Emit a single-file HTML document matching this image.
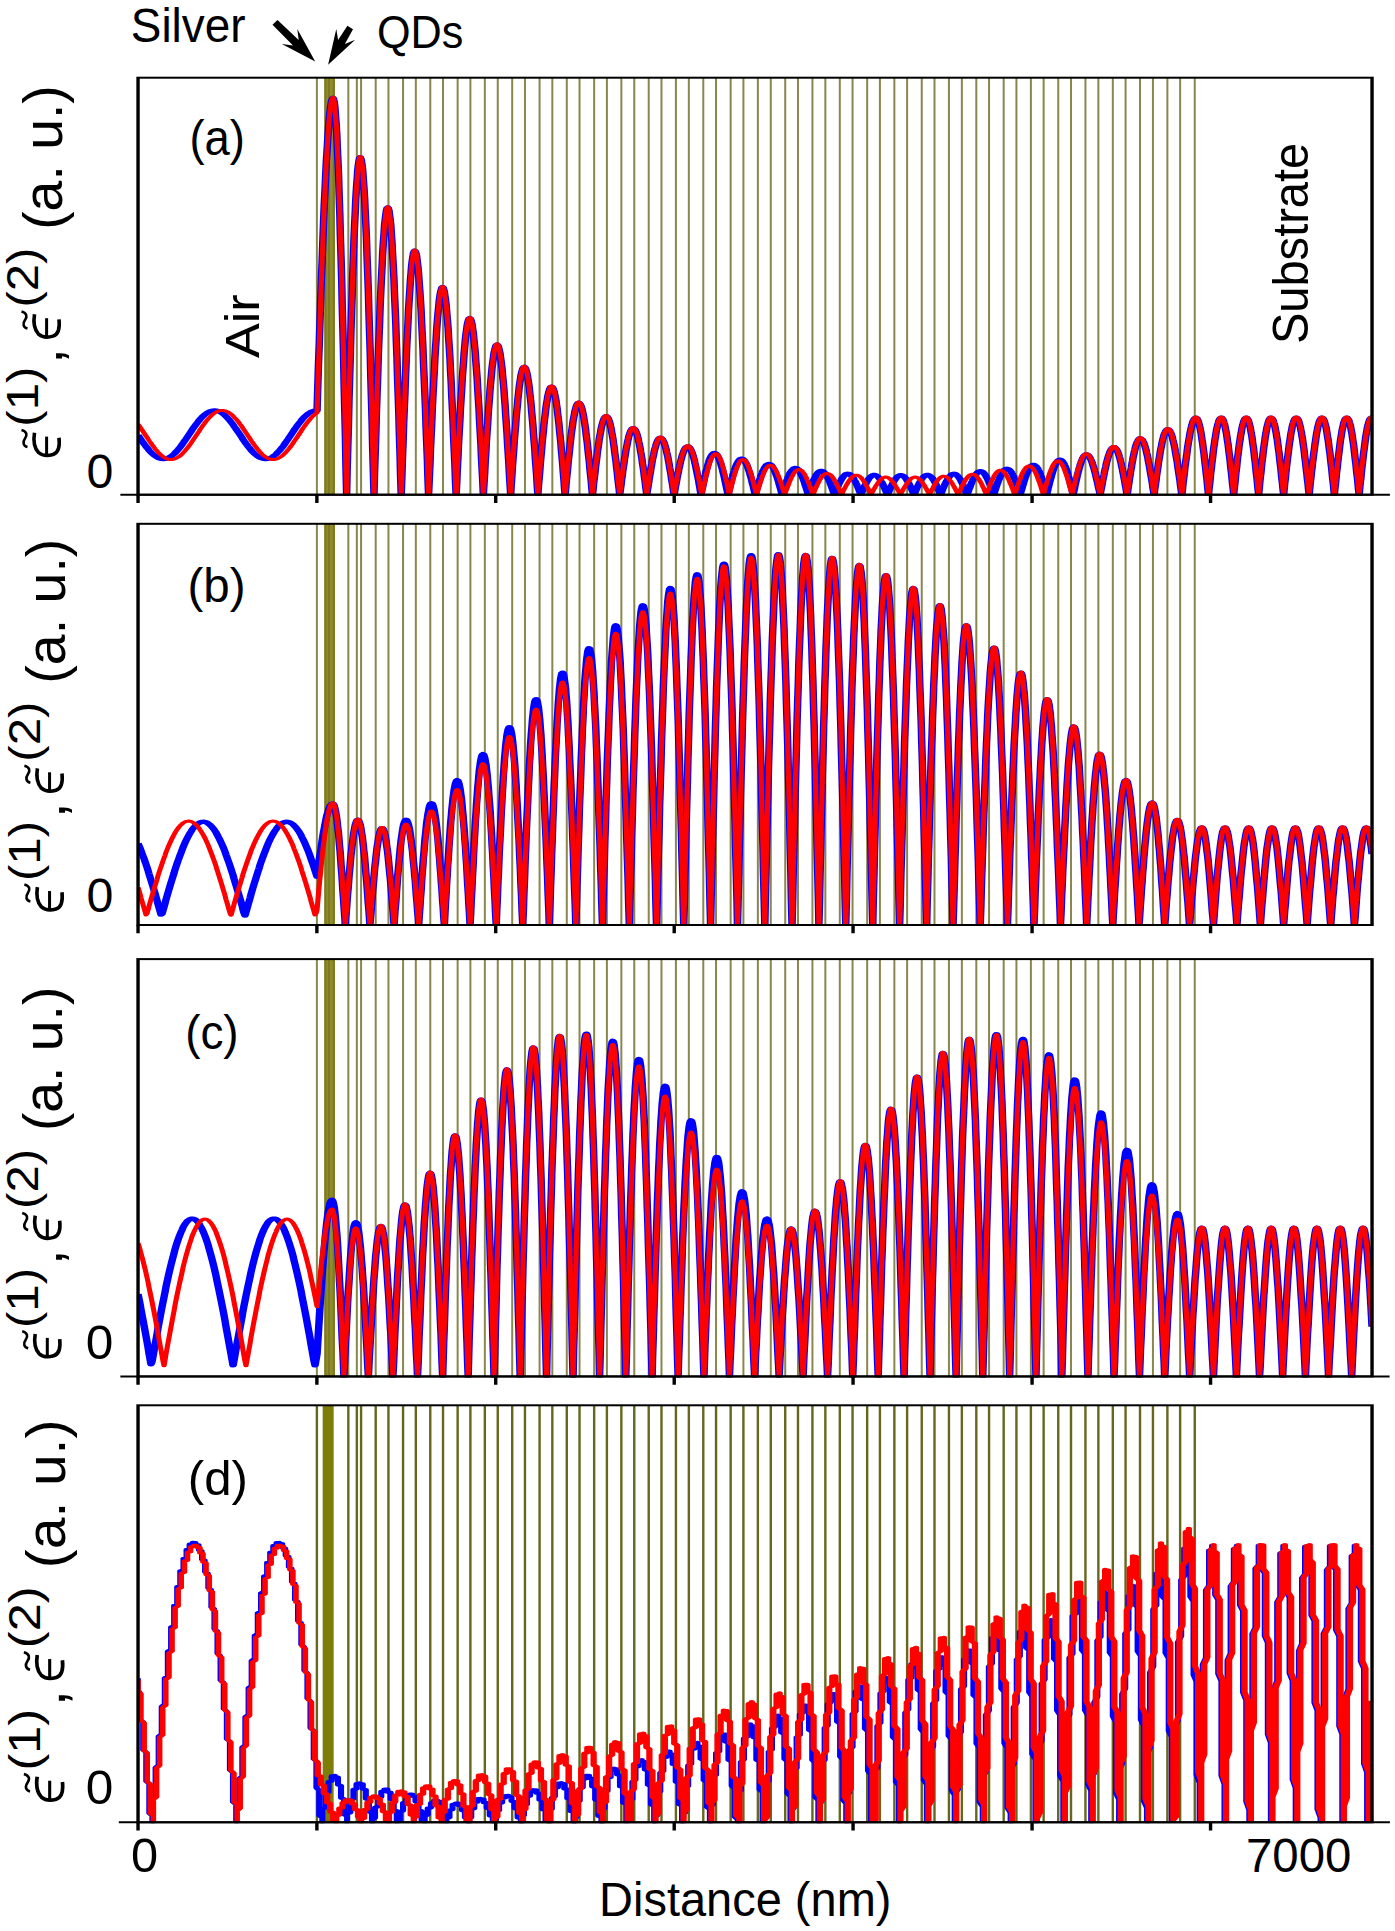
<!DOCTYPE html>
<html><head><meta charset="utf-8"><style>html,body{margin:0;padding:0;background:#fff;}svg{display:block;}</style></head>
<body><svg width="1395" height="1931" viewBox="0 0 1395 1931">
<rect x="0" y="0" width="1395" height="1931" fill="#fff"/>
<g transform="scale(1.7,1)">
<defs><clipPath id="cpa"><rect x="81.2" y="77.7" width="725.88" height="418"/></clipPath><clipPath id="cpb"><rect x="81.2" y="523.8" width="725.88" height="402.2"/></clipPath><clipPath id="cpc"><rect x="81.2" y="959.1" width="725.88" height="418.3"/></clipPath><clipPath id="cpd"><rect x="81.2" y="1405.3" width="725.88" height="418"/></clipPath></defs>
<path d="M186.4 77.7V494.7M204.9 77.7V494.7M209.9 77.7V494.7M212.4 77.7V494.7M221 77.7V494.7M237.1 77.7V494.7M253.1 77.7V494.7M269.2 77.7V494.7M285.2 77.7V494.7M301.3 77.7V494.7M317.4 77.7V494.7M333.4 77.7V494.7M349.5 77.7V494.7M365.5 77.7V494.7M381.6 77.7V494.7M397.6 77.7V494.7M413.7 77.7V494.7M429.8 77.7V494.7M445.8 77.7V494.7M461.9 77.7V494.7M477.9 77.7V494.7M494 77.7V494.7M510.1 77.7V494.7M526.1 77.7V494.7M542.2 77.7V494.7M558.2 77.7V494.7M574.3 77.7V494.7M590.4 77.7V494.7M606.4 77.7V494.7M622.5 77.7V494.7M638.5 77.7V494.7M654.6 77.7V494.7M670.6 77.7V494.7M686.7 77.7V494.7M702.8 77.7V494.7M228.5 77.7V494.7M244.6 77.7V494.7M260.6 77.7V494.7M276.7 77.7V494.7M292.8 77.7V494.7M308.8 77.7V494.7M324.9 77.7V494.7M340.9 77.7V494.7M357 77.7V494.7M373.1 77.7V494.7M389.1 77.7V494.7M405.2 77.7V494.7M421.2 77.7V494.7M437.3 77.7V494.7M453.4 77.7V494.7M469.4 77.7V494.7M485.5 77.7V494.7M501.5 77.7V494.7M517.6 77.7V494.7M533.6 77.7V494.7M549.7 77.7V494.7M565.8 77.7V494.7M581.8 77.7V494.7M597.9 77.7V494.7M613.9 77.7V494.7M630 77.7V494.7M646.1 77.7V494.7M662.1 77.7V494.7M678.2 77.7V494.7M694.2 77.7V494.7" stroke="#8a874c" stroke-width="1.176" fill="none"/>
<rect x="190.8" y="77.7" width="6.24" height="417" fill="#8f8d30"/>
<path d="M191.4 77.7V494.7M193.5 77.7V494.7M196.3 77.7V494.7" stroke="#7c7a1c" stroke-width="1.176" fill="none"/>
<g clip-path="url(#cpa)"><path d="M81.2 435.1L81.8 436.6L82.4 438.1L82.9 439.6L83.5 441L84.1 442.4L84.7 443.8L85.3 445.2L85.9 446.5L86.5 447.8L87.1 449L87.6 450.2L88.2 451.3L88.8 452.4L89.4 453.4L90 454.3L90.6 455.1L91.2 455.9L91.8 456.6L92.4 457.2L92.9 457.7L93.5 458.2L94.1 458.5L94.7 458.8L95.3 458.9L95.9 459L96.5 459L97.1 458.9L97.6 458.7L98.2 458.4L98.8 458L99.4 457.5L100 457L100.6 456.3L101.2 455.6L101.8 454.8L102.4 453.9L102.9 453L103.5 452L104.1 450.9L104.7 449.8L105.3 448.6L105.9 447.3L106.5 446L107.1 444.7L107.6 443.3L108.2 441.9L108.8 440.4L109.4 439L110 437.5L110.6 436L111.2 434.5L111.8 433L112.4 431.6L112.9 430.1L113.5 428.6L114.1 427.2L114.7 425.8L115.3 424.4L115.9 423.1L116.5 421.8L117.1 420.6L117.6 419.4L118.2 418.3L118.8 417.2L119.4 416.2L120 415.3L120.6 414.4L121.2 413.7L121.8 413L122.4 412.4L122.9 411.8L123.5 411.4L124.1 411L124.7 410.8L125.3 410.6L125.9 410.5L126.5 410.5L127.1 410.6L127.6 410.8L128.2 411.1L128.8 411.5L129.4 411.9L130 412.5L130.6 413.1L131.2 413.8L131.8 414.6L132.4 415.5L132.9 416.4L133.5 417.4L134.1 418.5L134.7 419.6L135.3 420.8L135.9 422.1L136.5 423.4L137.1 424.7L137.6 426.1L138.2 427.5L138.8 428.9L139.4 430.4L140 431.8L140.6 433.3L141.2 434.8L141.8 436.3L142.4 437.8L142.9 439.3L143.5 440.7L144.1 442.2L144.7 443.6L145.3 444.9L145.9 446.3L146.5 447.6L147.1 448.8L147.6 450L148.2 451.1L148.8 452.2L149.4 453.2L150 454.1L150.6 455L151.2 455.8L151.8 456.5L152.4 457.1L152.9 457.6L153.5 458.1L154.1 458.4L154.7 458.7L155.3 458.9L155.9 459L156.5 459L157.1 458.9L157.6 458.7L158.2 458.4L158.8 458.1L159.4 457.6L160 457.1L160.6 456.5L161.2 455.8L161.8 455L162.4 454.1L162.9 453.2L163.5 452.2L164.1 451.1L164.7 450L165.3 448.8L165.9 447.6L166.5 446.3L167.1 444.9L167.6 443.6L168.2 442.2L168.8 440.7L169.4 439.3L170 437.8L170.6 436.3L171.2 434.8L171.8 433.3L172.4 431.8L172.9 430.4L173.5 428.9L174.1 427.5L174.7 426.1L175.3 424.7L175.9 423.4L176.5 422.1L177.1 420.8L177.6 419.6L178.2 418.5L178.8 417.4L179.4 416.4L180 415.5L180.6 414.6L181.2 413.8L181.8 413.1L182.4 412.5L182.9 411.9L183.5 411.5L184.1 411.1L184.7 410.8L185.3 410.6L185.9 410.5L186.5 410.5L186.5 410.5L186.9 388.2L187.3 366L187.8 344.1L188.2 322.5L188.6 301.3L189 280.7L189.5 260.7L189.9 241.6L190.3 223.2L190.7 205.9L191.2 189.5L191.6 174.3L192 160.3L192.5 147.6L192.9 136.2L193.3 126.2L193.7 117.7L194.2 110.7L194.6 105.1L195 101.2L195.5 98.8L195.9 98L196.2 99L196.6 102L197 107.1L197.3 114.1L197.7 123L198.1 133.8L198.4 146.5L198.8 161L199.2 177.1L199.5 194.9L199.9 214.2L200.2 234.9L200.6 257L201 280.2L201.3 304.6L201.7 329.9L202.1 356.1L202.4 382.9L202.8 410.4L203.2 438.2L203.5 466.4L203.9 494.7L204.2 470.6L204.6 446.7L205 423L205.3 399.6L205.7 376.8L206.1 354.5L206.4 333L206.8 312.3L207.2 292.5L207.5 273.7L207.9 256.1L208.2 239.7L208.6 224.6L209 210.9L209.3 198.6L209.7 187.8L210.1 178.6L210.4 171L210.8 165L211.2 160.7L211.5 158.2L211.9 157.3L212.2 158.2L212.6 160.7L213 165L213.4 171L213.7 178.6L214.1 187.8L214.5 198.6L214.8 210.9L215.2 224.6L215.6 239.7L215.9 256.1L216.3 273.7L216.7 292.5L217 312.3L217.4 333L217.8 354.5L218.1 376.8L218.5 399.6L218.9 423L219.2 446.7L219.6 470.6L220 494.7L220.3 474.2L220.7 453.8L221.1 433.7L221.4 413.8L221.8 394.3L222.2 375.4L222.5 357.1L222.9 339.4L223.3 322.6L223.6 306.6L224 291.6L224.4 277.6L224.8 264.8L225.1 253.1L225.5 242.6L225.9 233.5L226.2 225.6L226.6 219.1L227 214.1L227.3 210.4L227.7 208.2L228.1 207.5L228.4 208.2L228.8 210.4L229.1 214.1L229.5 219.1L229.9 225.6L230.2 233.5L230.6 242.6L230.9 253.1L231.3 264.8L231.7 277.6L232 291.6L232.4 306.6L232.8 322.6L233.1 339.4L233.5 357.1L233.8 375.4L234.2 394.3L234.6 413.8L234.9 433.7L235.3 453.8L235.6 474.2L236 494.7L236.4 477.3L236.7 460L237.1 442.9L237.4 426L237.8 409.5L238.2 393.4L238.5 377.8L238.9 362.8L239.2 348.5L239.6 335L240 322.2L240.3 310.4L240.7 299.4L241.1 289.5L241.4 280.6L241.8 272.8L242.1 266.2L242.5 260.7L242.9 256.4L243.2 253.3L243.6 251.4L243.9 250.8L244.3 251.4L244.7 253.3L245.1 256.4L245.4 260.7L245.8 266.2L246.2 272.8L246.5 280.6L246.9 289.5L247.3 299.4L247.7 310.4L248 322.2L248.4 335L248.8 348.5L249.1 362.8L249.5 377.8L249.9 393.4L250.3 409.5L250.6 426L251 442.9L251.4 460L251.7 477.3L252.1 494.7L252.5 479.9L252.9 465.2L253.2 450.6L253.6 436.2L254 422.2L254.3 408.5L254.7 395.3L255.1 382.5L255.5 370.3L255.8 358.8L256.2 348L256.6 337.9L256.9 328.6L257.3 320.1L257.7 312.6L258.1 306L258.4 300.3L258.8 295.6L259.2 291.9L259.6 289.3L259.9 287.7L260.3 287.2L260.7 287.7L261 289.3L261.4 291.9L261.7 295.6L262.1 300.3L262.5 306L262.8 312.6L263.2 320.1L263.6 328.6L263.9 337.9L264.3 348L264.7 358.8L265 370.3L265.4 382.5L265.7 395.3L266.1 408.5L266.5 422.2L266.8 436.2L267.2 450.6L267.6 465.2L267.9 479.9L268.3 494.7L268.7 482.1L269 469.6L269.4 457.2L269.7 445L270.1 433L270.5 421.4L270.8 410.1L271.2 399.3L271.6 388.9L271.9 379.1L272.3 369.9L272.7 361.3L273 353.4L273.4 346.2L273.7 339.8L274.1 334.1L274.5 329.3L274.8 325.3L275.2 322.2L275.6 320L275.9 318.6L276.3 318.2L276.7 318.6L277 320L277.4 322.2L277.8 325.3L278.1 329.3L278.5 334.1L278.8 339.8L279.2 346.2L279.6 353.4L279.9 361.3L280.3 369.9L280.7 379.1L281 388.9L281.4 399.3L281.8 410.1L282.1 421.4L282.5 433L282.9 445L283.2 457.2L283.6 469.6L284 482.1L284.3 494.7L284.7 484L285.1 473.3L285.4 462.8L285.8 452.4L286.1 442.2L286.5 432.3L286.9 422.8L287.2 413.5L287.6 404.7L288 396.4L288.3 388.6L288.7 381.3L289.1 374.5L289.4 368.4L289.8 363L290.2 358.2L290.5 354.1L290.9 350.7L291.3 348L291.6 346.1L292 345L292.4 344.6L292.7 345L293.1 346.1L293.4 348L293.8 350.7L294.2 354.1L294.5 358.2L294.9 363L295.3 368.4L295.6 374.5L296 381.3L296.4 388.6L296.7 396.4L297.1 404.7L297.4 413.5L297.8 422.8L298.2 432.3L298.5 442.2L298.9 452.4L299.3 462.8L299.6 473.3L300 484L300.4 494.7L300.7 485.6L301.1 476.5L301.4 467.5L301.8 458.7L302.2 450L302.5 441.6L302.9 433.5L303.3 425.6L303.6 418.1L304 411L304.4 404.3L304.7 398.1L305.1 392.4L305.4 387.2L305.8 382.5L306.2 378.4L306.5 375L306.9 372.1L307.3 369.8L307.6 368.2L308 367.2L308.4 366.9L308.7 367.2L309.1 368.2L309.4 369.8L309.8 372.1L310.2 375L310.5 378.4L310.9 382.5L311.3 387.2L311.6 392.4L312 398.1L312.4 404.3L312.7 411L313.1 418.1L313.5 425.6L313.8 433.5L314.2 441.6L314.6 450L314.9 458.7L315.3 467.5L315.7 476.5L316 485.6L316.4 494.7L316.7 487L317.1 479.3L317.5 471.7L317.8 464.3L318.2 457L318.6 449.8L318.9 442.9L319.3 436.3L319.7 430L320 424L320.4 418.3L320.8 413.1L321.1 408.2L321.5 403.8L321.9 399.9L322.2 396.5L322.6 393.5L323 391.1L323.3 389.2L323.7 387.8L324 387L324.4 386.7L324.8 387L325.1 387.8L325.5 389.2L325.9 391.1L326.2 393.5L326.6 396.5L327 399.9L327.3 403.8L327.7 408.2L328 413.1L328.4 418.3L328.8 424L329.1 430L329.5 436.3L329.9 442.9L330.2 449.8L330.6 457L331 464.3L331.3 471.7L331.7 479.3L332 487L332.4 494.7L332.8 488.1L333.1 481.6L333.5 475.2L333.9 468.8L334.2 462.6L334.6 456.5L335 450.7L335.3 445L335.7 439.6L336 434.5L336.4 429.7L336.8 425.2L337.1 421.1L337.5 417.4L337.9 414L338.2 411.1L338.6 408.6L339 406.5L339.3 404.9L339.7 403.7L340 403L340.4 402.8L340.8 403L341.1 403.7L341.5 404.9L341.9 406.5L342.3 408.6L342.6 411.1L343 414L343.4 417.4L343.7 421.1L344.1 425.2L344.5 429.7L344.8 434.5L345.2 439.6L345.6 445L345.9 450.7L346.3 456.5L346.7 462.6L347 468.8L347.4 475.2L347.8 481.6L348.1 488.1L348.5 494.7L348.9 489.1L349.2 483.5L349.6 478L350 472.6L350.3 467.3L350.7 462.1L351.1 457.1L351.4 452.3L351.8 447.7L352.2 443.3L352.5 439.2L352.9 435.4L353.3 431.9L353.6 428.7L354 425.8L354.4 423.3L354.8 421.1L355.1 419.4L355.5 418L355.9 417L356.2 416.4L356.6 416.2L356.9 416.4L357.3 417L357.7 418L358 419.4L358.4 421.1L358.8 423.3L359.1 425.8L359.5 428.7L359.8 431.9L360.2 435.4L360.6 439.2L360.9 443.3L361.3 447.7L361.6 452.3L362 457.1L362.4 462.1L362.7 467.3L363.1 472.6L363.4 478L363.8 483.5L364.2 489.1L364.5 494.7L364.9 490L365.3 485.2L365.6 480.6L366 476L366.3 471.5L366.7 467.1L367.1 462.8L367.4 458.7L367.8 454.8L368.1 451.2L368.5 447.7L368.9 444.4L369.2 441.5L369.6 438.8L369.9 436.3L370.3 434.2L370.7 432.4L371 430.9L371.4 429.7L371.7 428.9L372.1 428.4L372.5 428.2L372.8 428.4L373.2 428.9L373.6 429.7L373.9 430.9L374.3 432.4L374.7 434.2L375 436.3L375.4 438.8L375.7 441.5L376.1 444.4L376.5 447.7L376.8 451.2L377.2 454.8L377.6 458.7L377.9 462.8L378.3 467.1L378.7 471.5L379 476L379.4 480.6L379.7 485.2L380.1 490L380.5 494.7L380.8 490.6L381.2 486.6L381.6 482.6L381.9 478.7L382.3 474.8L382.7 471.1L383 467.4L383.4 463.9L383.7 460.6L384.1 457.4L384.5 454.5L384.8 451.7L385.2 449.1L385.6 446.8L385.9 444.8L386.3 442.9L386.7 441.4L387 440.1L387.4 439.1L387.7 438.4L388.1 437.9L388.5 437.8L388.8 437.9L389.2 438.4L389.6 439.1L389.9 440.1L390.3 441.4L390.7 442.9L391 444.8L391.4 446.8L391.8 449.1L392.1 451.7L392.5 454.5L392.9 457.4L393.2 460.6L393.6 463.9L393.9 467.4L394.3 471.1L394.7 474.8L395 478.7L395.4 482.6L395.8 486.6L396.1 490.6L396.5 494.7L396.9 491.3L397.2 487.8L397.6 484.4L398 481.1L398.3 477.8L398.7 474.6L399.1 471.6L399.4 468.6L399.8 465.8L400.1 463.1L400.5 460.5L400.9 458.2L401.2 456L401.6 454.1L402 452.3L402.3 450.8L402.7 449.4L403.1 448.4L403.4 447.5L403.8 446.9L404.2 446.5L404.5 446.4L404.9 446.5L405.2 446.9L405.6 447.5L406 448.4L406.3 449.4L406.7 450.8L407 452.3L407.4 454.1L407.7 456L408.1 458.2L408.5 460.5L408.8 463.1L409.2 465.8L409.5 468.6L409.9 471.6L410.2 474.6L410.6 477.8L411 481.1L411.3 484.4L411.7 487.8L412 491.3L412.4 494.7L412.7 491.7L413.1 488.8L413.5 485.8L413.8 483L414.2 480.1L414.5 477.4L414.9 474.7L415.2 472.2L415.6 469.7L416 467.4L416.3 465.2L416.7 463.2L417 461.3L417.4 459.6L417.7 458.1L418.1 456.8L418.5 455.6L418.8 454.7L419.2 454L419.5 453.4L419.9 453.1L420.2 453L420.6 453.1L421 453.4L421.3 454L421.7 454.7L422.1 455.6L422.4 456.8L422.8 458.1L423.1 459.6L423.5 461.3L423.9 463.2L424.2 465.2L424.6 467.4L425 469.7L425.3 472.2L425.7 474.7L426.1 477.4L426.4 480.1L426.8 483L427.1 485.8L427.5 488.8L427.9 491.7L428.2 494.7L428.6 492.1L429 489.6L429.3 487L429.7 484.6L430.1 482.1L430.4 479.7L430.8 477.4L431.1 475.2L431.5 473.1L431.9 471.1L432.2 469.2L432.6 467.5L433 465.9L433.3 464.4L433.7 463.1L434.1 462L434.4 461L434.8 460.2L435.1 459.5L435.5 459.1L435.9 458.8L436.2 458.7L436.6 458.8L437 459.1L437.3 459.5L437.7 460.2L438.1 461L438.4 462L438.8 463.1L439.2 464.4L439.5 465.9L439.9 467.5L440.2 469.2L440.6 471.1L441 473.1L441.3 475.2L441.7 477.4L442.1 479.7L442.4 482.1L442.8 484.6L443.2 487L443.5 489.6L443.9 492.1L444.3 494.7L444.6 492.5L445 490.3L445.4 488.2L445.7 486.1L446.1 484L446.5 481.9L446.8 480L447.2 478.1L447.5 476.3L447.9 474.6L448.3 473L448.6 471.5L449 470.1L449.4 468.9L449.7 467.8L450.1 466.8L450.5 465.9L450.8 465.2L451.2 464.7L451.6 464.3L451.9 464.1L452.3 464L452.6 464.1L453 464.3L453.4 464.7L453.7 465.2L454.1 465.9L454.4 466.8L454.8 467.8L455.1 468.9L455.5 470.1L455.8 471.5L456.2 473L456.5 474.6L456.9 476.3L457.3 478.1L457.6 480L458 481.9L458.3 484L458.7 486.1L459 488.2L459.4 490.3L459.7 492.5L460.1 494.7L460.4 492.8L460.8 490.9L461.2 489L461.5 487.2L461.9 485.4L462.2 483.6L462.6 481.9L462.9 480.3L463.3 478.7L463.6 477.2L464 475.8L464.3 474.5L464.7 473.3L465 472.2L465.4 471.3L465.8 470.4L466.1 469.7L466.5 469.1L466.8 468.6L467.2 468.3L467.5 468.1L467.9 468L468.2 468.1L468.6 468.3L468.9 468.6L469.3 469.1L469.6 469.7L470 470.4L470.3 471.3L470.6 472.2L471 473.3L471.3 474.5L471.7 475.8L472 477.2L472.4 478.7L472.7 480.3L473.1 481.9L473.4 483.6L473.7 485.4L474.1 487.2L474.4 489L474.8 490.9L475.1 492.8L475.5 494.7L475.8 493L476.2 491.3L476.5 489.6L476.9 488L477.2 486.4L477.5 484.8L477.9 483.3L478.2 481.8L478.6 480.4L478.9 479.1L479.3 477.9L479.6 476.7L480 475.6L480.3 474.7L480.6 473.8L481 473.1L481.3 472.4L481.7 471.9L482 471.4L482.4 471.1L482.7 471L483.1 470.9L483.4 471L483.8 471.1L484.1 471.4L484.5 471.9L484.8 472.4L485.2 473.1L485.5 473.8L485.9 474.7L486.2 475.6L486.6 476.7L487 477.9L487.3 479.1L487.7 480.4L488 481.8L488.4 483.3L488.7 484.8L489.1 486.4L489.4 488L489.8 489.6L490.1 491.3L490.5 493L490.9 494.7L491.2 493.2L491.6 491.7L491.9 490.3L492.3 488.8L492.6 487.4L493 486L493.3 484.7L493.7 483.4L494 482.2L494.4 481L494.8 479.9L495.1 478.9L495.5 478L495.8 477.1L496.2 476.4L496.5 475.7L496.9 475.1L497.2 474.6L497.6 474.3L497.9 474L498.3 473.9L498.6 473.8L499 473.9L499.4 474L499.7 474.3L500.1 474.6L500.4 475.1L500.8 475.7L501.1 476.4L501.5 477.1L501.8 478L502.2 478.9L502.5 479.9L502.9 481L503.3 482.2L503.6 483.4L504 484.7L504.3 486L504.7 487.4L505 488.8L505.4 490.3L505.7 491.7L506.1 493.2L506.4 494.7L506.8 493.3L507.1 491.9L507.5 490.5L507.9 489.1L508.2 487.8L508.6 486.5L508.9 485.2L509.3 484L509.6 482.8L510 481.7L510.3 480.7L510.7 479.7L511 478.8L511.4 478L511.8 477.3L512.1 476.7L512.5 476.1L512.8 475.7L513.2 475.4L513.5 475.1L513.9 475L514.2 474.9L514.6 475L514.9 475.1L515.3 475.4L515.7 475.7L516 476.1L516.4 476.7L516.7 477.3L517.1 478L517.4 478.8L517.8 479.7L518.1 480.7L518.5 481.7L518.9 482.8L519.2 484L519.6 485.2L519.9 486.5L520.3 487.8L520.6 489.1L521 490.5L521.3 491.9L521.7 493.3L522.1 494.7L522.4 493.3L522.8 491.9L523.1 490.6L523.5 489.2L523.8 487.9L524.2 486.6L524.5 485.4L524.9 484.2L525.3 483L525.6 481.9L526 480.9L526.3 480L526.7 479.1L527 478.3L527.4 477.6L527.7 477L528.1 476.4L528.5 476L528.8 475.6L529.2 475.4L529.5 475.2L529.9 475.2L530.2 475.2L530.6 475.4L530.9 475.6L531.3 476L531.7 476.4L532 477L532.4 477.6L532.7 478.3L533.1 479.1L533.4 480L533.8 480.9L534.1 481.9L534.5 483L534.8 484.2L535.2 485.4L535.6 486.6L535.9 487.9L536.3 489.2L536.6 490.6L537 491.9L537.3 493.3L537.7 494.7L538 493.3L538.4 491.9L538.7 490.5L539.1 489.1L539.4 487.8L539.8 486.5L540.2 485.2L540.5 484L540.9 482.8L541.2 481.7L541.6 480.7L541.9 479.7L542.3 478.8L542.6 478L543 477.3L543.3 476.7L543.7 476.1L544.1 475.7L544.4 475.4L544.8 475.1L545.1 475L545.5 474.9L545.8 475L546.2 475.1L546.5 475.4L546.9 475.7L547.2 476.1L547.6 476.7L548 477.3L548.3 478L548.7 478.8L549 479.7L549.4 480.7L549.7 481.7L550.1 482.8L550.4 484L550.8 485.2L551.1 486.5L551.5 487.8L551.8 489.1L552.2 490.5L552.6 491.9L552.9 493.3L553.3 494.7L553.6 493.2L554 491.7L554.3 490.3L554.7 488.8L555 487.4L555.4 486L555.7 484.7L556.1 483.4L556.5 482.2L556.8 481L557.2 479.9L557.5 478.9L557.9 478L558.2 477.1L558.6 476.4L558.9 475.7L559.3 475.1L559.6 474.6L560 474.3L560.4 474L560.7 473.9L561.1 473.8L561.4 473.9L561.8 474L562.1 474.3L562.5 474.6L562.8 475.1L563.2 475.7L563.5 476.4L563.9 477.1L564.3 478L564.6 478.9L565 479.9L565.3 481L565.7 482.2L566 483.4L566.4 484.7L566.7 486L567.1 487.4L567.5 488.8L567.8 490.3L568.2 491.7L568.5 493.2L568.9 494.7L569.2 493L569.6 491.4L569.9 489.7L570.3 488.1L570.7 486.5L571 484.9L571.4 483.4L571.7 482L572.1 480.6L572.4 479.3L572.8 478.1L573.1 476.9L573.5 475.9L573.9 474.9L574.2 474.1L574.6 473.3L574.9 472.7L575.3 472.2L575.6 471.7L576 471.4L576.4 471.3L576.7 471.2L577.1 471.3L577.4 471.4L577.8 471.7L578.1 472.2L578.5 472.7L578.8 473.3L579.2 474.1L579.5 474.9L579.9 475.9L580.2 476.9L580.6 478.1L581 479.3L581.3 480.6L581.7 482L582 483.4L582.4 484.9L582.7 486.5L583.1 488.1L583.4 489.7L583.8 491.4L584.1 493L584.5 494.7L584.9 492.9L585.2 491L585.6 489.2L585.9 487.4L586.3 485.6L586.6 483.9L587 482.3L587.3 480.7L587.7 479.2L588 477.7L588.4 476.4L588.8 475.1L589.1 474L589.5 472.9L589.8 472L590.2 471.1L590.5 470.4L590.9 469.8L591.2 469.4L591.6 469.1L591.9 468.9L592.3 468.8L592.6 468.9L593 469.1L593.4 469.4L593.7 469.8L594.1 470.4L594.4 471.1L594.8 472L595.1 472.9L595.5 474L595.8 475.1L596.2 476.4L596.5 477.7L596.9 479.2L597.3 480.7L597.6 482.3L598 483.9L598.3 485.6L598.7 487.4L599 489.2L599.4 491L599.7 492.9L600.1 494.7L600.4 492.6L600.8 490.5L601.2 488.4L601.5 486.3L601.9 484.3L602.2 482.3L602.6 480.4L602.9 478.6L603.3 476.8L603.6 475.2L604 473.6L604.3 472.2L604.7 470.8L605 469.6L605.4 468.5L605.8 467.6L606.1 466.8L606.5 466.1L606.8 465.6L607.2 465.2L607.5 465L607.9 464.9L608.2 465L608.6 465.2L608.9 465.6L609.3 466.1L609.7 466.8L610 467.6L610.4 468.5L610.7 469.6L611.1 470.8L611.4 472.2L611.8 473.6L612.1 475.2L612.5 476.8L612.8 478.6L613.2 480.4L613.6 482.3L613.9 484.3L614.3 486.3L614.6 488.4L615 490.5L615.3 492.6L615.7 494.7L616 492.2L616.4 489.7L616.7 487.3L617.1 484.8L617.4 482.5L617.8 480.2L618.2 477.9L618.5 475.8L618.9 473.7L619.2 471.8L619.6 470L619.9 468.2L620.3 466.7L620.6 465.3L621 464L621.3 462.9L621.7 461.9L622.1 461.1L622.4 460.5L622.8 460.1L623.1 459.8L623.5 459.7L623.8 459.8L624.2 460.1L624.5 460.5L624.9 461.1L625.2 461.9L625.6 462.9L626 464L626.3 465.3L626.7 466.7L627 468.2L627.4 470L627.7 471.8L628.1 473.7L628.4 475.8L628.8 477.9L629.1 480.2L629.5 482.5L629.8 484.8L630.2 487.3L630.6 489.7L630.9 492.2L631.3 494.7L631.6 491.8L632 489L632.3 486.1L632.7 483.3L633 480.6L633.4 478L633.7 475.4L634.1 472.9L634.5 470.5L634.8 468.3L635.2 466.2L635.5 464.2L635.9 462.4L636.2 460.8L636.6 459.3L636.9 458L637.3 456.9L637.6 456L638 455.3L638.4 454.8L638.7 454.5L639.1 454.4L639.4 454.5L639.8 454.8L640.2 455.3L640.5 456L640.9 456.9L641.3 458L641.6 459.3L642 460.8L642.4 462.4L642.7 464.2L643.1 466.2L643.5 468.3L643.8 470.5L644.2 472.9L644.6 475.4L644.9 478L645.3 480.6L645.7 483.3L646 486.1L646.4 489L646.8 491.8L647.1 494.7L647.5 491.3L647.9 487.9L648.3 484.6L648.6 481.3L649 478.1L649.4 474.9L649.7 471.9L650.1 469L650.5 466.2L650.8 463.5L651.2 461L651.6 458.7L651.9 456.6L652.3 454.7L652.7 452.9L653 451.4L653.4 450.1L653.8 449L654.1 448.2L654.5 447.6L654.9 447.2L655.2 447.1L655.6 447.2L655.9 447.6L656.3 448.2L656.6 449L657 450.1L657.4 451.4L657.7 452.9L658.1 454.7L658.4 456.6L658.8 458.7L659.1 461L659.5 463.5L659.8 466.2L660.2 469L660.5 471.9L660.9 474.9L661.2 478.1L661.6 481.3L661.9 484.6L662.3 487.9L662.6 491.3L663 494.7L663.4 490.7L663.7 486.7L664.1 482.7L664.4 478.8L664.8 475L665.1 471.3L665.5 467.7L665.8 464.3L666.2 461L666.5 457.8L666.9 454.9L667.2 452.2L667.6 449.6L667.9 447.3L668.3 445.3L668.6 443.5L669 441.9L669.4 440.7L669.7 439.7L670.1 439L670.4 438.5L670.8 438.4L671.1 438.5L671.5 439L671.9 439.7L672.2 440.7L672.6 441.9L673 443.5L673.3 445.3L673.7 447.3L674.1 449.6L674.4 452.2L674.8 454.9L675.2 457.8L675.5 461L675.9 464.3L676.3 467.7L676.6 471.3L677 475L677.4 478.8L677.8 482.7L678.1 486.7L678.5 490.7L678.9 494.7L679.2 490L679.6 485.4L680 480.8L680.3 476.2L680.7 471.8L681.1 467.5L681.4 463.3L681.8 459.3L682.2 455.4L682.5 451.8L682.9 448.4L683.3 445.2L683.6 442.3L684 439.6L684.4 437.2L684.7 435.1L685.1 433.3L685.5 431.9L685.8 430.7L686.2 429.9L686.6 429.4L686.9 429.2L687.3 429.4L687.7 429.9L688.1 430.7L688.4 431.9L688.8 433.3L689.2 435.1L689.6 437.2L689.9 439.6L690.3 442.3L690.7 445.2L691.1 448.4L691.4 451.8L691.8 455.4L692.2 459.3L692.6 463.3L692.9 467.5L693.3 471.8L693.7 476.2L694.1 480.8L694.4 485.4L694.8 490L695.2 494.7L695.6 489.2L695.9 483.7L696.3 478.3L696.7 473L697 467.8L697.4 462.7L697.8 457.8L698.2 453.1L698.5 448.6L698.9 444.3L699.3 440.3L699.7 436.5L700 433.1L700.4 429.9L700.8 427.1L701.2 424.7L701.5 422.6L701.9 420.8L702.3 419.5L702.7 418.5L703 417.9L703.4 417.7L703.8 417.9L704.1 418.5L704.4 419.5L704.8 420.8L705.1 422.6L705.4 424.7L705.8 427.1L706.1 429.9L706.5 433.1L706.8 436.5L707.1 440.3L707.5 444.3L707.8 448.6L708.2 453.1L708.5 457.8L708.8 462.7L709.2 467.8L709.5 473L709.9 478.3L710.2 483.7L710.5 489.2L710.9 494.7L711.2 489.2L711.6 483.7L711.9 478.3L712.2 473L712.6 467.8L712.9 462.7L713.3 457.8L713.6 453.1L713.9 448.6L714.3 444.3L714.6 440.3L715 436.5L715.3 433.1L715.6 429.9L716 427.1L716.3 424.7L716.7 422.6L717 420.8L717.3 419.5L717.7 418.5L718 417.9L718.4 417.7L718.7 417.9L719 418.5L719.4 419.5L719.7 420.8L720 422.6L720.4 424.7L720.7 427.1L721 429.9L721.4 433.1L721.7 436.5L722 440.3L722.4 444.3L722.7 448.6L723 453.1L723.4 457.8L723.7 462.7L724 467.8L724.4 473L724.7 478.3L725 483.7L725.4 489.2L725.7 494.7L726 489.2L726.4 483.7L726.7 478.3L727 473L727.4 467.8L727.7 462.7L728 457.8L728.4 453.1L728.7 448.6L729 444.3L729.4 440.3L729.7 436.5L730.1 433.1L730.4 429.9L730.7 427.1L731.1 424.7L731.4 422.6L731.7 420.8L732.1 419.5L732.4 418.5L732.7 417.9L733.1 417.7L733.4 417.9L733.7 418.5L734.1 419.5L734.4 420.8L734.7 422.6L735 424.7L735.4 427.1L735.7 429.9L736 433.1L736.4 436.5L736.7 440.3L737 444.3L737.4 448.6L737.7 453.1L738 457.8L738.4 462.7L738.7 467.8L739 473L739.4 478.3L739.7 483.7L740 489.2L740.4 494.7L740.7 489.2L741 483.7L741.3 478.3L741.7 473L742 467.8L742.3 462.7L742.7 457.8L743 453.1L743.3 448.6L743.7 444.3L744 440.3L744.3 436.5L744.7 433.1L745 429.9L745.3 427.1L745.7 424.7L746 422.6L746.3 420.8L746.7 419.5L747 418.5L747.3 417.9L747.6 417.7L748 417.9L748.3 418.5L748.7 419.5L749 420.8L749.3 422.6L749.7 424.7L750 427.1L750.3 429.9L750.7 433.1L751 436.5L751.4 440.3L751.7 444.3L752 448.6L752.4 453.1L752.7 457.8L753 462.7L753.4 467.8L753.7 473L754 478.3L754.4 483.7L754.7 489.2L755.1 494.7L755.4 489.2L755.7 483.7L756.1 478.3L756.4 473L756.7 467.8L757.1 462.7L757.4 457.8L757.8 453.1L758.1 448.6L758.4 444.3L758.8 440.3L759.1 436.5L759.4 433.1L759.8 429.9L760.1 427.1L760.4 424.7L760.8 422.6L761.1 420.8L761.5 419.5L761.8 418.5L762.1 417.9L762.5 417.7L762.8 417.9L763.2 418.5L763.5 419.5L763.9 420.8L764.2 422.6L764.5 424.7L764.9 427.1L765.2 429.9L765.6 433.1L765.9 436.5L766.3 440.3L766.6 444.3L767 448.6L767.3 453.1L767.6 457.8L768 462.7L768.3 467.8L768.7 473L769 478.3L769.4 483.7L769.7 489.2L770.1 494.7L770.4 489.2L770.7 483.7L771.1 478.3L771.4 473L771.8 467.8L772.1 462.7L772.5 457.8L772.8 453.1L773.2 448.6L773.5 444.3L773.9 440.3L774.2 436.5L774.5 433.1L774.9 429.9L775.2 427.1L775.6 424.7L775.9 422.6L776.3 420.8L776.6 419.5L777 418.5L777.3 417.9L777.6 417.7L778 417.9L778.3 418.5L778.6 419.5L779 420.8L779.3 422.6L779.6 424.7L780 427.1L780.3 429.9L780.6 433.1L780.9 436.5L781.3 440.3L781.6 444.3L781.9 448.6L782.3 453.1L782.6 457.8L782.9 462.7L783.3 467.8L783.6 473L783.9 478.3L784.3 483.7L784.6 489.2L784.9 494.7L785.2 489.2L785.6 483.7L785.9 478.3L786.2 473L786.6 467.8L786.9 462.7L787.2 457.8L787.6 453.1L787.9 448.6L788.2 444.3L788.5 440.3L788.9 436.5L789.2 433.1L789.5 429.9L789.9 427.1L790.2 424.7L790.5 422.6L790.9 420.8L791.2 419.5L791.5 418.5L791.8 417.9L792.2 417.7L792.5 417.9L792.8 418.5L793.2 419.5L793.5 420.8L793.8 422.6L794.2 424.7L794.5 427.1L794.8 429.9L795.2 433.1L795.5 436.5L795.8 440.3L796.2 444.3L796.5 448.6L796.8 453.1L797.1 457.8L797.5 462.7L797.8 467.8L798.1 473L798.5 478.3L798.8 483.7L799.1 489.2L799.5 494.7L799.8 489.2L800.1 483.7L800.5 478.3L800.8 473L801.1 467.8L801.5 462.7L801.8 457.8L802.1 453.1L802.5 448.6L802.8 444.3L803.1 440.3L803.4 436.5L803.8 433.1L804.1 429.9L804.4 427.1L804.8 424.7L805.1 422.6L805.4 420.8L805.8 419.5L806.1 418.5L806.4 417.9L806.8 417.7L807.1 417.9" stroke="#0000ff" stroke-width="4.4" fill="none" stroke-linejoin="round" stroke-linecap="butt"/></g>
<g clip-path="url(#cpa)"><path d="M81.2 424.2L81.8 425.6L82.4 427L82.9 428.4L83.5 429.9L84.1 431.4L84.7 432.9L85.3 434.4L85.9 435.9L86.5 437.4L87.1 438.9L87.6 440.3L88.2 441.8L88.8 443.2L89.4 444.6L90 446L90.6 447.3L91.2 448.6L91.8 449.8L92.4 451L92.9 452.1L93.5 453.2L94.1 454.1L94.7 455L95.3 455.9L95.9 456.6L96.5 457.3L97.1 457.9L97.6 458.4L98.2 458.8L98.8 459.1L99.4 459.3L100 459.5L100.6 459.5L101.2 459.4L101.8 459.3L102.4 459.1L102.9 458.7L103.5 458.3L104.1 457.8L104.7 457.2L105.3 456.6L105.9 455.8L106.5 455L107.1 454.1L107.6 453.1L108.2 452L108.8 450.9L109.4 449.7L110 448.5L110.6 447.2L111.2 445.9L111.8 444.5L112.4 443.1L112.9 441.7L113.5 440.2L114.1 438.7L114.7 437.2L115.3 435.7L115.9 434.2L116.5 432.7L117.1 431.2L117.6 429.7L118.2 428.3L118.8 426.8L119.4 425.4L120 424.1L120.6 422.7L121.2 421.4L121.8 420.2L122.4 419L122.9 417.9L123.5 416.9L124.1 415.9L124.7 415L125.3 414.2L125.9 413.4L126.5 412.7L127.1 412.2L127.6 411.7L128.2 411.2L128.8 410.9L129.4 410.7L130 410.5L130.6 410.5L131.2 410.5L131.8 410.7L132.4 410.9L132.9 411.2L133.5 411.7L134.1 412.2L134.7 412.7L135.3 413.4L135.9 414.2L136.5 415L137.1 415.9L137.6 416.9L138.2 417.9L138.8 419L139.4 420.2L140 421.4L140.6 422.7L141.2 424.1L141.8 425.4L142.4 426.8L142.9 428.3L143.5 429.7L144.1 431.2L144.7 432.7L145.3 434.2L145.9 435.7L146.5 437.2L147.1 438.7L147.6 440.2L148.2 441.7L148.8 443.1L149.4 444.5L150 445.9L150.6 447.2L151.2 448.5L151.8 449.7L152.4 450.9L152.9 452L153.5 453.1L154.1 454.1L154.7 455L155.3 455.8L155.9 456.6L156.5 457.2L157.1 457.8L157.6 458.3L158.2 458.7L158.8 459.1L159.4 459.3L160 459.4L160.6 459.5L161.2 459.5L161.8 459.3L162.4 459.1L162.9 458.8L163.5 458.4L164.1 457.9L164.7 457.3L165.3 456.6L165.9 455.9L166.5 455L167.1 454.1L167.6 453.2L168.2 452.1L168.8 451L169.4 449.8L170 448.6L170.6 447.3L171.2 446L171.8 444.6L172.4 443.2L172.9 441.8L173.5 440.3L174.1 438.9L174.7 437.4L175.3 435.9L175.9 434.4L176.5 432.9L177.1 431.4L177.6 429.9L178.2 428.4L178.8 427L179.4 425.6L180 424.2L180.6 422.9L181.2 421.6L181.8 420.3L182.4 419.2L182.9 418L183.5 417L184.1 416L184.7 415.1L185.3 414.2L185.9 413.5L186.5 412.8L186.5 412.8L186.9 390.3L187.3 367.9L187.8 345.7L188.2 323.9L188.6 302.5L189 281.7L189.5 261.6L189.9 242.2L190.3 223.7L190.7 206.2L191.2 189.7L191.6 174.4L192 160.2L192.5 147.4L192.9 135.9L193.3 125.8L193.7 117.2L194.2 110.1L194.6 104.5L195 100.5L195.5 98.1L195.9 97.3L196.2 98.3L196.6 101.3L197 106.4L197.3 113.4L197.7 122.4L198.1 133.2L198.4 145.9L198.8 160.4L199.2 176.6L199.5 194.4L199.9 213.7L200.2 234.5L200.6 256.5L201 279.8L201.3 304.2L201.7 329.6L202.1 355.8L202.4 382.7L202.8 410.2L203.2 438.1L203.5 466.3L203.9 494.7L204.2 470.6L204.6 446.6L205 422.8L205.3 399.4L205.7 376.5L206.1 354.2L206.4 332.7L206.8 311.9L207.2 292.1L207.5 273.3L207.9 255.6L208.2 239.2L208.6 224L209 210.3L209.3 198L209.7 187.2L210.1 177.9L210.4 170.3L210.8 164.3L211.2 160L211.5 157.5L211.9 156.6L212.2 157.5L212.6 160L213 164.3L213.4 170.3L213.7 177.9L214.1 187.2L214.5 198L214.8 210.3L215.2 224L215.6 239.2L215.9 255.6L216.3 273.3L216.7 292.1L217 311.9L217.4 332.7L217.8 354.2L218.1 376.5L218.5 399.4L218.9 422.8L219.2 446.6L219.6 470.6L220 494.7L220.3 474.2L220.7 453.7L221.1 433.5L221.4 413.6L221.8 394.1L222.2 375.1L222.5 356.7L222.9 339L223.3 322.2L223.6 306.2L224 291.1L224.4 277.1L224.8 264.2L225.1 252.5L225.5 242L225.9 232.8L226.2 225L226.6 218.5L227 213.4L227.3 209.7L227.7 207.5L228.1 206.8L228.4 207.5L228.8 209.7L229.1 213.4L229.5 218.5L229.9 225L230.2 232.8L230.6 242L230.9 252.5L231.3 264.2L231.7 277.1L232 291.1L232.4 306.2L232.8 322.2L233.1 339L233.5 356.7L233.8 375.1L234.2 394.1L234.6 413.6L234.9 433.5L235.3 453.7L235.6 474.2L236 494.7L236.4 477.3L236.7 459.9L237.1 442.7L237.4 425.8L237.8 409.2L238.2 393.1L238.5 377.5L238.9 362.5L239.2 348.1L239.6 334.5L240 321.7L240.3 309.8L240.7 298.9L241.1 288.9L241.4 280L241.8 272.2L242.1 265.5L242.5 260L242.9 255.7L243.2 252.6L243.6 250.7L243.9 250.1L244.3 250.7L244.7 252.6L245.1 255.7L245.4 260L245.8 265.5L246.2 272.2L246.5 280L246.9 288.9L247.3 298.9L247.7 309.8L248 321.7L248.4 334.5L248.8 348.1L249.1 362.5L249.5 377.5L249.9 393.1L250.3 409.2L250.6 425.8L251 442.7L251.4 459.9L251.7 477.3L252.1 494.7L252.5 479.8L252.9 465.1L253.2 450.4L253.6 436L254 421.9L254.3 408.2L254.7 394.9L255.1 382.1L255.5 369.9L255.8 358.4L256.2 347.5L256.6 337.4L256.9 328L257.3 319.6L257.7 312L258.1 305.3L258.4 299.6L258.8 294.9L259.2 291.3L259.6 288.6L259.9 287L260.3 286.5L260.7 287L261 288.6L261.4 291.3L261.7 294.9L262.1 299.6L262.5 305.3L262.8 312L263.2 319.6L263.6 328L263.9 337.4L264.3 347.5L264.7 358.4L265 369.9L265.4 382.1L265.7 394.9L266.1 408.2L266.5 421.9L266.8 436L267.2 450.4L267.6 465.1L267.9 479.8L268.3 494.7L268.7 482.1L269 469.5L269.4 457L269.7 444.8L270.1 432.8L270.5 421.1L270.8 409.8L271.2 398.9L271.6 388.5L271.9 378.7L272.3 369.4L272.7 360.8L273 352.8L273.4 345.6L273.7 339.2L274.1 333.5L274.5 328.7L274.8 324.7L275.2 321.5L275.6 319.3L275.9 318L276.3 317.5L276.7 318L277 319.3L277.4 321.5L277.8 324.7L278.1 328.7L278.5 333.5L278.8 339.2L279.2 345.6L279.6 352.8L279.9 360.8L280.3 369.4L280.7 378.7L281 388.5L281.4 398.9L281.8 409.8L282.1 421.1L282.5 432.8L282.9 444.8L283.2 457L283.6 469.5L284 482.1L284.3 494.7L284.7 483.9L285.1 473.2L285.4 462.6L285.8 452.2L286.1 442L286.5 432.1L286.9 422.4L287.2 413.2L287.6 404.3L288 395.9L288.3 388.1L288.7 380.7L289.1 374L289.4 367.8L289.8 362.3L290.2 357.5L290.5 353.4L290.9 350L291.3 347.3L291.6 345.4L292 344.3L292.4 343.9L292.7 344.3L293.1 345.4L293.4 347.3L293.8 350L294.2 353.4L294.5 357.5L294.9 362.3L295.3 367.8L295.6 374L296 380.7L296.4 388.1L296.7 395.9L297.1 404.3L297.4 413.2L297.8 422.4L298.2 432.1L298.5 442L298.9 452.2L299.3 462.6L299.6 473.2L300 483.9L300.4 494.7L300.7 485.5L301.1 476.4L301.4 467.4L301.8 458.5L302.2 449.8L302.5 441.3L302.9 433.1L303.3 425.2L303.6 417.7L304 410.6L304.4 403.8L304.7 397.6L305.1 391.8L305.4 386.6L305.8 381.9L306.2 377.8L306.5 374.3L306.9 371.4L307.3 369.1L307.6 367.5L308 366.5L308.4 366.2L308.7 366.5L309.1 367.5L309.4 369.1L309.8 371.4L310.2 374.3L310.5 377.8L310.9 381.9L311.3 386.6L311.6 391.8L312 397.6L312.4 403.8L312.7 410.6L313.1 417.7L313.5 425.2L313.8 433.1L314.2 441.3L314.6 449.8L314.9 458.5L315.3 467.4L315.7 476.4L316 485.5L316.4 494.7L316.7 486.9L317.1 479.2L317.5 471.6L317.8 464.1L318.2 456.7L318.6 449.5L318.9 442.6L319.3 435.9L319.7 429.6L320 423.5L320.4 417.8L320.8 412.6L321.1 407.7L321.5 403.3L321.9 399.3L322.2 395.8L322.6 392.9L323 390.4L323.3 388.5L323.7 387.1L324 386.3L324.4 386L324.8 386.3L325.1 387.1L325.5 388.5L325.9 390.4L326.2 392.9L326.6 395.8L327 399.3L327.3 403.3L327.7 407.7L328 412.6L328.4 417.8L328.8 423.5L329.1 429.6L329.5 435.9L329.9 442.6L330.2 449.5L330.6 456.7L331 464.1L331.3 471.6L331.7 479.2L332 486.9L332.4 494.7L332.8 488.1L333.1 481.5L333.5 475L333.9 468.6L334.2 462.3L334.6 456.2L335 450.3L335.3 444.6L335.7 439.2L336 434.1L336.4 429.2L336.8 424.7L337.1 420.6L337.5 416.8L337.9 413.4L338.2 410.5L338.6 407.9L339 405.9L339.3 404.2L339.7 403L340 402.3L340.4 402.1L340.8 402.3L341.1 403L341.5 404.2L341.9 405.9L342.3 407.9L342.6 410.5L343 413.4L343.4 416.8L343.7 420.6L344.1 424.7L344.5 429.2L344.8 434.1L345.2 439.2L345.6 444.6L345.9 450.3L346.3 456.2L346.7 462.3L347 468.6L347.4 475L347.8 481.5L348.1 488.1L348.5 494.7L348.9 489L349.2 483.4L349.6 477.9L350 472.4L350.3 467L350.7 461.8L351.1 456.7L351.4 451.9L351.8 447.2L352.2 442.8L352.5 438.7L352.9 434.8L353.3 431.3L353.6 428.1L354 425.2L354.4 422.7L354.8 420.5L355.1 418.7L355.5 417.3L355.9 416.3L356.2 415.7L356.6 415.5L356.9 415.7L357.3 416.3L357.7 417.3L358 418.7L358.4 420.5L358.8 422.7L359.1 425.2L359.5 428.1L359.8 431.3L360.2 434.8L360.6 438.7L360.9 442.8L361.3 447.2L361.6 451.9L362 456.7L362.4 461.8L362.7 467L363.1 472.4L363.4 477.9L363.8 483.4L364.2 489L364.5 494.7L364.9 489.9L365.3 485.1L365.6 480.4L366 475.8L366.3 471.2L366.7 466.8L367.1 462.5L367.4 458.4L367.8 454.4L368.1 450.7L368.5 447.2L368.9 443.9L369.2 440.9L369.6 438.2L369.9 435.7L370.3 433.6L370.7 431.7L371 430.2L371.4 429L371.7 428.2L372.1 427.7L372.5 427.5L372.8 427.7L373.2 428.2L373.6 429L373.9 430.2L374.3 431.7L374.7 433.6L375 435.7L375.4 438.2L375.7 440.9L376.1 443.9L376.5 447.2L376.8 450.7L377.2 454.4L377.6 458.4L377.9 462.5L378.3 466.8L378.7 471.2L379 475.8L379.4 480.4L379.7 485.1L380.1 489.9L380.5 494.7L380.8 490.6L381.2 486.5L381.6 482.5L381.9 478.5L382.3 474.6L382.7 470.8L383 467.1L383.4 463.6L383.7 460.2L384.1 457L384.5 454L384.8 451.2L385.2 448.6L385.6 446.2L385.9 444.1L386.3 442.3L386.7 440.7L387 439.4L387.4 438.4L387.7 437.7L388.1 437.2L388.5 437.1L388.8 437.2L389.2 437.7L389.6 438.4L389.9 439.4L390.3 440.7L390.7 442.3L391 444.1L391.4 446.2L391.8 448.6L392.1 451.2L392.5 454L392.9 457L393.2 460.2L393.6 463.6L393.9 467.1L394.3 470.8L394.7 474.6L395 478.5L395.4 482.5L395.8 486.5L396.1 490.6L396.5 494.7L396.9 491.2L397.2 487.7L397.6 484.3L398 480.9L398.3 477.6L398.7 474.3L399.1 471.2L399.4 468.2L399.8 465.3L400.1 462.6L400.5 460.1L400.9 457.7L401.2 455.5L401.6 453.5L402 451.7L402.3 450.1L402.7 448.8L403.1 447.7L403.4 446.8L403.8 446.2L404.2 445.8L404.5 445.7L404.9 445.8L405.3 446.2L405.7 446.8L406 447.7L406.4 448.8L406.8 450.1L407.2 451.7L407.5 453.5L407.9 455.5L408.3 457.7L408.7 460.1L409 462.6L409.4 465.3L409.8 468.2L410.2 471.2L410.5 474.3L410.9 477.6L411.3 480.9L411.7 484.3L412 487.7L412.4 491.2L412.8 494.7L413.2 491.8L413.5 488.9L413.9 486L414.3 483.1L414.7 480.4L415 477.7L415.4 475.1L415.8 472.5L416.2 470.1L416.6 467.9L416.9 465.7L417.3 463.7L417.7 461.9L418.1 460.2L418.4 458.7L418.8 457.4L419.2 456.3L419.6 455.4L419.9 454.6L420.3 454.1L420.7 453.8L421.1 453.7L421.4 453.8L421.8 454.1L422.1 454.6L422.5 455.4L422.9 456.3L423.2 457.4L423.6 458.7L423.9 460.2L424.3 461.9L424.7 463.7L425 465.7L425.4 467.9L425.8 470.1L426.1 472.5L426.5 475.1L426.8 477.7L427.2 480.4L427.6 483.1L427.9 486L428.3 488.9L428.6 491.8L429 494.7L429.4 492.2L429.7 489.7L430.1 487.2L430.4 484.8L430.8 482.4L431.2 480.1L431.5 477.8L431.9 475.7L432.2 473.6L432.6 471.6L433 469.8L433.3 468.1L433.7 466.5L434.1 465.1L434.4 463.8L434.8 462.7L435.1 461.7L435.5 460.9L435.9 460.3L436.2 459.9L436.6 459.6L436.9 459.5L437.3 459.6L437.7 459.9L438 460.3L438.4 460.9L438.8 461.7L439.1 462.7L439.5 463.8L439.9 465.1L440.2 466.5L440.6 468.1L441 469.8L441.4 471.6L441.7 473.6L442.1 475.7L442.5 477.8L442.8 480.1L443.2 482.4L443.6 484.8L443.9 487.2L444.3 489.7L444.7 492.2L445 494.7L445.4 492.6L445.8 490.5L446.1 488.4L446.5 486.4L446.9 484.4L447.2 482.4L447.6 480.6L448 478.8L448.3 477L448.7 475.4L449.1 473.8L449.4 472.4L449.8 471.1L450.2 469.9L450.5 468.8L450.9 467.9L451.3 467.1L451.6 466.4L452 465.9L452.4 465.5L452.8 465.3L453.1 465.2L453.5 465.3L453.9 465.5L454.3 465.9L454.7 466.4L455 467.1L455.4 467.9L455.8 468.8L456.2 469.9L456.6 471.1L457 472.4L457.3 473.8L457.7 475.4L458.1 477L458.5 478.8L458.9 480.6L459.3 482.4L459.6 484.4L460 486.4L460.4 488.4L460.8 490.5L461.2 492.6L461.6 494.7L461.9 492.9L462.3 491.1L462.7 489.3L463.1 487.6L463.5 485.9L463.9 484.2L464.2 482.6L464.6 481.1L465 479.6L465.4 478.2L465.8 476.9L466.2 475.7L466.5 474.5L466.9 473.5L467.3 472.6L467.7 471.8L468.1 471.1L468.5 470.5L468.8 470.1L469.2 469.8L469.6 469.6L470 469.5L470.4 469.6L470.7 469.8L471.1 470.1L471.5 470.5L471.9 471.1L472.2 471.8L472.6 472.6L473 473.5L473.4 474.5L473.7 475.7L474.1 476.9L474.5 478.2L474.8 479.6L475.2 481.1L475.6 482.6L476 484.2L476.3 485.9L476.7 487.6L477.1 489.3L477.5 491.1L477.8 492.9L478.2 494.7L478.6 493.2L479 491.7L479.3 490.2L479.7 488.7L480.1 487.3L480.4 485.9L480.8 484.5L481.2 483.2L481.6 481.9L481.9 480.8L482.3 479.6L482.7 478.6L483.1 477.6L483.4 476.8L483.8 476L484.2 475.3L484.5 474.7L484.9 474.3L485.3 473.9L485.7 473.6L486 473.5L486.4 473.4L486.8 473.5L487.2 473.6L487.6 473.9L488 474.3L488.4 474.7L488.8 475.3L489.2 476L489.6 476.8L489.9 477.6L490.3 478.6L490.7 479.6L491.1 480.8L491.5 481.9L491.9 483.2L492.3 484.5L492.7 485.9L493.1 487.3L493.5 488.7L493.9 490.2L494.3 491.7L494.7 493.2L495.1 494.7L495.5 493.3L495.8 491.9L496.2 490.6L496.6 489.2L497 487.9L497.4 486.6L497.8 485.4L498.2 484.2L498.6 483L499 481.9L499.4 480.9L499.8 480L500.2 479.1L500.6 478.3L501 477.6L501.3 477L501.7 476.4L502.1 476L502.5 475.6L502.9 475.4L503.3 475.2L503.7 475.2L504.1 475.2L504.5 475.4L504.9 475.6L505.3 476L505.7 476.4L506.1 477L506.5 477.6L506.9 478.3L507.2 479.1L507.6 480L508 480.9L508.4 481.9L508.8 483L509.2 484.2L509.6 485.4L510 486.6L510.4 487.9L510.8 489.2L511.2 490.6L511.6 491.9L512 493.3L512.4 494.7L512.7 493.4L513.1 492.2L513.5 491L513.9 489.7L514.3 488.5L514.7 487.4L515.1 486.3L515.5 485.2L515.9 484.2L516.3 483.2L516.7 482.3L517.1 481.4L517.5 480.6L517.9 479.9L518.2 479.3L518.6 478.7L519 478.2L519.4 477.8L519.8 477.5L520.2 477.3L520.6 477.1L521 477.1L521.4 477.1L521.8 477.3L522.2 477.5L522.6 477.8L523 478.2L523.4 478.7L523.8 479.3L524.1 479.9L524.5 480.6L524.9 481.4L525.3 482.3L525.7 483.2L526.1 484.2L526.5 485.2L526.9 486.3L527.3 487.4L527.7 488.5L528.1 489.7L528.5 491L528.9 492.2L529.3 493.4L529.6 494.7L530 493.4L530.4 492.2L530.8 491L531.2 489.7L531.6 488.5L532 487.4L532.4 486.3L532.8 485.2L533.2 484.2L533.6 483.2L534 482.3L534.4 481.4L534.8 480.6L535.1 479.9L535.5 479.3L535.9 478.7L536.3 478.2L536.7 477.8L537.1 477.5L537.5 477.3L537.9 477.1L538.3 477.1L538.7 477.1L539.1 477.3L539.4 477.5L539.8 477.8L540.2 478.2L540.6 478.7L541 479.3L541.4 479.9L541.7 480.6L542.1 481.4L542.5 482.3L542.9 483.2L543.3 484.2L543.7 485.2L544 486.3L544.4 487.4L544.8 488.5L545.2 489.7L545.6 491L546 492.2L546.4 493.4L546.7 494.7L547.1 493.4L547.5 492.1L547.9 490.8L548.3 489.5L548.7 488.2L549 487L549.4 485.8L549.8 484.7L550.2 483.6L550.6 482.6L551 481.6L551.3 480.7L551.7 479.9L552.1 479.1L552.5 478.5L552.9 477.9L553.3 477.4L553.6 476.9L554 476.6L554.4 476.4L554.8 476.2L555.2 476.2L555.6 476.2L555.9 476.4L556.3 476.6L556.7 476.9L557.1 477.4L557.5 477.9L557.9 478.5L558.2 479.1L558.6 479.9L559 480.7L559.4 481.6L559.8 482.6L560.2 483.6L560.5 484.7L560.9 485.8L561.3 487L561.7 488.2L562.1 489.5L562.5 490.8L562.9 492.1L563.2 493.4L563.6 494.7L564 493.2L564.4 491.8L564.8 490.3L565.2 488.9L565.5 487.5L565.9 486.2L566.3 484.9L566.7 483.6L567.1 482.4L567.5 481.3L567.8 480.2L568.2 479.2L568.6 478.3L569 477.5L569.4 476.7L569.8 476.1L570.1 475.5L570.5 475L570.9 474.7L571.3 474.4L571.7 474.3L572.1 474.2L572.4 474.3L572.8 474.4L573.2 474.7L573.6 475L573.9 475.5L574.3 476.1L574.7 476.7L575 477.5L575.4 478.3L575.8 479.2L576.2 480.2L576.5 481.3L576.9 482.4L577.3 483.6L577.7 484.9L578 486.2L578.4 487.5L578.8 488.9L579.1 490.3L579.5 491.8L579.9 493.2L580.3 494.7L580.6 493L581 491.2L581.4 489.5L581.8 487.8L582.1 486.1L582.5 484.5L582.9 483L583.2 481.5L583.6 480L584 478.7L584.4 477.4L584.7 476.2L585.1 475.1L585.5 474.1L585.9 473.2L586.2 472.4L586.6 471.7L587 471.2L587.4 470.8L587.7 470.4L588.1 470.3L588.5 470.2L588.9 470.3L589.2 470.4L589.6 470.8L590 471.2L590.4 471.7L590.8 472.4L591.2 473.2L591.5 474.1L591.9 475.1L592.3 476.2L592.7 477.4L593.1 478.7L593.5 480L593.8 481.5L594.2 483L594.6 484.5L595 486.1L595.4 487.8L595.8 489.5L596.1 491.2L596.5 493L596.9 494.7L597.3 492.6L597.7 490.6L598.1 488.6L598.4 486.6L598.8 484.6L599.2 482.7L599.6 480.9L600 479.1L600.4 477.4L600.7 475.8L601.1 474.3L601.5 472.9L601.9 471.6L602.3 470.5L602.7 469.4L603.1 468.5L603.4 467.7L603.8 467.1L604.2 466.6L604.6 466.2L605 466L605.4 465.9L605.7 466L606.1 466.2L606.5 466.6L606.9 467.1L607.3 467.7L607.7 468.5L608 469.4L608.4 470.5L608.8 471.6L609.2 472.9L609.6 474.3L610 475.8L610.3 477.4L610.7 479.1L611.1 480.9L611.5 482.7L611.9 484.6L612.3 486.6L612.6 488.6L613 490.6L613.4 492.6L613.8 494.7L614.2 492.3L614.6 489.9L614.9 487.5L615.3 485.2L615.7 482.9L616.1 480.7L616.5 478.5L616.9 476.4L617.2 474.4L617.6 472.6L618 470.8L618.4 469.2L618.8 467.6L619.2 466.3L619.5 465L619.9 464L620.3 463L620.7 462.3L621.1 461.7L621.5 461.2L621.9 461L622.2 460.9L622.6 461L623 461.2L623.4 461.7L623.8 462.3L624.1 463L624.5 464L624.9 465L625.3 466.3L625.7 467.6L626.1 469.2L626.4 470.8L626.8 472.6L627.2 474.4L627.6 476.4L628 478.5L628.4 480.7L628.7 482.9L629.1 485.2L629.5 487.5L629.9 489.9L630.3 492.3L630.6 494.7L631 491.8L631.4 488.9L631.8 486L632.2 483.1L632.6 480.4L632.9 477.7L633.3 475.1L633.7 472.5L634.1 470.1L634.5 467.9L634.9 465.7L635.2 463.7L635.6 461.9L636 460.2L636.4 458.7L636.8 457.4L637.1 456.3L637.5 455.4L637.9 454.6L638.3 454.1L638.7 453.8L639.1 453.7L639.4 453.8L639.8 454.1L640.2 454.6L640.5 455.4L640.9 456.3L641.3 457.4L641.6 458.7L642 460.2L642.4 461.9L642.7 463.7L643.1 465.7L643.5 467.9L643.8 470.1L644.2 472.5L644.6 475.1L644.9 477.7L645.3 480.4L645.7 483.1L646 486L646.4 488.9L646.8 491.8L647.1 494.7L647.5 491.3L647.9 487.8L648.3 484.4L648.6 481.1L649 477.8L649.4 474.6L649.7 471.6L650.1 468.6L650.5 465.8L650.8 463.1L651.2 460.5L651.6 458.2L651.9 456L652.3 454.1L652.7 452.3L653 450.8L653.4 449.4L653.8 448.4L654.1 447.5L654.5 446.9L654.9 446.5L655.2 446.4L655.6 446.5L655.9 446.9L656.3 447.5L656.6 448.4L657 449.4L657.4 450.8L657.7 452.3L658.1 454.1L658.4 456L658.8 458.2L659.1 460.5L659.5 463.1L659.8 465.8L660.2 468.6L660.5 471.6L660.9 474.6L661.2 477.8L661.6 481.1L661.9 484.4L662.3 487.8L662.6 491.3L663 494.7L663.4 490.6L663.7 486.6L664.1 482.6L664.4 478.6L664.8 474.8L665.1 471L665.5 467.4L665.8 463.9L666.2 460.5L666.5 457.4L666.9 454.4L667.2 451.6L667.6 449.1L667.9 446.7L668.3 444.7L668.6 442.9L669 441.3L669.4 440L669.7 439L670.1 438.3L670.4 437.8L670.8 437.7L671.1 437.8L671.5 438.3L671.9 439L672.2 440L672.6 441.3L673 442.9L673.3 444.7L673.7 446.7L674.1 449.1L674.4 451.6L674.8 454.4L675.2 457.4L675.5 460.5L675.9 463.9L676.3 467.4L676.6 471L677 474.8L677.4 478.6L677.8 482.6L678.1 486.6L678.5 490.6L678.9 494.7L679.2 490L679.6 485.3L680 480.6L680.3 476L680.7 471.6L681.1 467.2L681.4 463L681.8 458.9L682.2 455L682.5 451.3L682.9 447.9L683.3 444.7L683.6 441.7L684 439L684.4 436.6L684.7 434.5L685.1 432.7L685.5 431.2L685.8 430L686.2 429.2L686.6 428.7L686.9 428.5L687.3 428.7L687.7 429.2L688.1 430L688.4 431.2L688.8 432.7L689.2 434.5L689.6 436.6L689.9 439L690.3 441.7L690.7 444.7L691.1 447.9L691.4 451.3L691.8 455L692.2 458.9L692.6 463L692.9 467.2L693.3 471.6L693.7 476L694.1 480.6L694.4 485.3L694.8 490L695.2 494.7L695.6 489.2L695.9 483.6L696.3 478.2L696.7 472.8L697 467.5L697.4 462.4L697.8 457.5L698.2 452.7L698.5 448.1L698.9 443.8L699.3 439.8L699.7 436L700 432.5L700.4 429.3L700.8 426.5L701.2 424L701.5 421.9L701.9 420.1L702.3 418.8L702.7 417.8L703 417.2L703.4 417L703.8 417.2L704.1 417.8L704.4 418.8L704.8 420.1L705.1 421.9L705.4 424L705.8 426.5L706.1 429.3L706.5 432.5L706.8 436L707.1 439.8L707.5 443.8L707.8 448.1L708.2 452.7L708.5 457.5L708.8 462.4L709.2 467.5L709.5 472.8L709.9 478.2L710.2 483.6L710.5 489.2L710.9 494.7L711.2 489.2L711.6 483.6L711.9 478.2L712.2 472.8L712.6 467.5L712.9 462.4L713.3 457.5L713.6 452.7L713.9 448.1L714.3 443.8L714.6 439.8L715 436L715.3 432.5L715.6 429.3L716 426.5L716.3 424L716.7 421.9L717 420.1L717.3 418.8L717.7 417.8L718 417.2L718.4 417L718.7 417.2L719 417.8L719.4 418.8L719.7 420.1L720 421.9L720.4 424L720.7 426.5L721 429.3L721.4 432.5L721.7 436L722 439.8L722.4 443.8L722.7 448.1L723 452.7L723.4 457.5L723.7 462.4L724 467.5L724.4 472.8L724.7 478.2L725 483.6L725.4 489.2L725.7 494.7L726 489.2L726.4 483.6L726.7 478.2L727 472.8L727.4 467.5L727.7 462.4L728 457.5L728.4 452.7L728.7 448.1L729 443.8L729.4 439.8L729.7 436L730.1 432.5L730.4 429.3L730.7 426.5L731.1 424L731.4 421.9L731.7 420.1L732.1 418.8L732.4 417.8L732.7 417.2L733.1 417L733.4 417.2L733.7 417.8L734.1 418.8L734.4 420.1L734.7 421.9L735 424L735.4 426.5L735.7 429.3L736 432.5L736.4 436L736.7 439.8L737 443.8L737.4 448.1L737.7 452.7L738 457.5L738.4 462.4L738.7 467.5L739 472.8L739.4 478.2L739.7 483.6L740 489.2L740.4 494.7L740.7 489.2L741 483.6L741.3 478.2L741.7 472.8L742 467.5L742.3 462.4L742.7 457.5L743 452.7L743.3 448.1L743.7 443.8L744 439.8L744.3 436L744.7 432.5L745 429.3L745.3 426.5L745.7 424L746 421.9L746.3 420.1L746.7 418.8L747 417.8L747.3 417.2L747.6 417L748 417.2L748.3 417.8L748.7 418.8L749 420.1L749.3 421.9L749.7 424L750 426.5L750.3 429.3L750.7 432.5L751 436L751.4 439.8L751.7 443.8L752 448.1L752.4 452.7L752.7 457.5L753 462.4L753.4 467.5L753.7 472.8L754 478.2L754.4 483.6L754.7 489.2L755.1 494.7L755.4 489.2L755.7 483.6L756.1 478.2L756.4 472.8L756.7 467.5L757.1 462.4L757.4 457.5L757.8 452.7L758.1 448.1L758.4 443.8L758.8 439.8L759.1 436L759.4 432.5L759.8 429.3L760.1 426.5L760.4 424L760.8 421.9L761.1 420.1L761.5 418.8L761.8 417.8L762.1 417.2L762.5 417L762.8 417.2L763.2 417.8L763.5 418.8L763.9 420.1L764.2 421.9L764.5 424L764.9 426.5L765.2 429.3L765.6 432.5L765.9 436L766.3 439.8L766.6 443.8L767 448.1L767.3 452.7L767.6 457.5L768 462.4L768.3 467.5L768.7 472.8L769 478.2L769.4 483.6L769.7 489.2L770.1 494.7L770.4 489.2L770.7 483.6L771.1 478.2L771.4 472.8L771.8 467.5L772.1 462.4L772.5 457.5L772.8 452.7L773.2 448.1L773.5 443.8L773.9 439.8L774.2 436L774.5 432.5L774.9 429.3L775.2 426.5L775.6 424L775.9 421.9L776.3 420.1L776.6 418.8L777 417.8L777.3 417.2L777.6 417L778 417.2L778.3 417.8L778.6 418.8L779 420.1L779.3 421.9L779.6 424L780 426.5L780.3 429.3L780.6 432.5L780.9 436L781.3 439.8L781.6 443.8L781.9 448.1L782.3 452.7L782.6 457.5L782.9 462.4L783.3 467.5L783.6 472.8L783.9 478.2L784.3 483.6L784.6 489.2L784.9 494.7L785.2 489.2L785.6 483.6L785.9 478.2L786.2 472.8L786.6 467.5L786.9 462.4L787.2 457.5L787.6 452.7L787.9 448.1L788.2 443.8L788.5 439.8L788.9 436L789.2 432.5L789.5 429.3L789.9 426.5L790.2 424L790.5 421.9L790.9 420.1L791.2 418.8L791.5 417.8L791.8 417.2L792.2 417L792.5 417.2L792.8 417.8L793.2 418.8L793.5 420.1L793.8 421.9L794.2 424L794.5 426.5L794.8 429.3L795.2 432.5L795.5 436L795.8 439.8L796.2 443.8L796.5 448.1L796.8 452.7L797.1 457.5L797.5 462.4L797.8 467.5L798.1 472.8L798.5 478.2L798.8 483.6L799.1 489.2L799.5 494.7L799.8 489.2L800.1 483.6L800.5 478.2L800.8 472.8L801.1 467.5L801.5 462.4L801.8 457.5L802.1 452.7L802.5 448.1L802.8 443.8L803.1 439.8L803.4 436L803.8 432.5L804.1 429.3L804.4 426.5L804.8 424L805.1 421.9L805.4 420.1L805.8 418.8L806.1 417.8L806.4 417.2L806.8 417L807.1 417.2" stroke="#ff0000" stroke-width="3.0" fill="none" stroke-linejoin="round" stroke-linecap="butt"/></g>
<path d="M186.4 523.8V925M204.9 523.8V925M209.9 523.8V925M212.4 523.8V925M221 523.8V925M237.1 523.8V925M253.1 523.8V925M269.2 523.8V925M285.2 523.8V925M301.3 523.8V925M317.4 523.8V925M333.4 523.8V925M349.5 523.8V925M365.5 523.8V925M381.6 523.8V925M397.6 523.8V925M413.7 523.8V925M429.8 523.8V925M445.8 523.8V925M461.9 523.8V925M477.9 523.8V925M494 523.8V925M510.1 523.8V925M526.1 523.8V925M542.2 523.8V925M558.2 523.8V925M574.3 523.8V925M590.4 523.8V925M606.4 523.8V925M622.5 523.8V925M638.5 523.8V925M654.6 523.8V925M670.6 523.8V925M686.7 523.8V925M702.8 523.8V925M228.5 523.8V925M244.6 523.8V925M260.6 523.8V925M276.7 523.8V925M292.8 523.8V925M308.8 523.8V925M324.9 523.8V925M340.9 523.8V925M357 523.8V925M373.1 523.8V925M389.1 523.8V925M405.2 523.8V925M421.2 523.8V925M437.3 523.8V925M453.4 523.8V925M469.4 523.8V925M485.5 523.8V925M501.5 523.8V925M517.6 523.8V925M533.6 523.8V925M549.7 523.8V925M565.8 523.8V925M581.8 523.8V925M597.9 523.8V925M613.9 523.8V925M630 523.8V925M646.1 523.8V925M662.1 523.8V925M678.2 523.8V925M694.2 523.8V925" stroke="#8a874c" stroke-width="1.176" fill="none"/>
<rect x="190.8" y="523.8" width="6.24" height="401.2" fill="#8f8d30"/>
<path d="M191.4 523.8V925M193.5 523.8V925M196.3 523.8V925" stroke="#7c7a1c" stroke-width="1.176" fill="none"/>
<g clip-path="url(#cpb)"><path d="M81.2 843.4L81.8 845.7L82.4 848.1L82.9 850.6L83.5 853.2L84.1 855.9L84.7 858.6L85.3 861.5L85.9 864.4L86.5 867.4L87.1 870.5L87.6 873.6L88.2 876.8L88.8 880.1L89.4 883.4L90 886.7L90.6 890.1L91.2 893.5L91.8 897L92.4 900.5L92.9 904L93.5 907.5L94.1 911L94.7 914.6L95.3 913.9L95.9 910.3L96.5 906.8L97.1 903.3L97.6 899.8L98.2 896.3L98.8 892.8L99.4 889.4L100 886L100.6 882.7L101.2 879.4L101.8 876.2L102.4 873L102.9 869.9L103.5 866.8L104.1 863.8L104.7 860.9L105.3 858.1L105.9 855.3L106.5 852.7L107.1 850.1L107.6 847.6L108.2 845.2L108.8 842.9L109.4 840.7L110 838.7L110.6 836.7L111.2 834.8L111.8 833.1L112.4 831.5L112.9 830L113.5 828.6L114.1 827.3L114.7 826.2L115.3 825.2L115.9 824.3L116.5 823.6L117.1 822.9L117.6 822.5L118.2 822.1L118.8 821.9L119.4 821.8L120 821.8L120.6 822L121.2 822.3L121.8 822.8L122.4 823.4L122.9 824.1L123.5 824.9L124.1 825.9L124.7 827L125.3 828.2L125.9 829.5L126.5 831L127.1 832.6L127.6 834.3L128.2 836.1L128.8 838.1L129.4 840.1L130 842.3L130.6 844.5L131.2 846.9L131.8 849.3L132.4 851.9L132.9 854.5L133.5 857.2L134.1 860.1L134.7 862.9L135.3 865.9L135.9 869L136.5 872.1L137.1 875.2L137.6 878.4L138.2 881.7L138.8 885L139.4 888.4L140 891.8L140.6 895.3L141.2 898.7L141.8 902.2L142.4 905.7L142.9 909.3L143.5 912.8L144.1 915.6L144.7 912.1L145.3 908.6L145.9 905L146.5 901.5L147.1 898L147.6 894.6L148.2 891.1L148.8 887.7L149.4 884.4L150 881.1L150.6 877.8L151.2 874.6L151.8 871.4L152.4 868.3L152.9 865.3L153.5 862.4L154.1 859.5L154.7 856.7L155.3 854L155.9 851.4L156.5 848.8L157.1 846.4L157.6 844.1L158.2 841.8L158.8 839.7L159.4 837.7L160 835.8L160.6 834L161.2 832.3L161.8 830.7L162.4 829.3L162.9 827.9L163.5 826.7L164.1 825.7L164.7 824.7L165.3 823.9L165.9 823.2L166.5 822.7L167.1 822.3L167.6 822L168.2 821.8L168.8 821.8L169.4 821.9L170 822.2L170.6 822.5L171.2 823.1L171.8 823.7L172.4 824.5L172.9 825.4L173.5 826.4L174.1 827.6L174.7 828.9L175.3 830.3L175.9 831.8L176.5 833.4L177.1 835.2L177.6 837.1L178.2 839.1L178.8 841.2L179.4 843.4L180 845.7L180.6 848.1L181.2 850.6L181.8 853.2L182.4 855.9L182.9 858.6L183.5 861.5L184.1 864.4L184.7 867.4L185.3 870.5L185.9 873.6L186.5 876.8L186.5 876.8L186.9 871.6L187.3 866.4L187.7 861.2L188.1 856.2L188.6 851.2L189 846.4L189.4 841.7L189.8 837.2L190.2 832.9L190.7 828.8L191.1 825L191.5 821.4L191.9 818.1L192.3 815.1L192.8 812.5L193.2 810.1L193.6 808.1L194 806.5L194.4 805.2L194.9 804.2L195.3 803.7L195.7 803.5L196 803.8L196.4 804.7L196.7 806.3L197 808.4L197.4 811.2L197.7 814.5L198.1 818.4L198.4 822.8L198.7 827.7L199.1 833.2L199.4 839.1L199.7 845.4L200.1 852.2L200.4 859.3L200.7 866.8L201.1 874.5L201.4 882.5L201.7 890.8L202.1 899.2L202.4 907.7L202.8 916.3L203.1 925L203.4 917.5L203.8 910L204.1 902.6L204.4 895.4L204.8 888.2L205.1 881.3L205.4 874.6L205.8 868.1L206.1 862L206.4 856.1L206.8 850.6L207.1 845.5L207.5 840.8L207.8 836.5L208.1 832.7L208.5 829.3L208.8 826.4L209.1 824.1L209.5 822.2L209.8 820.9L210.1 820.1L210.5 819.8L210.8 820.1L211.1 820.9L211.4 822.2L211.8 824.1L212.1 826.4L212.4 829.3L212.7 832.7L213.1 836.5L213.4 840.8L213.7 845.5L214 850.6L214.4 856.1L214.7 862L215 868.1L215.3 874.6L215.7 881.3L216 888.2L216.3 895.4L216.6 902.6L217 910L217.3 917.5L217.6 925L217.9 918.1L218.3 911.2L218.6 904.4L218.9 897.7L219.2 891.1L219.6 884.7L219.9 878.6L220.2 872.6L220.5 866.9L220.9 861.5L221.2 856.5L221.5 851.8L221.8 847.4L222.2 843.5L222.5 840L222.8 836.9L223.1 834.2L223.5 832L223.8 830.3L224.1 829.1L224.4 828.3L224.8 828.1L225.1 828.3L225.4 829.1L225.7 830.3L226 832L226.4 834.2L226.7 836.9L227 840L227.3 843.5L227.6 847.4L228 851.8L228.3 856.5L228.6 861.5L228.9 866.9L229.2 872.6L229.6 878.6L229.9 884.7L230.2 891.1L230.5 897.7L230.8 904.4L231.2 911.2L231.5 918.1L231.8 925L232.1 917.5L232.4 910L232.8 902.6L233.1 895.4L233.4 888.2L233.7 881.3L234 874.6L234.4 868.1L234.7 862L235 856.1L235.3 850.6L235.6 845.5L235.9 840.8L236.3 836.5L236.6 832.7L236.9 829.3L237.2 826.4L237.5 824.1L237.9 822.2L238.2 820.9L238.5 820.1L238.8 819.8L239.2 820.1L239.5 820.9L239.8 822.2L240.2 824.1L240.5 826.4L240.9 829.3L241.2 832.7L241.5 836.5L241.9 840.8L242.2 845.5L242.6 850.6L242.9 856.1L243.2 862L243.6 868.1L243.9 874.6L244.3 881.3L244.6 888.2L244.9 895.4L245.3 902.6L245.6 910L246 917.5L246.3 925L246.6 916.3L247 907.7L247.3 899.1L247.7 890.7L248 882.4L248.3 874.4L248.7 866.6L249 859.1L249.4 852L249.7 845.2L250 838.9L250.4 832.9L250.7 827.5L251 822.5L251.4 818.1L251.7 814.2L252.1 810.9L252.4 808.1L252.7 806L253.1 804.4L253.4 803.5L253.8 803.2L254.1 803.5L254.5 804.4L254.8 806L255.1 808.1L255.5 810.9L255.8 814.2L256.2 818.1L256.5 822.5L256.9 827.5L257.2 832.9L257.6 838.9L257.9 845.2L258.2 852L258.6 859.1L258.9 866.6L259.3 874.4L259.6 882.4L260 890.7L260.3 899.1L260.7 907.7L261 916.3L261.4 925L261.7 914.7L262 904.4L262.4 894.2L262.7 884.2L263.1 874.4L263.4 864.8L263.8 855.6L264.1 846.7L264.5 838.2L264.8 830.2L265.1 822.6L265.5 815.6L265.8 809.1L266.2 803.2L266.5 797.9L266.9 793.3L267.2 789.3L267.6 786.1L267.9 783.5L268.3 781.7L268.6 780.6L268.9 780.2L269.3 780.6L269.6 781.7L270 783.5L270.3 786.1L270.7 789.3L271 793.3L271.4 797.9L271.7 803.2L272 809.1L272.4 815.6L272.7 822.6L273.1 830.2L273.4 838.2L273.8 846.7L274.1 855.6L274.5 864.8L274.8 874.4L275.1 884.2L275.5 894.2L275.8 904.4L276.2 914.7L276.5 925L276.9 912.8L277.2 900.7L277.6 888.7L277.9 876.9L278.3 865.3L278.6 854L278.9 843.1L279.3 832.7L279.6 822.6L280 813.1L280.3 804.2L280.7 795.9L281 788.3L281.4 781.3L281.7 775.1L282 769.6L282.4 765L282.7 761.1L283.1 758.1L283.4 755.9L283.8 754.6L284.1 754.2L284.5 754.6L284.8 755.9L285.2 758.1L285.5 761.1L285.9 765L286.2 769.6L286.6 775.1L286.9 781.3L287.3 788.3L287.6 795.9L288 804.2L288.4 813.1L288.7 822.6L289.1 832.7L289.4 843.1L289.8 854L290.1 865.3L290.5 876.9L290.8 888.7L291.2 900.7L291.5 912.8L291.9 925L292.2 910.9L292.6 896.9L292.9 883L293.3 869.3L293.6 855.9L294 842.8L294.4 830.2L294.7 818.1L295.1 806.5L295.4 795.5L295.8 785.1L296.1 775.5L296.5 766.7L296.8 758.6L297.2 751.4L297.5 745.1L297.9 739.7L298.2 735.2L298.6 731.7L298.9 729.2L299.3 727.7L299.6 727.2L300 727.7L300.4 729.2L300.7 731.7L301.1 735.2L301.4 739.7L301.8 745.1L302.1 751.4L302.5 758.6L302.9 766.7L303.2 775.5L303.6 785.1L303.9 795.5L304.3 806.5L304.6 818.1L305 830.2L305.4 842.8L305.7 855.9L306.1 869.3L306.4 883L306.8 896.9L307.1 910.9L307.5 925L307.9 908.9L308.2 892.9L308.6 877L308.9 861.4L309.3 846.1L309.6 831.2L310 816.8L310.4 802.9L310.7 789.7L311.1 777.1L311.4 765.3L311.8 754.4L312.1 744.2L312.5 735L312.9 726.8L313.2 719.6L313.6 713.4L313.9 708.3L314.3 704.4L314.6 701.5L315 699.8L315.4 699.2L315.7 699.8L316.1 701.5L316.4 704.4L316.8 708.3L317.1 713.4L317.5 719.6L317.8 726.8L318.2 735L318.5 744.2L318.9 754.4L319.2 765.3L319.6 777.1L319.9 789.7L320.3 802.9L320.6 816.8L321 831.2L321.4 846.1L321.7 861.4L322.1 877L322.4 892.9L322.8 908.9L323.1 925L323.5 907L323.8 889.1L324.2 871.4L324.5 853.9L324.9 836.8L325.2 820.2L325.6 804.1L325.9 788.6L326.3 773.8L326.6 759.8L327 746.6L327.4 734.3L327.7 723L328.1 712.8L328.4 703.6L328.8 695.5L329.1 688.6L329.5 682.9L329.8 678.5L330.2 675.3L330.5 673.3L330.9 672.7L331.2 673.3L331.6 675.3L331.9 678.5L332.3 682.9L332.7 688.6L333 695.5L333.4 703.6L333.7 712.8L334.1 723L334.4 734.3L334.8 746.6L335.1 759.8L335.5 773.8L335.9 788.6L336.2 804.1L336.6 820.2L336.9 836.8L337.3 853.9L337.6 871.4L338 889.1L338.4 907L338.7 925L339.1 905.3L339.4 885.6L339.8 866.2L340.1 847L340.5 828.3L340.8 810L341.2 792.3L341.6 775.4L341.9 759.1L342.3 743.7L342.6 729.3L343 715.8L343.3 703.4L343.7 692.1L344 682.1L344.4 673.2L344.8 665.7L345.1 659.4L345.5 654.5L345.8 651L346.2 648.9L346.5 648.2L346.9 648.9L347.2 651L347.6 654.5L348 659.4L348.3 665.7L348.7 673.2L349 682.1L349.4 692.1L349.7 703.4L350.1 715.8L350.5 729.3L350.8 743.7L351.2 759.1L351.5 775.4L351.9 792.3L352.2 810L352.6 828.3L353 847L353.3 866.2L353.7 885.6L354 905.3L354.4 925L354.7 903.6L355.1 882.3L355.5 861.3L355.8 840.5L356.2 820.2L356.5 800.5L356.9 781.3L357.2 762.9L357.6 745.3L358 728.7L358.3 713L358.7 698.4L359 685L359.4 672.8L359.7 661.9L360.1 652.3L360.5 644.1L360.8 637.3L361.2 632.1L361.5 628.3L361.9 626L362.2 625.2L362.6 626L363 628.3L363.3 632.1L363.7 637.3L364 644.1L364.4 652.3L364.8 661.9L365.1 672.8L365.5 685L365.8 698.4L366.2 713L366.6 728.7L366.9 745.3L367.3 762.9L367.6 781.3L368 800.5L368.4 820.2L368.7 840.5L369.1 861.3L369.5 882.3L369.8 903.6L370.2 925L370.5 902.2L370.9 879.5L371.3 857L371.6 834.9L372 813.2L372.3 792.2L372.7 771.7L373.1 752.1L373.4 733.4L373.8 715.6L374.1 698.9L374.5 683.3L374.9 669L375.2 656L375.6 644.3L376 634.1L376.3 625.4L376.7 618.2L377 612.5L377.4 608.5L377.8 606L378.1 605.2L378.5 606L378.9 608.5L379.2 612.5L379.6 618.2L380 625.4L380.3 634.1L380.7 644.3L381.1 656L381.4 669L381.8 683.3L382.2 698.9L382.5 715.6L382.9 733.4L383.3 752.1L383.6 771.7L384 792.2L384.4 813.2L384.7 834.9L385.1 857L385.5 879.5L385.8 902.2L386.2 925L386.6 901L386.9 877.1L387.3 853.4L387.7 830.1L388 807.3L388.4 785L388.8 763.5L389.1 742.9L389.5 723.1L389.9 704.4L390.2 686.8L390.6 670.4L391 655.3L391.4 641.6L391.7 629.3L392.1 618.5L392.5 609.3L392.8 601.7L393.2 595.8L393.6 591.5L393.9 589L394.3 588.1L394.7 589L395 591.5L395.4 595.8L395.7 601.7L396.1 609.3L396.5 618.5L396.8 629.3L397.2 641.6L397.5 655.3L397.9 670.4L398.2 686.8L398.6 704.4L399 723.1L399.3 742.9L399.7 763.5L400 785L400.4 807.3L400.8 830.1L401.1 853.4L401.5 877.1L401.8 901L402.2 925L402.6 900L402.9 875.1L403.3 850.5L403.6 826.2L404 802.4L404.4 779.3L404.7 756.9L405.1 735.4L405.4 714.8L405.8 695.3L406.2 677L406.5 660L406.9 644.3L407.2 630L407.6 617.2L408 606L408.3 596.4L408.7 588.5L409 582.3L409.4 577.9L409.8 575.2L410.1 574.3L410.5 575.2L410.8 577.9L411.2 582.3L411.5 588.5L411.9 596.4L412.3 606L412.6 617.2L413 630L413.3 644.3L413.7 660L414 677L414.4 695.3L414.8 714.8L415.1 735.4L415.5 756.9L415.8 779.3L416.2 802.4L416.5 826.2L416.9 850.5L417.3 875.1L417.6 900L418 925L418.3 899.2L418.7 873.6L419 848.2L419.4 823.2L419.8 798.7L420.1 774.9L420.5 751.8L420.8 729.7L421.2 708.5L421.5 688.4L421.9 669.5L422.3 651.9L422.6 635.8L423 621.1L423.3 607.9L423.7 596.3L424 586.5L424.4 578.3L424.8 572L425.1 567.4L425.5 564.6L425.8 563.7L426.2 564.6L426.6 567.4L426.9 572L427.3 578.3L427.6 586.5L428 596.3L428.4 607.9L428.7 621.1L429.1 635.8L429.5 651.9L429.8 669.5L430.2 688.4L430.6 708.5L430.9 729.7L431.3 751.8L431.6 774.9L432 798.7L432.4 823.2L432.7 848.2L433.1 873.6L433.5 899.2L433.8 925L434.2 898.6L434.6 872.4L434.9 846.4L435.3 820.8L435.6 795.8L436 771.4L436.4 747.8L436.7 725.1L437.1 703.4L437.5 682.8L437.8 663.5L438.2 645.5L438.6 629L438.9 613.9L439.3 600.4L439.6 588.6L440 578.5L440.4 570.2L440.7 563.7L441.1 559L441.5 556.1L441.8 555.2L442.2 556.1L442.6 559L442.9 563.7L443.3 570.2L443.6 578.5L444 588.6L444.4 600.4L444.7 613.9L445.1 629L445.5 645.5L445.8 663.5L446.2 682.8L446.6 703.4L446.9 725.1L447.3 747.8L447.7 771.4L448 795.8L448.4 820.8L448.8 846.4L449.1 872.4L449.5 898.6L449.9 925L450.2 898.5L450.6 872.2L450.9 846.2L451.3 820.5L451.7 795.4L452 771L452.4 747.3L452.8 724.5L453.1 702.8L453.5 682.2L453.9 662.8L454.2 644.8L454.6 628.2L455 613.1L455.3 599.6L455.7 587.7L456.1 577.6L456.4 569.2L456.8 562.7L457.2 558L457.5 555.1L457.9 554.2L458.2 555.1L458.6 558L459 562.7L459.3 569.2L459.7 577.6L460.1 587.7L460.4 599.6L460.8 613.1L461.2 628.2L461.5 644.8L461.9 662.8L462.3 682.2L462.6 702.8L463 724.5L463.4 747.3L463.7 771L464.1 795.4L464.5 820.5L464.8 846.2L465.2 872.2L465.5 898.5L465.9 925L466.3 898.6L466.6 872.4L467 846.4L467.4 820.8L467.7 795.7L468.1 771.3L468.5 747.7L468.8 725L469.2 703.3L469.6 682.8L469.9 663.4L470.3 645.4L470.7 628.9L471 613.8L471.4 600.3L471.8 588.5L472.1 578.4L472.5 570.1L472.8 563.6L473.2 558.9L473.6 556L473.9 555.1L474.3 556L474.6 558.9L475 563.6L475.4 570.1L475.7 578.4L476.1 588.5L476.4 600.3L476.8 613.8L477.1 628.9L477.5 645.4L477.8 663.4L478.2 682.8L478.5 703.3L478.9 725L479.2 747.7L479.6 771.3L479.9 795.7L480.3 820.8L480.6 846.4L481 872.4L481.4 898.6L481.7 925L482.1 898.8L482.4 872.8L482.8 847L483.1 821.6L483.5 796.7L483.8 772.5L484.2 749.1L484.5 726.6L484.9 705.1L485.2 684.7L485.6 665.5L485.9 647.6L486.3 631.2L486.6 616.3L487 602.9L487.4 591.2L487.7 581.1L488.1 572.9L488.4 566.4L488.8 561.7L489.1 558.9L489.5 558L489.8 558.9L490.2 561.7L490.6 566.4L490.9 572.9L491.3 581.1L491.7 591.2L492 602.9L492.4 616.3L492.8 631.2L493.1 647.6L493.5 665.5L493.9 684.7L494.2 705.1L494.6 726.6L494.9 749.1L495.3 772.5L495.7 796.7L496 821.6L496.4 847L496.8 872.8L497.1 898.8L497.5 925L497.9 899.3L498.2 873.8L498.6 848.5L499 823.6L499.3 799.2L499.7 775.5L500.1 752.5L500.4 730.4L500.8 709.3L501.1 689.3L501.5 670.5L501.9 653L502.2 636.9L502.6 622.2L503 609.1L503.3 597.6L503.7 587.8L504.1 579.7L504.4 573.3L504.8 568.8L505.2 566L505.5 565.1L505.9 566L506.2 568.8L506.6 573.3L507 579.7L507.3 587.8L507.7 597.6L508 609.1L508.4 622.2L508.7 636.9L509.1 653L509.4 670.5L509.8 689.3L510.2 709.3L510.5 730.4L510.9 752.5L511.2 775.5L511.6 799.2L511.9 823.6L512.3 848.5L512.6 873.8L513 899.3L513.4 925L513.7 900L514.1 875.2L514.4 850.6L514.8 826.4L515.1 802.8L515.5 779.7L515.8 757.4L516.2 735.9L516.6 715.4L516.9 695.9L517.3 677.7L517.6 660.6L518 645L518.3 630.7L518.7 618L519 606.8L519.4 597.3L519.8 589.4L520.1 583.2L520.5 578.8L520.8 576.1L521.2 575.2L521.5 576.1L521.9 578.8L522.3 583.2L522.6 589.4L523 597.3L523.4 606.8L523.7 618L524.1 630.7L524.5 645L524.8 660.6L525.2 677.7L525.6 695.9L525.9 715.4L526.3 735.9L526.7 757.4L527 779.7L527.4 802.8L527.7 826.4L528.1 850.6L528.5 875.2L528.8 900L529.2 925L529.6 901L529.9 877.1L530.3 853.4L530.7 830.1L531 807.3L531.4 785L531.8 763.5L532.1 742.9L532.5 723.1L532.9 704.4L533.2 686.8L533.6 670.4L534 655.3L534.3 641.6L534.7 629.3L535 618.5L535.4 609.3L535.8 601.7L536.1 595.8L536.5 591.5L536.9 589L537.2 588.1L537.6 589L537.9 591.5L538.3 595.8L538.7 601.7L539 609.3L539.4 618.5L539.7 629.3L540.1 641.6L540.4 655.3L540.8 670.4L541.1 686.8L541.5 704.4L541.9 723.1L542.2 742.9L542.6 763.5L542.9 785L543.3 807.3L543.6 830.1L544 853.4L544.3 877.1L544.7 901L545.1 925L545.4 902.2L545.8 879.5L546.1 857L546.5 834.9L546.8 813.3L547.2 792.2L547.5 771.8L547.9 752.2L548.3 733.4L548.6 715.6L549 698.9L549.3 683.4L549.7 669.1L550 656.1L550.4 644.4L550.7 634.2L551.1 625.5L551.5 618.3L551.8 612.6L552.2 608.6L552.5 606.1L552.9 605.3L553.2 606.1L553.6 608.6L553.9 612.6L554.3 618.3L554.6 625.5L555 634.2L555.4 644.4L555.7 656.1L556.1 669.1L556.4 683.4L556.8 698.9L557.1 715.6L557.5 733.4L557.8 752.2L558.2 771.8L558.5 792.2L558.9 813.3L559.2 834.9L559.6 857L559.9 879.5L560.3 902.2L560.6 925L561 903.6L561.4 882.4L561.7 861.3L562.1 840.6L562.4 820.3L562.8 800.5L563.1 781.4L563.5 763L563.8 745.5L564.2 728.8L564.5 713.2L564.9 698.6L565.2 685.2L565.6 673L565.9 662L566.3 652.5L566.6 644.3L567 637.5L567.4 632.2L567.7 628.4L568.1 626.2L568.4 625.4L568.8 626.2L569.2 628.4L569.5 632.2L569.9 637.5L570.3 644.3L570.6 652.5L571 662L571.4 673L571.8 685.2L572.1 698.6L572.5 713.2L572.9 728.8L573.2 745.5L573.6 763L574 781.4L574.4 800.5L574.7 820.3L575.1 840.6L575.5 861.3L575.8 882.4L576.2 903.6L576.6 925L577 905.2L577.3 885.5L577.7 866.1L578.1 846.9L578.4 828.1L578.8 809.8L579.2 792.1L579.6 775.1L579.9 758.8L580.3 743.4L580.7 728.9L581 715.4L581.4 703L581.8 691.7L582.2 681.6L582.5 672.8L582.9 665.2L583.3 658.9L583.6 654L584 650.5L584.4 648.4L584.8 647.7L585.1 648.4L585.5 650.5L585.8 654L586.2 658.9L586.5 665.2L586.9 672.8L587.3 681.6L587.6 691.7L588 703L588.3 715.4L588.7 728.9L589 743.4L589.4 758.8L589.8 775.1L590.1 792.1L590.5 809.8L590.8 828.1L591.2 846.9L591.5 866.1L591.9 885.5L592.3 905.2L592.6 925L593 907L593.3 889.1L593.7 871.4L594 853.9L594.4 836.8L594.8 820.2L595.1 804.1L595.5 788.6L595.8 773.8L596.2 759.8L596.5 746.6L596.9 734.3L597.3 723L597.6 712.8L598 703.6L598.3 695.5L598.7 688.6L599 682.9L599.4 678.5L599.8 675.3L600.1 673.3L600.5 672.7L600.8 673.3L601.2 675.3L601.5 678.5L601.9 682.9L602.2 688.6L602.6 695.5L602.9 703.6L603.3 712.8L603.6 723L604 734.3L604.4 746.6L604.7 759.8L605.1 773.8L605.4 788.6L605.8 804.1L606.1 820.2L606.5 836.8L606.8 853.9L607.2 871.4L607.5 889.1L607.9 907L608.2 925L608.6 908.9L608.9 892.9L609.3 877L609.6 861.4L610 846.1L610.4 831.2L610.7 816.8L611.1 803L611.4 789.7L611.8 777.2L612.1 765.4L612.5 754.4L612.8 744.3L613.2 735.1L613.5 726.9L613.9 719.7L614.2 713.5L614.6 708.4L614.9 704.5L615.3 701.6L615.6 699.9L616 699.3L616.4 699.9L616.7 701.6L617.1 704.5L617.4 708.4L617.8 713.5L618.1 719.7L618.5 726.9L618.8 735.1L619.2 744.3L619.6 754.4L619.9 765.4L620.3 777.2L620.6 789.7L621 803L621.3 816.8L621.7 831.2L622 846.1L622.4 861.4L622.8 877L623.1 892.9L623.5 908.9L623.8 925L624.2 910.8L624.5 896.8L624.9 882.8L625.2 869.1L625.6 855.7L626 842.6L626.3 829.9L626.7 817.7L627 806.1L627.4 795.1L627.7 784.7L628.1 775.1L628.4 766.2L628.8 758.1L629.2 750.9L629.5 744.5L629.9 739.1L630.2 734.6L630.6 731.1L630.9 728.6L631.3 727.1L631.6 726.6L632 727.1L632.3 728.6L632.7 731.1L633 734.6L633.4 739.1L633.7 744.5L634.1 750.9L634.4 758.1L634.8 766.2L635.1 775.1L635.4 784.7L635.8 795.1L636.1 806.1L636.5 817.7L636.8 829.9L637.2 842.6L637.5 855.7L637.9 869.1L638.2 882.8L638.5 896.8L638.9 910.8L639.2 925L639.6 912.8L639.9 900.6L640.3 888.6L640.6 876.8L641 865.2L641.3 853.9L641.6 843L642 832.4L642.3 822.4L642.7 812.9L643 803.9L643.4 795.6L643.7 787.9L644.1 781L644.4 774.7L644.8 769.3L645.1 764.6L645.4 760.7L645.8 757.7L646.1 755.5L646.5 754.2L646.8 753.8L647.2 754.2L647.5 755.5L647.9 757.7L648.2 760.7L648.6 764.6L648.9 769.3L649.3 774.7L649.6 781L650 787.9L650.4 795.6L650.7 803.9L651.1 812.9L651.4 822.4L651.8 832.4L652.1 843L652.5 853.9L652.8 865.2L653.2 876.8L653.5 888.6L653.9 900.6L654.2 912.8L654.6 925L654.9 914.7L655.3 904.4L655.6 894.2L656 884.2L656.4 874.4L656.7 864.8L657.1 855.6L657.4 846.7L657.8 838.2L658.1 830.2L658.5 822.6L658.8 815.6L659.2 809.1L659.5 803.2L659.9 797.9L660.2 793.3L660.6 789.3L660.9 786.1L661.3 783.5L661.6 781.7L662 780.6L662.4 780.2L662.7 780.6L663.1 781.7L663.4 783.5L663.7 786.1L664.1 789.3L664.4 793.3L664.8 797.9L665.1 803.2L665.5 809.1L665.8 815.6L666.2 822.6L666.5 830.2L666.9 838.2L667.2 846.7L667.6 855.6L667.9 864.8L668.3 874.4L668.6 884.2L669 894.2L669.3 904.4L669.7 914.7L670 925L670.4 916.3L670.7 907.6L671.1 899L671.4 890.5L671.8 882.3L672.1 874.2L672.5 866.4L672.8 858.9L673.2 851.7L673.5 844.9L673.9 838.5L674.2 832.6L674.6 827.1L674.9 822.1L675.3 817.7L675.6 813.8L676 810.4L676.3 807.7L676.7 805.5L677 803.9L677.4 803L677.7 802.7L678 803L678.4 803.9L678.7 805.5L679.1 807.7L679.4 810.4L679.7 813.8L680.1 817.7L680.4 822.1L680.7 827.1L681.1 832.6L681.4 838.5L681.7 844.9L682.1 851.7L682.4 858.9L682.8 866.4L683.1 874.2L683.4 882.3L683.8 890.5L684.1 899L684.4 907.6L684.8 916.3L685.1 925L685.5 917.5L685.8 910.1L686.1 902.7L686.5 895.4L686.8 888.3L687.1 881.4L687.5 874.7L687.8 868.2L688.1 862.1L688.5 856.2L688.8 850.8L689.2 845.6L689.5 840.9L689.8 836.7L690.2 832.8L690.5 829.5L690.8 826.6L691.2 824.3L691.5 822.4L691.9 821.1L692.2 820.3L692.5 820L692.9 820.3L693.2 821.1L693.5 822.4L693.8 824.3L694.2 826.6L694.5 829.5L694.8 832.8L695.1 836.7L695.5 840.9L695.8 845.6L696.1 850.8L696.5 856.2L696.8 862.1L697.1 868.2L697.4 874.7L697.8 881.4L698.1 888.3L698.4 895.4L698.8 902.7L699.1 910.1L699.4 917.5L699.7 925L700.1 918L700.4 911.1L700.7 904.3L701 897.5L701.4 890.9L701.7 884.5L702 878.3L702.4 872.3L702.7 866.6L703 861.2L703.3 856.1L703.7 851.3L704 846.9L704.3 843L704.6 839.4L705 836.3L705.3 833.6L705.6 831.4L706 829.7L706.3 828.5L706.6 827.7L706.9 827.5L707.3 827.7L707.6 828.5L707.9 829.7L708.2 831.4L708.5 833.6L708.8 836.3L709.1 839.4L709.4 843L709.7 846.9L710 851.3L710.4 856.1L710.7 861.2L711 866.6L711.3 872.3L711.6 878.3L711.9 884.5L712.2 890.9L712.5 897.5L712.8 904.3L713.1 911.1L713.5 918L713.8 925L714.1 918L714.4 911.1L714.7 904.3L715 897.5L715.3 890.9L715.6 884.5L715.9 878.3L716.2 872.3L716.6 866.6L716.9 861.2L717.2 856.1L717.5 851.3L717.8 846.9L718.1 843L718.4 839.4L718.7 836.3L719 833.6L719.3 831.4L719.7 829.7L720 828.5L720.3 827.7L720.6 827.5L720.9 827.7L721.2 828.5L721.5 829.7L721.9 831.4L722.2 833.6L722.5 836.3L722.8 839.4L723.1 843L723.5 846.9L723.8 851.3L724.1 856.1L724.4 861.2L724.7 866.6L725 872.3L725.4 878.3L725.7 884.5L726 890.9L726.3 897.5L726.6 904.3L727 911.1L727.3 918L727.6 925L727.9 918L728.2 911.1L728.5 904.3L728.9 897.5L729.2 890.9L729.5 884.5L729.8 878.3L730.1 872.3L730.5 866.6L730.8 861.2L731.1 856.1L731.4 851.3L731.7 846.9L732 843L732.4 839.4L732.7 836.3L733 833.6L733.3 831.4L733.6 829.7L734 828.5L734.3 827.7L734.6 827.5L734.9 827.7L735.2 828.5L735.5 829.7L735.8 831.4L736.1 833.6L736.4 836.3L736.8 839.4L737.1 843L737.4 846.9L737.7 851.3L738 856.1L738.3 861.2L738.6 866.6L738.9 872.3L739.2 878.3L739.6 884.5L739.9 890.9L740.2 897.5L740.5 904.3L740.8 911.1L741.1 918L741.4 925L741.7 918L742 911.1L742.3 904.3L742.7 897.5L743 890.9L743.3 884.5L743.6 878.3L743.9 872.3L744.2 866.6L744.5 861.2L744.8 856.1L745.1 851.3L745.4 846.9L745.8 843L746.1 839.4L746.4 836.3L746.7 833.6L747 831.4L747.3 829.7L747.6 828.5L747.9 827.7L748.2 827.5L748.5 827.7L748.9 828.5L749.2 829.7L749.5 831.4L749.8 833.6L750.1 836.3L750.4 839.4L750.7 843L751.1 846.9L751.4 851.3L751.7 856.1L752 861.2L752.3 866.6L752.6 872.3L752.9 878.3L753.2 884.5L753.6 890.9L753.9 897.5L754.2 904.3L754.5 911.1L754.8 918L755.1 925L755.4 918L755.7 911.1L756.1 904.3L756.4 897.5L756.7 890.9L757 884.5L757.3 878.3L757.6 872.3L757.9 866.6L758.2 861.2L758.6 856.1L758.9 851.3L759.2 846.9L759.5 843L759.8 839.4L760.1 836.3L760.4 833.6L760.7 831.4L761.1 829.7L761.4 828.5L761.7 827.7L762 827.5L762.3 827.7L762.6 828.5L762.9 829.7L763.3 831.4L763.6 833.6L763.9 836.3L764.2 839.4L764.5 843L764.8 846.9L765.1 851.3L765.4 856.1L765.8 861.2L766.1 866.6L766.4 872.3L766.7 878.3L767 884.5L767.3 890.9L767.6 897.5L767.9 904.3L768.3 911.1L768.6 918L768.9 925L769.2 918L769.5 911.1L769.8 904.3L770.1 897.5L770.4 890.9L770.8 884.5L771.1 878.3L771.4 872.3L771.7 866.6L772 861.2L772.3 856.1L772.6 851.3L772.9 846.9L773.3 843L773.6 839.4L773.9 836.3L774.2 833.6L774.5 831.4L774.8 829.7L775.1 828.5L775.5 827.7L775.8 827.5L776.1 827.7L776.4 828.5L776.7 829.7L777 831.4L777.4 833.6L777.7 836.3L778 839.4L778.3 843L778.6 846.9L778.9 851.3L779.3 856.1L779.6 861.2L779.9 866.6L780.2 872.3L780.5 878.3L780.9 884.5L781.2 890.9L781.5 897.5L781.8 904.3L782.1 911.1L782.4 918L782.8 925L783.1 918L783.4 911.1L783.7 904.3L784 897.5L784.4 890.9L784.7 884.5L785 878.3L785.3 872.3L785.6 866.6L785.9 861.2L786.3 856.1L786.6 851.3L786.9 846.9L787.2 843L787.5 839.4L787.9 836.3L788.2 833.6L788.5 831.4L788.8 829.7L789.1 828.5L789.4 827.7L789.8 827.5L790.1 827.7L790.4 828.5L790.7 829.7L791 831.4L791.3 833.6L791.7 836.3L792 839.4L792.3 843L792.6 846.9L792.9 851.3L793.2 856.1L793.6 861.2L793.9 866.6L794.2 872.3L794.5 878.3L794.8 884.5L795.2 890.9L795.5 897.5L795.8 904.3L796.1 911.1L796.4 918L796.7 925L797.1 918L797.4 911.1L797.7 904.3L798 897.5L798.3 890.9L798.6 884.5L799 878.3L799.3 872.3L799.6 866.6L799.9 861.2L800.2 856.1L800.5 851.3L800.9 846.9L801.2 843L801.5 839.4L801.8 836.3L802.1 833.6L802.4 831.4L802.8 829.7L803.1 828.5L803.4 827.7L803.7 827.5L804 827.7L804.3 828.5L804.7 829.7L805 831.4L805.3 833.6L805.6 836.3L805.9 839.4L806.2 843L806.6 846.9L806.9 851.3L807.1 854.1" stroke="#0000ff" stroke-width="4.4" fill="none" stroke-linejoin="round" stroke-linecap="butt"/></g>
<g clip-path="url(#cpb)"><path d="M81.2 887.2L81.8 890.6L82.4 894L82.9 897.4L83.5 900.9L84.1 904.4L84.7 907.9L85.3 911.4L85.9 914.9L86.5 913.5L87.1 910L87.6 906.5L88.2 903L88.8 899.5L89.4 896L90 892.6L90.6 889.2L91.2 885.8L91.8 882.5L92.4 879.2L92.9 876L93.5 872.8L94.1 869.7L94.7 866.7L95.3 863.7L95.9 860.8L96.5 858L97.1 855.2L97.6 852.5L98.2 850L98.8 847.5L99.4 845.1L100 842.8L100.6 840.6L101.2 838.5L101.8 836.5L102.4 834.6L102.9 832.9L103.5 831.2L104.1 829.7L104.7 828.3L105.3 827L105.9 825.9L106.5 824.8L107.1 823.9L107.6 823.1L108.2 822.5L108.8 821.9L109.4 821.5L110 821.3L110.6 821.1L111.2 821.1L111.8 821.2L112.4 821.5L112.9 821.9L113.5 822.4L114.1 823L114.7 823.8L115.3 824.7L115.9 825.7L116.5 826.9L117.1 828.2L117.6 829.6L118.2 831.1L118.8 832.7L119.4 834.5L120 836.3L120.6 838.3L121.2 840.4L121.8 842.6L122.4 844.8L122.9 847.2L123.5 849.7L124.1 852.3L124.7 854.9L125.3 857.7L125.9 860.5L126.5 863.4L127.1 866.4L127.6 869.4L128.2 872.5L128.8 875.7L129.4 878.9L130 882.2L130.6 885.5L131.2 888.9L131.8 892.3L132.4 895.7L132.9 899.2L133.5 902.6L134.1 906.1L134.7 909.7L135.3 913.2L135.9 915.3L136.5 911.8L137.1 908.2L137.6 904.7L138.2 901.2L138.8 897.8L139.4 894.3L140 890.9L140.6 887.5L141.2 884.2L141.8 880.9L142.4 877.6L142.9 874.4L143.5 871.3L144.1 868.2L144.7 865.2L145.3 862.2L145.9 859.4L146.5 856.6L147.1 853.9L147.6 851.2L148.2 848.7L148.8 846.3L149.4 843.9L150 841.7L150.6 839.5L151.2 837.5L151.8 835.6L152.4 833.8L152.9 832.1L153.5 830.5L154.1 829L154.7 827.6L155.3 826.4L155.9 825.3L156.5 824.3L157.1 823.5L157.6 822.8L158.2 822.2L158.8 821.7L159.4 821.4L160 821.2L160.6 821.1L161.2 821.2L161.8 821.3L162.4 821.7L162.9 822.1L163.5 822.7L164.1 823.4L164.7 824.3L165.3 825.2L165.9 826.3L166.5 827.5L167.1 828.9L167.6 830.3L168.2 831.9L168.8 833.6L169.4 835.4L170 837.3L170.6 839.3L171.2 841.5L171.8 843.7L172.4 846L172.9 848.5L173.5 851L174.1 853.6L174.7 856.3L175.3 859.1L175.9 861.9L176.5 864.9L177.1 867.9L177.6 871L178.2 874.1L178.8 877.3L179.4 880.5L180 883.8L180.6 887.2L181.2 890.6L181.8 894L182.4 897.4L182.9 900.9L183.5 904.4L184.1 907.9L184.7 911.4L185.3 914.9L185.9 913.5L186.5 910L186.5 910L186.9 902.4L187.3 894.7L187.7 887.2L188.1 879.8L188.6 872.5L189 865.5L189.4 858.6L189.8 852L190.2 845.8L190.7 839.8L191.1 834.2L191.5 829L191.9 824.2L192.3 819.8L192.8 815.9L193.2 812.5L193.6 809.6L194 807.1L194.4 805.2L194.9 803.9L195.3 803.1L195.7 802.8L196 803.1L196.4 804L196.7 805.6L197 807.7L197.4 810.5L197.7 813.8L198.1 817.7L198.4 822.2L198.7 827.2L199.1 832.6L199.4 838.6L199.7 845L200.1 851.8L200.4 858.9L200.7 866.4L201.1 874.2L201.4 882.3L201.7 890.6L202.1 899L202.4 907.6L202.8 916.3L203.1 925L203.4 917.4L203.8 909.9L204.1 902.5L204.4 895.2L204.8 888L205.1 881L205.4 874.2L205.8 867.7L206.1 861.5L206.4 855.7L206.8 850.1L207.1 845L207.5 840.2L207.8 835.9L208.1 832.1L208.5 828.7L208.8 825.8L209.1 823.4L209.5 821.5L209.8 820.2L210.1 819.4L210.5 819.1L210.8 819.4L211.1 820.2L211.4 821.5L211.8 823.4L212.1 825.8L212.4 828.7L212.7 832.1L213.1 835.9L213.4 840.2L213.7 845L214 850.1L214.4 855.7L214.7 861.5L215 867.7L215.3 874.2L215.7 881L216 888L216.3 895.2L216.6 902.5L217 909.9L217.3 917.4L217.6 925L217.9 918L218.3 911.1L218.6 904.3L218.9 897.5L219.2 890.9L219.6 884.5L219.9 878.2L220.2 872.2L220.5 866.5L220.9 861.1L221.2 856L221.5 851.2L221.8 846.9L222.2 842.9L222.5 839.3L222.8 836.2L223.1 833.6L223.5 831.4L223.8 829.6L224.1 828.4L224.4 827.6L224.8 827.4L225.1 827.6L225.4 828.4L225.7 829.6L226 831.4L226.4 833.6L226.7 836.2L227 839.3L227.3 842.9L227.6 846.9L228 851.2L228.3 856L228.6 861.1L228.9 866.5L229.2 872.2L229.6 878.2L229.9 884.5L230.2 890.9L230.5 897.5L230.8 904.3L231.2 911.1L231.5 918L231.8 925L232.1 917.8L232.4 910.6L232.8 903.6L233.1 896.6L233.4 889.7L233.7 883.1L234 876.6L234.4 870.4L234.7 864.5L235 858.9L235.3 853.7L235.6 848.7L235.9 844.2L236.3 840.1L236.6 836.4L236.9 833.2L237.2 830.5L237.5 828.2L237.9 826.4L238.2 825.1L238.5 824.4L238.8 824.1L239.2 824.4L239.5 825.1L239.8 826.4L240.2 828.2L240.5 830.5L240.9 833.2L241.2 836.4L241.5 840.1L241.9 844.2L242.2 848.7L242.6 853.7L242.9 858.9L243.2 864.5L243.6 870.4L243.9 876.6L244.3 883.1L244.6 889.7L244.9 896.6L245.3 903.6L245.6 910.6L246 917.8L246.3 925L246.6 916.9L247 908.8L247.3 900.8L247.7 892.9L248 885.2L248.3 877.6L248.7 870.4L249 863.4L249.4 856.7L249.7 850.3L250 844.4L250.4 838.8L250.7 833.7L251 829.1L251.4 824.9L251.7 821.3L252.1 818.2L252.4 815.6L252.7 813.6L253.1 812.2L253.4 811.3L253.8 811L254.1 811.3L254.5 812.2L254.8 813.6L255.1 815.6L255.5 818.2L255.8 821.3L256.2 824.9L256.5 829.1L256.9 833.7L257.2 838.8L257.6 844.4L257.9 850.3L258.2 856.7L258.6 863.4L258.9 870.4L259.3 877.6L259.6 885.2L260 892.9L260.3 900.8L260.7 908.8L261 916.9L261.4 925L261.7 915.3L262 905.7L262.4 896.2L262.7 886.8L263.1 877.6L263.4 868.7L263.8 860.1L264.1 851.7L264.5 843.8L264.8 836.3L265.1 829.2L265.5 822.6L265.8 816.5L266.2 811L266.5 806.1L266.9 801.7L267.2 798L267.6 795L267.9 792.6L268.3 790.9L268.6 789.8L268.9 789.5L269.3 789.8L269.6 790.9L270 792.6L270.3 795L270.7 798L271 801.7L271.4 806.1L271.7 811L272 816.5L272.4 822.6L272.7 829.2L273.1 836.3L273.4 843.8L273.8 851.7L274.1 860.1L274.5 868.7L274.8 877.6L275.1 886.8L275.5 896.2L275.8 905.7L276.2 915.3L276.5 925L276.9 913.5L277.2 902L277.6 890.7L277.9 879.6L278.3 868.6L278.6 858L278.9 847.7L279.3 837.8L279.6 828.3L280 819.4L280.3 810.9L280.7 803.1L281 795.9L281.4 789.3L281.7 783.4L282 778.3L282.4 773.9L282.7 770.2L283.1 767.4L283.4 765.3L283.8 764.1L284.1 763.7L284.5 764.1L284.8 765.3L285.2 767.4L285.5 770.2L285.9 773.9L286.2 778.3L286.6 783.4L286.9 789.3L287.3 795.9L287.6 803.1L288 810.9L288.4 819.4L288.7 828.3L289.1 837.8L289.4 847.7L289.8 858L290.1 868.6L290.5 879.6L290.8 890.7L291.2 902L291.5 913.5L291.9 925L292.2 911.6L292.6 898.2L292.9 884.9L293.3 871.9L293.6 859.1L294 846.7L294.4 834.7L294.7 823.1L295.1 812L295.4 801.6L295.8 791.7L296.1 782.5L296.5 774.1L296.8 766.4L297.2 759.6L297.5 753.5L297.9 748.4L298.2 744.1L298.6 740.8L298.9 738.4L299.3 737L299.6 736.5L300 737L300.4 738.4L300.7 740.8L301.1 744.1L301.4 748.4L301.8 753.5L302.1 759.6L302.5 766.4L302.9 774.1L303.2 782.5L303.6 791.7L303.9 801.6L304.3 812L304.6 823.1L305 834.7L305.4 846.7L305.7 859.1L306.1 871.9L306.4 884.9L306.8 898.2L307.1 911.6L307.5 925L307.9 909.6L308.2 894.3L308.6 879.1L308.9 864.2L309.3 849.6L309.6 835.4L310 821.6L310.4 808.3L310.7 795.7L311.1 783.7L311.4 772.4L311.8 761.9L312.1 752.2L312.5 743.5L312.9 735.6L313.2 728.7L313.6 722.8L313.9 717.9L314.3 714.1L314.6 711.4L315 709.7L315.4 709.2L315.7 709.7L316.1 711.4L316.4 714.1L316.8 717.9L317.1 722.8L317.5 728.7L317.8 735.6L318.2 743.5L318.5 752.2L318.9 761.9L319.2 772.4L319.6 783.7L319.9 795.7L320.3 808.3L320.6 821.6L321 835.4L321.4 849.6L321.7 864.2L322.1 879.1L322.4 894.3L322.8 909.6L323.1 925L323.5 907.7L323.8 890.4L324.2 873.3L324.5 856.5L324.9 840.1L325.2 824.1L325.6 808.5L325.9 793.6L326.3 779.4L326.6 765.9L327 753.2L327.4 741.4L327.7 730.5L328.1 720.6L328.4 711.7L328.8 704L329.1 697.3L329.5 691.8L329.8 687.6L330.2 684.5L330.5 682.6L330.9 682L331.2 682.6L331.6 684.5L331.9 687.6L332.3 691.8L332.7 697.3L333 704L333.4 711.7L333.7 720.6L334.1 730.5L334.4 741.4L334.8 753.2L335.1 765.9L335.5 779.4L335.9 793.6L336.2 808.5L336.6 824.1L336.9 840.1L337.3 856.5L337.6 873.3L338 890.4L338.4 907.7L338.7 925L339.1 905.9L339.4 886.9L339.8 868.2L340.1 849.7L340.5 831.6L340.8 813.9L341.2 796.8L341.6 780.4L341.9 764.8L342.3 749.9L342.6 735.9L343 722.9L343.3 710.9L343.7 700L344 690.3L344.4 681.8L344.8 674.5L345.1 668.4L345.5 663.7L345.8 660.3L346.2 658.3L346.5 657.6L346.9 658.3L347.2 660.3L347.6 663.7L348 668.4L348.3 674.5L348.7 681.8L349 690.3L349.4 700L349.7 710.9L350.1 722.9L350.5 735.9L350.8 749.9L351.2 764.8L351.5 780.4L351.9 796.8L352.2 813.9L352.6 831.6L353 849.7L353.3 868.2L353.7 886.9L354 905.9L354.4 925L354.7 904.2L355.1 883.5L355.5 863L355.8 842.8L356.2 823.1L356.5 803.8L356.9 785.2L357.2 767.3L357.6 750.2L358 734L358.3 718.7L358.7 704.5L359 691.5L359.4 679.6L359.7 669L360.1 659.7L360.5 651.7L360.8 645.1L361.2 640L361.5 636.3L361.9 634L362.2 633.3L362.6 634L363 636.3L363.3 640L363.7 645.1L364 651.7L364.4 659.7L364.8 669L365.1 679.6L365.5 691.5L365.8 704.5L366.2 718.7L366.6 734L366.9 750.2L367.3 767.3L367.6 785.2L368 803.8L368.4 823.1L368.7 842.8L369.1 863L369.5 883.5L369.8 904.2L370.2 925L370.5 902.6L370.9 880.4L371.3 858.4L371.6 836.7L372 815.5L372.3 794.9L372.7 774.9L373.1 755.6L373.4 737.2L373.8 719.8L374.1 703.5L374.5 688.2L374.9 674.2L375.2 661.4L375.6 650L376 640L376.3 631.5L376.7 624.4L377 618.9L377.4 614.9L377.8 612.5L378.1 611.7L378.5 612.5L378.9 614.9L379.2 618.9L379.6 624.4L380 631.5L380.3 640L380.7 650L381.1 661.4L381.4 674.2L381.8 688.2L382.2 703.5L382.5 719.8L382.9 737.2L383.3 755.6L383.6 774.9L384 794.9L384.4 815.5L384.7 836.7L385.1 858.4L385.5 880.4L385.8 902.6L386.2 925L386.6 901.3L386.9 877.8L387.3 854.4L387.7 831.5L388 809L388.4 787.1L388.8 765.9L389.1 745.6L389.5 726.1L389.9 707.7L390.2 690.3L390.6 674.2L391 659.3L391.4 645.8L391.7 633.7L392.1 623.1L392.5 614L392.8 606.5L393.2 600.7L393.6 596.5L393.9 593.9L394.3 593.1L394.7 593.9L395 596.5L395.4 600.7L395.7 606.5L396.1 614L396.5 623.1L396.8 633.7L397.2 645.8L397.5 659.3L397.9 674.2L398.2 690.3L398.6 707.7L399 726.1L399.3 745.6L399.7 765.9L400 787.1L400.4 809L400.8 831.5L401.1 854.4L401.5 877.8L401.8 901.3L402.2 925L402.6 900.3L402.9 875.6L403.3 851.3L403.6 827.3L404 803.8L404.4 780.9L404.7 758.8L405.1 737.5L405.4 717.2L405.8 697.9L406.2 679.8L406.5 662.9L406.9 647.4L407.2 633.3L407.6 620.6L408 609.5L408.3 600.1L408.7 592.2L409 586.1L409.4 581.7L409.8 579.1L410.1 578.2L410.5 579.1L410.8 581.7L411.2 586.1L411.5 592.2L411.9 600.1L412.3 609.5L412.6 620.6L413 633.3L413.3 647.4L413.7 662.9L414 679.8L414.4 697.9L414.8 717.2L415.1 737.5L415.5 758.8L415.8 780.9L416.2 803.8L416.5 827.3L416.9 851.3L417.3 875.6L417.6 900.3L418 925L418.3 899.4L418.7 873.9L419 848.7L419.4 823.8L419.8 799.5L420.1 775.8L420.5 752.9L420.8 730.9L421.2 709.8L421.5 689.8L421.9 671.1L422.3 653.6L422.6 637.5L423 622.9L423.3 609.8L423.7 598.4L424 588.5L424.4 580.4L424.8 574.1L425.1 569.6L425.5 566.8L425.8 565.9L426.2 566.8L426.6 569.6L426.9 574.1L427.3 580.4L427.6 588.5L428 598.4L428.4 609.8L428.7 622.9L429.1 637.5L429.5 653.6L429.8 671.1L430.2 689.8L430.6 709.8L430.9 730.9L431.3 752.9L431.6 775.8L432 799.5L432.4 823.8L432.7 848.7L433.1 873.9L433.5 899.4L433.8 925L434.2 898.8L434.6 872.7L434.9 846.8L435.3 821.4L435.6 796.5L436 772.3L436.4 748.8L436.7 726.2L437.1 704.6L437.5 684.2L437.8 665L438.2 647.1L438.6 630.6L438.9 615.7L439.3 602.3L439.6 590.5L440 580.5L440.4 572.2L440.7 565.7L441.1 561L441.5 558.2L441.8 557.3L442.2 558.2L442.6 561L442.9 565.7L443.3 572.2L443.6 580.5L444 590.5L444.4 602.3L444.7 615.7L445.1 630.6L445.5 647.1L445.8 665L446.2 684.2L446.6 704.6L446.9 726.2L447.3 748.8L447.7 772.3L448 796.5L448.4 821.4L448.8 846.8L449.1 872.7L449.5 898.8L449.9 925L450.2 898.6L450.6 872.3L450.9 846.2L451.3 820.6L451.7 795.5L452 771L452.4 747.4L452.8 724.6L453.1 702.9L453.5 682.3L453.9 662.9L454.2 644.9L454.6 628.3L455 613.2L455.3 599.7L455.7 587.9L456.1 577.8L456.4 569.4L456.8 562.9L457.2 558.2L457.5 555.3L457.9 554.4L458.2 555.3L458.6 558.2L459 562.9L459.3 569.4L459.7 577.8L460.1 587.9L460.4 599.7L460.8 613.2L461.2 628.3L461.5 644.9L461.9 662.9L462.3 682.3L462.6 702.9L463 724.6L463.4 747.4L463.7 771L464.1 795.5L464.5 820.6L464.8 846.2L465.2 872.3L465.5 898.6L465.9 925L466.3 898.6L466.6 872.3L467 846.2L467.4 820.6L467.7 795.5L468.1 771L468.5 747.4L468.8 724.6L469.2 702.9L469.6 682.3L469.9 662.9L470.3 644.9L470.7 628.3L471 613.2L471.4 599.7L471.8 587.9L472.1 577.8L472.5 569.4L472.8 562.9L473.2 558.2L473.6 555.3L473.9 554.4L474.3 555.3L474.6 558.2L475 562.9L475.4 569.4L475.7 577.8L476.1 587.9L476.4 599.7L476.8 613.2L477.1 628.3L477.5 644.9L477.8 662.9L478.2 682.3L478.5 702.9L478.9 724.6L479.2 747.4L479.6 771L479.9 795.5L480.3 820.6L480.6 846.2L481 872.3L481.4 898.6L481.7 925L482.1 898.8L482.4 872.7L482.8 846.8L483.1 821.4L483.5 796.5L483.8 772.3L484.2 748.8L484.5 726.2L484.9 704.6L485.2 684.2L485.6 665L485.9 647.1L486.3 630.6L486.6 615.7L487 602.3L487.4 590.5L487.7 580.5L488.1 572.2L488.4 565.7L488.8 561L489.1 558.2L489.5 557.3L489.8 558.2L490.2 561L490.6 565.7L490.9 572.2L491.3 580.5L491.7 590.5L492 602.3L492.4 615.7L492.8 630.6L493.1 647.1L493.5 665L493.9 684.2L494.2 704.6L494.6 726.2L494.9 748.8L495.3 772.3L495.7 796.5L496 821.4L496.4 846.8L496.8 872.7L497.1 898.8L497.5 925L497.9 899.3L498.2 873.7L498.6 848.3L499 823.4L499.3 799L499.7 775.2L500.1 752.2L500.4 730L500.8 708.9L501.1 688.9L501.5 670L501.9 652.5L502.2 636.3L502.6 621.6L503 608.5L503.3 597L503.7 587.1L504.1 579L504.4 572.6L504.8 568.1L505.2 565.3L505.5 564.4L505.9 565.3L506.2 568.1L506.6 572.6L507 579L507.3 587.1L507.7 597L508 608.5L508.4 621.6L508.7 636.3L509.1 652.5L509.4 670L509.8 688.9L510.2 708.9L510.5 730L510.9 752.2L511.2 775.2L511.6 799L511.9 823.4L512.3 848.3L512.6 873.7L513 899.3L513.4 925L513.7 900L514.1 875.1L514.4 850.5L514.8 826.3L515.1 802.5L515.5 779.4L515.8 757L516.2 735.5L516.6 715L516.9 695.5L517.3 677.2L517.6 660.1L518 644.4L518.3 630.1L518.7 617.4L519 606.2L519.4 596.6L519.8 588.7L520.1 582.5L520.5 578.1L520.8 575.4L521.2 574.5L521.5 575.4L521.9 578.1L522.3 582.5L522.6 588.7L523 596.6L523.4 606.2L523.7 617.4L524.1 630.1L524.5 644.4L524.8 660.1L525.2 677.2L525.6 695.5L525.9 715L526.3 735.5L526.7 757L527 779.4L527.4 802.5L527.7 826.3L528.1 850.5L528.5 875.1L528.8 900L529.2 925L529.6 900.9L529.9 877L530.3 853.2L530.7 829.9L531 807L531.4 784.8L531.8 763.2L532.1 742.5L532.5 722.7L532.9 703.9L533.2 686.3L533.6 669.9L534 654.7L534.3 641L534.7 628.7L535 617.9L535.4 608.7L535.8 601.1L536.1 595.1L536.5 590.8L536.9 588.3L537.2 587.4L537.6 588.3L537.9 590.8L538.3 595.1L538.7 601.1L539 608.7L539.4 617.9L539.7 628.7L540.1 641L540.4 654.7L540.8 669.9L541.1 686.3L541.5 703.9L541.9 722.7L542.2 742.5L542.6 763.2L542.9 784.8L543.3 807L543.6 829.9L544 853.2L544.3 877L544.7 900.9L545.1 925L545.4 902.1L545.8 879.4L546.1 856.9L546.5 834.7L546.8 813L547.2 791.9L547.5 771.4L547.9 751.8L548.3 733L548.6 715.2L549 698.4L549.3 682.9L549.7 668.5L550 655.5L550.4 643.8L550.7 633.6L551.1 624.8L551.5 617.6L551.8 611.9L552.2 607.9L552.5 605.4L552.9 604.6L553.2 605.4L553.6 607.9L553.9 611.9L554.3 617.6L554.6 624.8L555 633.6L555.4 643.8L555.7 655.5L556.1 668.5L556.4 682.9L556.8 698.4L557.1 715.2L557.5 733L557.8 751.8L558.2 771.4L558.5 791.9L558.9 813L559.2 834.7L559.6 856.9L559.9 879.4L560.3 902.1L560.6 925L561 903.6L561.4 882.3L561.7 861.2L562.1 840.4L562.4 820.1L562.8 800.3L563.1 781.1L563.5 762.6L563.8 745L564.2 728.3L564.5 712.7L564.9 698L565.2 684.6L565.6 672.4L565.9 661.4L566.3 651.8L566.6 643.6L567 636.9L567.4 631.6L567.7 627.8L568.1 625.5L568.4 624.7L568.8 625.5L569.2 627.8L569.5 631.6L569.9 636.9L570.3 643.6L570.6 651.8L571 661.4L571.4 672.4L571.8 684.6L572.1 698L572.5 712.7L572.9 728.3L573.2 745L573.6 762.6L574 781.1L574.4 800.3L574.7 820.1L575.1 840.4L575.5 861.2L575.8 882.3L576.2 903.6L576.6 925L577 905.2L577.3 885.4L577.7 865.9L578.1 846.7L578.4 827.8L578.8 809.5L579.2 791.8L579.6 774.7L579.9 758.4L580.3 742.9L580.7 728.4L581 714.9L581.4 702.4L581.8 691.1L582.2 681L582.5 672.1L582.9 664.5L583.3 658.3L583.6 653.4L584 649.8L584.4 647.7L584.8 647L585.1 647.7L585.5 649.8L585.8 653.4L586.2 658.3L586.5 664.5L586.9 672.1L587.3 681L587.6 691.1L588 702.4L588.3 714.9L588.7 728.4L589 742.9L589.4 758.4L589.8 774.7L590.1 791.8L590.5 809.5L590.8 827.8L591.2 846.7L591.5 865.9L591.9 885.4L592.3 905.2L592.6 925L593 907L593.3 889L593.7 871.2L594 853.7L594.4 836.6L594.8 819.9L595.1 803.8L595.5 788.2L595.8 773.4L596.2 759.3L596.5 746.1L596.9 733.8L597.3 722.5L597.6 712.2L598 702.9L598.3 694.9L598.7 688L599 682.2L599.4 677.8L599.8 674.6L600.1 672.6L600.5 672L600.8 672.6L601.2 674.6L601.5 677.8L601.9 682.2L602.2 688L602.6 694.9L602.9 702.9L603.3 712.2L603.6 722.5L604 733.8L604.4 746.1L604.7 759.3L605.1 773.4L605.4 788.2L605.8 803.8L606.1 819.9L606.5 836.6L606.8 853.7L607.2 871.2L607.5 889L607.9 907L608.2 925L608.6 908.8L608.9 892.8L609.3 876.9L609.6 861.2L610 845.9L610.4 831L610.7 816.5L611.1 802.6L611.4 789.3L611.8 776.7L612.1 764.9L612.5 753.9L612.8 743.8L613.2 734.5L613.5 726.3L613.9 719.1L614.2 712.9L614.6 707.8L614.9 703.8L615.3 700.9L615.6 699.2L616 698.6L616.4 699.2L616.7 700.9L617.1 703.8L617.4 707.8L617.8 712.9L618.1 719.1L618.5 726.3L618.8 734.5L619.2 743.8L619.6 753.9L619.9 764.9L620.3 776.7L620.6 789.3L621 802.6L621.3 816.5L621.7 831L622 845.9L622.4 861.2L622.8 876.9L623.1 892.8L623.5 908.8L623.8 925L624.2 910.8L624.5 896.7L624.9 882.7L625.2 868.9L625.6 855.4L626 842.3L626.3 829.6L626.7 817.4L627 805.7L627.4 794.6L627.7 784.2L628.1 774.5L628.4 765.6L628.8 757.5L629.2 750.3L629.5 743.9L629.9 738.5L630.2 734L630.6 730.5L630.9 727.9L631.3 726.4L631.6 725.9L632 726.4L632.3 727.9L632.7 730.5L633 734L633.4 738.5L633.7 743.9L634.1 750.3L634.4 757.5L634.8 765.6L635.1 774.5L635.4 784.2L635.8 794.6L636.1 805.7L636.5 817.4L636.8 829.6L637.2 842.3L637.5 855.4L637.9 868.9L638.2 882.7L638.5 896.7L638.9 910.8L639.2 925L639.6 912.7L639.9 900.5L640.3 888.5L640.6 876.6L641 864.9L641.3 853.6L641.6 842.6L642 832.1L642.3 822L642.7 812.4L643 803.4L643.4 795.1L643.7 787.4L644.1 780.4L644.4 774.1L644.8 768.6L645.1 763.9L645.4 760.1L645.8 757L646.1 754.8L646.5 753.5L646.8 753.1L647.2 753.5L647.5 754.8L647.9 757L648.2 760.1L648.6 763.9L648.9 768.6L649.3 774.1L649.6 780.4L650 787.4L650.4 795.1L650.7 803.4L651.1 812.4L651.4 822L651.8 832.1L652.1 842.6L652.5 853.6L652.8 864.9L653.2 876.6L653.5 888.5L653.9 900.5L654.2 912.7L654.6 925L654.9 914.6L655.3 904.3L655.6 894.1L656 884L656.4 874.2L656.7 864.6L657.1 855.3L657.4 846.3L657.8 837.8L658.1 829.7L658.5 822.1L658.8 815L659.2 808.5L659.5 802.6L659.9 797.3L660.2 792.6L660.6 788.7L660.9 785.4L661.3 782.8L661.6 781L662 779.9L662.4 779.5L662.7 779.9L663.1 781L663.4 782.8L663.7 785.4L664.1 788.7L664.4 792.6L664.8 797.3L665.1 802.6L665.5 808.5L665.8 815L666.2 822.1L666.5 829.7L666.9 837.8L667.2 846.3L667.6 855.3L667.9 864.6L668.3 874.2L668.6 884L669 894.1L669.3 904.3L669.7 914.6L670 925L670.4 916.2L670.7 907.5L671.1 898.9L671.4 890.3L671.8 882L672.1 873.9L672.5 866.1L672.8 858.5L673.2 851.3L673.5 844.5L673.9 838L674.2 832L674.6 826.5L674.9 821.5L675.3 817L675.6 813.1L676 809.8L676.3 807L676.7 804.8L677 803.3L677.4 802.3L677.7 802L678 802.3L678.4 803.3L678.7 804.8L679.1 807L679.4 809.8L679.7 813.1L680.1 817L680.4 821.5L680.7 826.5L681.1 832L681.4 838L681.7 844.5L682.1 851.3L682.4 858.5L682.8 866.1L683.1 873.9L683.4 882L683.8 890.3L684.1 898.9L684.4 907.5L684.8 916.2L685.1 925L685.5 917.5L685.8 910L686.1 902.5L686.5 895.2L686.8 888.1L687.1 881.1L687.5 874.3L687.8 867.9L688.1 861.7L688.5 855.8L688.8 850.3L689.2 845.1L689.5 840.4L689.8 836.1L690.2 832.2L690.5 828.9L690.8 826L691.2 823.6L691.5 821.7L691.9 820.4L692.2 819.6L692.5 819.3L692.9 819.6L693.2 820.4L693.5 821.7L693.8 823.6L694.2 826L694.5 828.9L694.8 832.2L695.1 836.1L695.5 840.4L695.8 845.1L696.1 850.3L696.5 855.8L696.8 861.7L697.1 867.9L697.4 874.3L697.8 881.1L698.1 888.1L698.4 895.2L698.8 902.5L699.1 910L699.4 917.5L699.7 925L700.1 918L700.4 911L700.7 904.1L701 897.3L701.4 890.7L701.7 884.2L702 877.9L702.4 871.9L702.7 866.2L703 860.7L703.3 855.6L703.7 850.8L704 846.4L704.3 842.4L704.6 838.8L705 835.7L705.3 833L705.6 830.8L706 829L706.3 827.8L706.6 827.1L706.9 826.8L707.3 827.1L707.6 827.8L707.9 829L708.2 830.8L708.5 833L708.8 835.7L709.1 838.8L709.4 842.4L709.7 846.4L710 850.8L710.4 855.6L710.7 860.7L711 866.2L711.3 871.9L711.6 877.9L711.9 884.2L712.2 890.7L712.5 897.3L712.8 904.1L713.1 911L713.5 918L713.8 925L714.1 918L714.4 911L714.7 904.1L715 897.3L715.3 890.7L715.6 884.2L715.9 877.9L716.2 871.9L716.6 866.2L716.9 860.7L717.2 855.6L717.5 850.8L717.8 846.4L718.1 842.4L718.4 838.8L718.7 835.7L719 833L719.3 830.8L719.7 829L720 827.8L720.3 827.1L720.6 826.8L720.9 827.1L721.2 827.8L721.5 829L721.9 830.8L722.2 833L722.5 835.7L722.8 838.8L723.1 842.4L723.5 846.4L723.8 850.8L724.1 855.6L724.4 860.7L724.7 866.2L725 871.9L725.4 877.9L725.7 884.2L726 890.7L726.3 897.3L726.6 904.1L727 911L727.3 918L727.6 925L727.9 918L728.2 911L728.5 904.1L728.9 897.3L729.2 890.7L729.5 884.2L729.8 877.9L730.1 871.9L730.5 866.2L730.8 860.7L731.1 855.6L731.4 850.8L731.7 846.4L732 842.4L732.4 838.8L732.7 835.7L733 833L733.3 830.8L733.6 829L734 827.8L734.3 827.1L734.6 826.8L734.9 827.1L735.2 827.8L735.5 829L735.8 830.8L736.1 833L736.4 835.7L736.8 838.8L737.1 842.4L737.4 846.4L737.7 850.8L738 855.6L738.3 860.7L738.6 866.2L738.9 871.9L739.2 877.9L739.6 884.2L739.9 890.7L740.2 897.3L740.5 904.1L740.8 911L741.1 918L741.4 925L741.7 918L742 911L742.3 904.1L742.7 897.3L743 890.7L743.3 884.2L743.6 877.9L743.9 871.9L744.2 866.2L744.5 860.7L744.8 855.6L745.1 850.8L745.4 846.4L745.8 842.4L746.1 838.8L746.4 835.7L746.7 833L747 830.8L747.3 829L747.6 827.8L747.9 827.1L748.2 826.8L748.5 827.1L748.9 827.8L749.2 829L749.5 830.8L749.8 833L750.1 835.7L750.4 838.8L750.7 842.4L751.1 846.4L751.4 850.8L751.7 855.6L752 860.7L752.3 866.2L752.6 871.9L752.9 877.9L753.2 884.2L753.6 890.7L753.9 897.3L754.2 904.1L754.5 911L754.8 918L755.1 925L755.4 918L755.7 911L756.1 904.1L756.4 897.3L756.7 890.7L757 884.2L757.3 877.9L757.6 871.9L757.9 866.2L758.2 860.7L758.6 855.6L758.9 850.8L759.2 846.4L759.5 842.4L759.8 838.8L760.1 835.7L760.4 833L760.7 830.8L761.1 829L761.4 827.8L761.7 827.1L762 826.8L762.3 827.1L762.6 827.8L762.9 829L763.3 830.8L763.6 833L763.9 835.7L764.2 838.8L764.5 842.4L764.8 846.4L765.1 850.8L765.4 855.6L765.8 860.7L766.1 866.2L766.4 871.9L766.7 877.9L767 884.2L767.3 890.7L767.6 897.3L767.9 904.1L768.3 911L768.6 918L768.9 925L769.2 918L769.5 911L769.8 904.1L770.1 897.3L770.4 890.7L770.8 884.2L771.1 877.9L771.4 871.9L771.7 866.2L772 860.7L772.3 855.6L772.6 850.8L772.9 846.4L773.3 842.4L773.6 838.8L773.9 835.7L774.2 833L774.5 830.8L774.8 829L775.1 827.8L775.5 827.1L775.8 826.8L776.1 827.1L776.4 827.8L776.7 829L777 830.8L777.4 833L777.7 835.7L778 838.8L778.3 842.4L778.6 846.4L778.9 850.8L779.3 855.6L779.6 860.7L779.9 866.2L780.2 871.9L780.5 877.9L780.9 884.2L781.2 890.7L781.5 897.3L781.8 904.1L782.1 911L782.4 918L782.8 925L783.1 918L783.4 911L783.7 904.1L784 897.3L784.4 890.7L784.7 884.2L785 877.9L785.3 871.9L785.6 866.2L785.9 860.7L786.3 855.6L786.6 850.8L786.9 846.4L787.2 842.4L787.5 838.8L787.9 835.7L788.2 833L788.5 830.8L788.8 829L789.1 827.8L789.4 827.1L789.8 826.8L790.1 827.1L790.4 827.8L790.7 829L791 830.8L791.3 833L791.7 835.7L792 838.8L792.3 842.4L792.6 846.4L792.9 850.8L793.2 855.6L793.6 860.7L793.9 866.2L794.2 871.9L794.5 877.9L794.8 884.2L795.2 890.7L795.5 897.3L795.8 904.1L796.1 911L796.4 918L796.7 925L797.1 918L797.4 911L797.7 904.1L798 897.3L798.3 890.7L798.6 884.2L799 877.9L799.3 871.9L799.6 866.2L799.9 860.7L800.2 855.6L800.5 850.8L800.9 846.4L801.2 842.4L801.5 838.8L801.8 835.7L802.1 833L802.4 830.8L802.8 829L803.1 827.8L803.4 827.1L803.7 826.8L804 827.1L804.3 827.8L804.7 829L805 830.8L805.3 833L805.6 835.7L805.9 838.8L806.2 842.4L806.6 846.4L806.9 850.8L807.1 853.6" stroke="#ff0000" stroke-width="3.0" fill="none" stroke-linejoin="round" stroke-linecap="butt"/></g>
<path d="M186.4 959.1V1376.4M204.9 959.1V1376.4M209.9 959.1V1376.4M212.4 959.1V1376.4M221 959.1V1376.4M237.1 959.1V1376.4M253.1 959.1V1376.4M269.2 959.1V1376.4M285.2 959.1V1376.4M301.3 959.1V1376.4M317.4 959.1V1376.4M333.4 959.1V1376.4M349.5 959.1V1376.4M365.5 959.1V1376.4M381.6 959.1V1376.4M397.6 959.1V1376.4M413.7 959.1V1376.4M429.8 959.1V1376.4M445.8 959.1V1376.4M461.9 959.1V1376.4M477.9 959.1V1376.4M494 959.1V1376.4M510.1 959.1V1376.4M526.1 959.1V1376.4M542.2 959.1V1376.4M558.2 959.1V1376.4M574.3 959.1V1376.4M590.4 959.1V1376.4M606.4 959.1V1376.4M622.5 959.1V1376.4M638.5 959.1V1376.4M654.6 959.1V1376.4M670.6 959.1V1376.4M686.7 959.1V1376.4M702.8 959.1V1376.4M228.5 959.1V1376.4M244.6 959.1V1376.4M260.6 959.1V1376.4M276.7 959.1V1376.4M292.8 959.1V1376.4M308.8 959.1V1376.4M324.9 959.1V1376.4M340.9 959.1V1376.4M357 959.1V1376.4M373.1 959.1V1376.4M389.1 959.1V1376.4M405.2 959.1V1376.4M421.2 959.1V1376.4M437.3 959.1V1376.4M453.4 959.1V1376.4M469.4 959.1V1376.4M485.5 959.1V1376.4M501.5 959.1V1376.4M517.6 959.1V1376.4M533.6 959.1V1376.4M549.7 959.1V1376.4M565.8 959.1V1376.4M581.8 959.1V1376.4M597.9 959.1V1376.4M613.9 959.1V1376.4M630 959.1V1376.4M646.1 959.1V1376.4M662.1 959.1V1376.4M678.2 959.1V1376.4M694.2 959.1V1376.4" stroke="#8a874c" stroke-width="1.176" fill="none"/>
<rect x="190.8" y="959.1" width="6.24" height="417.3" fill="#8f8d30"/>
<path d="M191.4 959.1V1376.4M193.5 959.1V1376.4M196.3 959.1V1376.4" stroke="#7c7a1c" stroke-width="1.176" fill="none"/>
<g clip-path="url(#cpc)"><path d="M81.2 1293.9L81.8 1298.9L82.4 1304L82.9 1309.2L83.5 1314.5L84.1 1319.8L84.7 1325.2L85.3 1330.7L85.9 1336.2L86.5 1341.8L87.1 1347.4L87.6 1353L88.2 1358.6L88.8 1364.3L89.4 1362L90 1356.4L90.6 1350.7L91.2 1345.1L91.8 1339.5L92.4 1334L92.9 1328.5L93.5 1323L94.1 1317.7L94.7 1312.3L95.3 1307.1L95.9 1302L96.5 1296.9L97.1 1292L97.6 1287.1L98.2 1282.4L98.8 1277.8L99.4 1273.3L100 1269L100.6 1264.8L101.2 1260.8L101.8 1256.9L102.4 1253.2L102.9 1249.6L103.5 1246.2L104.1 1243L104.7 1240L105.3 1237.1L105.9 1234.5L106.5 1232L107.1 1229.8L107.6 1227.7L108.2 1225.8L108.8 1224.2L109.4 1222.8L110 1221.5L110.6 1220.5L111.2 1219.7L111.8 1219.1L112.4 1218.8L112.9 1218.6L113.5 1218.7L114.1 1219L114.7 1219.5L115.3 1220.2L115.9 1221.1L116.5 1222.2L117.1 1223.6L117.6 1225.2L118.2 1226.9L118.8 1228.9L119.4 1231.1L120 1233.5L120.6 1236.1L121.2 1238.8L121.8 1241.8L122.4 1244.9L122.9 1248.2L123.5 1251.7L124.1 1255.4L124.7 1259.2L125.3 1263.2L125.9 1267.3L126.5 1271.6L127.1 1276L127.6 1280.6L128.2 1285.2L128.8 1290L129.4 1294.9L130 1299.9L130.6 1305L131.2 1310.2L131.8 1315.5L132.4 1320.9L132.9 1326.3L133.5 1331.8L134.1 1337.3L134.7 1342.9L135.3 1348.5L135.9 1354.1L136.5 1359.8L137.1 1365.4L137.6 1360.9L138.2 1355.3L138.8 1349.6L139.4 1344L140 1338.4L140.6 1332.9L141.2 1327.4L141.8 1322L142.4 1316.6L142.9 1311.3L143.5 1306.1L144.1 1301L144.7 1295.9L145.3 1291L145.9 1286.2L146.5 1281.5L147.1 1276.9L147.6 1272.5L148.2 1268.2L148.8 1264L149.4 1260L150 1256.1L150.6 1252.4L151.2 1248.9L151.8 1245.6L152.4 1242.4L152.9 1239.4L153.5 1236.6L154.1 1234L154.7 1231.6L155.3 1229.3L155.9 1227.3L156.5 1225.5L157.1 1223.9L157.6 1222.5L158.2 1221.3L158.8 1220.3L159.4 1219.6L160 1219L160.6 1218.7L161.2 1218.6L161.8 1218.7L162.4 1219L162.9 1219.6L163.5 1220.3L164.1 1221.3L164.7 1222.5L165.3 1223.9L165.9 1225.5L166.5 1227.3L167.1 1229.3L167.6 1231.6L168.2 1234L168.8 1236.6L169.4 1239.4L170 1242.4L170.6 1245.6L171.2 1248.9L171.8 1252.4L172.4 1256.1L172.9 1260L173.5 1264L174.1 1268.2L174.7 1272.5L175.3 1276.9L175.9 1281.5L176.5 1286.2L177.1 1291L177.6 1295.9L178.2 1301L178.8 1306.1L179.4 1311.3L180 1316.6L180.6 1322L181.2 1327.4L181.8 1332.9L182.4 1338.4L182.9 1344L183.5 1349.6L184.1 1355.3L184.7 1360.9L185.3 1365.4L185.9 1359.8L186.5 1354.1L186.5 1354.1L186.9 1343.1L187.3 1332.2L187.7 1321.3L188.1 1310.6L188.5 1300.2L188.9 1290L189.3 1280.2L189.7 1270.7L190.1 1261.6L190.5 1253.1L190.9 1245L191.3 1237.5L191.7 1230.6L192.1 1224.3L192.5 1218.7L192.9 1213.7L193.3 1209.5L193.7 1206.1L194.1 1203.3L194.5 1201.4L194.9 1200.2L195.3 1199.8L195.6 1200.2L195.9 1201.6L196.2 1203.8L196.6 1207L196.9 1210.9L197.2 1215.8L197.5 1221.4L197.8 1227.8L198.2 1235L198.5 1242.9L198.8 1251.5L199.1 1260.8L199.4 1270.6L199.7 1280.9L200.1 1291.8L200.4 1303L200.7 1314.7L201 1326.6L201.3 1338.9L201.7 1351.3L202 1363.8L202.3 1376.4L202.6 1365.4L202.9 1354.5L203.2 1343.6L203.6 1333L203.9 1322.5L204.2 1312.4L204.5 1302.5L204.8 1293.1L205.2 1284.1L205.5 1275.5L205.8 1267.4L206.1 1259.9L206.4 1253L206.7 1246.8L207.1 1241.1L207.4 1236.2L207.7 1232L208 1228.5L208.3 1225.8L208.7 1223.9L209 1222.7L209.3 1222.3L209.6 1222.7L210 1223.9L210.3 1225.8L210.6 1228.5L211 1232L211.3 1236.2L211.6 1241.1L212 1246.8L212.3 1253L212.6 1259.9L213 1267.4L213.3 1275.5L213.7 1284.1L214 1293.1L214.3 1302.5L214.7 1312.4L215 1322.5L215.3 1333L215.7 1343.6L216 1354.5L216.3 1365.4L216.7 1376.4L217 1365.7L217.3 1355L217.7 1344.5L218 1334.1L218.4 1323.9L218.7 1314L219 1304.4L219.4 1295.1L219.7 1286.3L220 1278L220.4 1270.1L220.7 1262.8L221 1256.1L221.4 1250L221.7 1244.5L222 1239.7L222.4 1235.6L222.7 1232.2L223.1 1229.5L223.4 1227.6L223.7 1226.5L224.1 1226.1L224.4 1226.5L224.7 1227.6L225 1229.5L225.3 1232.2L225.7 1235.6L226 1239.7L226.3 1244.5L226.6 1250L227 1256.1L227.3 1262.8L227.6 1270.1L227.9 1278L228.2 1286.3L228.6 1295.1L228.9 1304.4L229.2 1314L229.5 1323.9L229.9 1334.1L230.2 1344.5L230.5 1355L230.8 1365.7L231.1 1376.4L231.5 1364.1L231.8 1352L232.1 1339.9L232.4 1328L232.8 1316.4L233.1 1305L233.4 1294.1L233.7 1283.5L234 1273.4L234.4 1263.9L234.7 1254.9L235 1246.6L235.3 1238.9L235.7 1231.9L236 1225.6L236.3 1220.1L236.6 1215.4L236.9 1211.6L237.3 1208.5L237.6 1206.3L237.9 1205L238.2 1204.6L238.6 1205L238.9 1206.3L239.2 1208.5L239.6 1211.6L239.9 1215.4L240.2 1220.1L240.6 1225.6L240.9 1231.9L241.3 1238.9L241.6 1246.6L241.9 1254.9L242.3 1263.9L242.6 1273.4L242.9 1283.5L243.3 1294.1L243.6 1305L243.9 1316.4L244.3 1328L244.6 1339.9L244.9 1352L245.3 1364.1L245.6 1376.4L246 1361.9L246.3 1347.4L246.6 1333.1L247 1319L247.3 1305.2L247.6 1291.8L248 1278.8L248.3 1266.3L248.6 1254.4L249 1243.1L249.3 1232.4L249.6 1222.5L250 1213.4L250.3 1205.1L250.7 1197.7L251 1191.2L251.3 1185.6L251.7 1181L252 1177.5L252.3 1174.9L252.7 1173.3L253 1172.8L253.3 1173.3L253.7 1174.9L254 1177.5L254.3 1181L254.7 1185.6L255 1191.2L255.3 1197.7L255.7 1205.1L256 1213.4L256.3 1222.5L256.7 1232.4L257 1243.1L257.3 1254.4L257.7 1266.3L258 1278.8L258.3 1291.8L258.7 1305.2L259 1319L259.4 1333.1L259.7 1347.4L260 1361.9L260.4 1376.4L260.7 1359.2L261 1342.1L261.4 1325.2L261.7 1308.5L262 1292.2L262.4 1276.3L262.7 1260.9L263 1246.2L263.4 1232L263.7 1218.6L264 1206.1L264.4 1194.3L264.7 1183.5L265 1173.7L265.4 1165L265.7 1157.3L266 1150.7L266.4 1145.3L266.7 1141L267 1138L267.4 1136.1L267.7 1135.5L268.1 1136.1L268.4 1138L268.7 1141L269.1 1145.3L269.4 1150.7L269.8 1157.3L270.1 1165L270.5 1173.7L270.8 1183.5L271.2 1194.3L271.5 1206.1L271.9 1218.6L272.2 1232L272.6 1246.2L272.9 1260.9L273.3 1276.3L273.6 1292.2L274 1308.5L274.3 1325.2L274.7 1342.1L275 1359.2L275.4 1376.4L275.7 1356.7L276 1337L276.4 1317.6L276.7 1298.4L277.1 1279.7L277.4 1261.5L277.8 1243.8L278.1 1226.8L278.5 1210.6L278.8 1195.2L279.2 1180.7L279.5 1167.3L279.9 1154.9L280.2 1143.6L280.6 1133.5L280.9 1124.7L281.3 1117.1L281.6 1110.9L282 1106L282.3 1102.5L282.7 1100.4L283 1099.7L283.3 1100.4L283.7 1102.5L284 1106L284.4 1110.9L284.7 1117.1L285.1 1124.7L285.4 1133.5L285.8 1143.6L286.1 1154.9L286.5 1167.3L286.8 1180.7L287.2 1195.2L287.5 1210.6L287.8 1226.8L288.2 1243.8L288.5 1261.5L288.9 1279.7L289.2 1298.4L289.6 1317.6L289.9 1337L290.3 1356.7L290.6 1376.4L291 1354.5L291.3 1332.7L291.7 1311.2L292 1290L292.3 1269.2L292.7 1249L293 1229.4L293.4 1210.5L293.7 1192.5L294.1 1175.5L294.4 1159.5L294.8 1144.5L295.1 1130.8L295.5 1118.3L295.8 1107.1L296.2 1097.3L296.5 1088.9L296.9 1082L297.2 1076.6L297.5 1072.7L297.9 1070.4L298.2 1069.6L298.6 1070.4L298.9 1072.7L299.3 1076.6L299.6 1082L300 1088.9L300.3 1097.3L300.7 1107.1L301 1118.3L301.4 1130.8L301.8 1144.5L302.1 1159.5L302.5 1175.5L302.8 1192.5L303.2 1210.5L303.5 1229.4L303.9 1249L304.2 1269.2L304.6 1290L304.9 1311.2L305.3 1332.7L305.6 1354.5L306 1376.4L306.3 1352.9L306.7 1329.6L307 1306.5L307.4 1283.7L307.7 1261.5L308.1 1239.8L308.4 1218.8L308.8 1198.6L309.1 1179.3L309.5 1161L309.8 1143.8L310.2 1127.8L310.5 1113.1L310.9 1099.7L311.2 1087.7L311.6 1077.2L311.9 1068.2L312.3 1060.8L312.7 1055L313 1050.8L313.4 1048.3L313.7 1047.5L314.1 1048.3L314.4 1050.8L314.8 1055L315.1 1060.8L315.5 1068.2L315.8 1077.2L316.2 1087.7L316.5 1099.7L316.9 1113.1L317.2 1127.8L317.6 1143.8L317.9 1161L318.3 1179.3L318.6 1198.6L319 1218.8L319.4 1239.8L319.7 1261.5L320.1 1283.7L320.4 1306.5L320.8 1329.6L321.1 1352.9L321.5 1376.4L321.8 1352.1L322.2 1328L322.5 1304L322.9 1280.5L323.2 1257.4L323.6 1235L323.9 1213.3L324.3 1192.4L324.6 1172.4L325 1153.5L325.4 1135.7L325.7 1119.1L326.1 1103.9L326.4 1090L326.8 1077.6L327.1 1066.8L327.5 1057.5L327.8 1049.8L328.2 1043.8L328.5 1039.5L328.9 1036.9L329.2 1036L329.6 1036.9L329.9 1039.5L330.3 1043.8L330.7 1049.8L331 1057.5L331.4 1066.8L331.7 1077.6L332.1 1090L332.4 1103.9L332.8 1119.1L333.2 1135.7L333.5 1153.5L333.9 1172.4L334.2 1192.4L334.6 1213.3L334.9 1235L335.3 1257.4L335.7 1280.5L336 1304L336.4 1328L336.7 1352.1L337.1 1376.4L337.4 1352L337.8 1327.6L338.2 1303.6L338.5 1279.9L338.9 1256.6L339.2 1234L339.6 1212.2L339.9 1191.1L340.3 1171L340.7 1152L341 1134.1L341.4 1117.4L341.7 1102.1L342.1 1088.1L342.4 1075.6L342.8 1064.7L343.2 1055.3L343.5 1047.6L343.9 1041.5L344.2 1037.2L344.6 1034.6L344.9 1033.7L345.3 1034.6L345.6 1037.2L346 1041.5L346.4 1047.6L346.7 1055.3L347.1 1064.7L347.4 1075.6L347.8 1088.1L348.1 1102.1L348.5 1117.4L348.8 1134.1L349.2 1152L349.5 1171L349.9 1191.1L350.2 1212.2L350.6 1234L350.9 1256.6L351.3 1279.9L351.6 1303.6L352 1327.6L352.4 1352L352.7 1376.4L353.1 1352.5L353.4 1328.7L353.8 1305.1L354.1 1281.9L354.5 1259.2L354.8 1237L355.2 1215.6L355.5 1195L355.9 1175.3L356.2 1156.7L356.6 1139.2L356.9 1122.8L357.3 1107.8L357.6 1094.2L358 1081.9L358.4 1071.2L358.7 1062.1L359.1 1054.5L359.4 1048.6L359.8 1044.3L360.1 1041.8L360.5 1040.9L360.8 1041.8L361.2 1044.3L361.5 1048.6L361.9 1054.5L362.2 1062.1L362.6 1071.2L362.9 1081.9L363.3 1094.2L363.6 1107.8L364 1122.8L364.3 1139.2L364.7 1156.7L365 1175.3L365.4 1195L365.7 1215.6L366.1 1237L366.4 1259.2L366.8 1281.9L367.1 1305.1L367.4 1328.7L367.8 1352.5L368.1 1376.4L368.5 1353.8L368.8 1331.2L369.2 1308.9L369.5 1287L369.9 1265.5L370.2 1244.5L370.6 1224.3L370.9 1204.8L371.3 1186.2L371.6 1168.5L372 1152L372.3 1136.5L372.7 1122.3L373 1109.4L373.4 1097.8L373.7 1087.7L374.1 1079L374.4 1071.9L374.8 1066.3L375.1 1062.2L375.5 1059.8L375.8 1059L376.2 1059.8L376.5 1062.2L376.9 1066.3L377.2 1071.9L377.6 1079L377.9 1087.7L378.3 1097.8L378.6 1109.4L379 1122.3L379.3 1136.5L379.7 1152L380 1168.5L380.4 1186.2L380.7 1204.8L381.1 1224.3L381.4 1244.5L381.8 1265.5L382.2 1287L382.5 1308.9L382.9 1331.2L383.2 1353.8L383.6 1376.4L383.9 1355.7L384.3 1335.1L384.6 1314.6L385 1294.6L385.3 1274.9L385.7 1255.7L386 1237.2L386.4 1219.3L386.7 1202.3L387.1 1186.2L387.4 1171L387.8 1156.9L388.1 1143.8L388.5 1132L388.8 1121.4L389.2 1112.2L389.5 1104.2L389.9 1097.7L390.2 1092.5L390.6 1088.9L390.9 1086.6L391.3 1085.9L391.6 1086.6L392 1088.9L392.3 1092.5L392.7 1097.7L393 1104.2L393.4 1112.2L393.7 1121.4L394.1 1132L394.4 1143.8L394.7 1156.9L395.1 1171L395.4 1186.2L395.8 1202.3L396.1 1219.3L396.5 1237.2L396.8 1255.7L397.2 1274.9L397.5 1294.6L397.8 1314.6L398.2 1335.1L398.5 1355.7L398.9 1376.4L399.2 1358.1L399.6 1340L399.9 1322L400.3 1304.2L400.6 1286.9L401 1270L401.3 1253.7L401.6 1237.9L402 1222.9L402.3 1208.7L402.7 1195.3L403 1182.9L403.4 1171.4L403.7 1161L404.1 1151.6L404.4 1143.4L404.7 1136.4L405.1 1130.7L405.4 1126.2L405.8 1122.9L406.1 1121L406.5 1120.3L406.8 1121L407.2 1122.9L407.5 1126.2L407.9 1130.7L408.2 1136.4L408.5 1143.4L408.9 1151.6L409.2 1161L409.6 1171.4L409.9 1182.9L410.3 1195.3L410.6 1208.7L411 1222.9L411.3 1237.9L411.6 1253.7L412 1270L412.3 1286.9L412.7 1304.2L413 1322L413.4 1340L413.7 1358.1L414.1 1376.4L414.4 1360.7L414.7 1345.2L415.1 1329.8L415.4 1314.6L415.8 1299.7L416.1 1285.3L416.5 1271.3L416.8 1257.8L417.2 1244.9L417.5 1232.7L417.9 1221.3L418.2 1210.6L418.5 1200.8L418.9 1191.8L419.2 1183.8L419.6 1176.8L419.9 1170.8L420.3 1165.9L420.6 1162L421 1159.2L421.3 1157.6L421.6 1157L422 1157.6L422.3 1159.2L422.7 1162L423 1165.9L423.3 1170.8L423.7 1176.8L424 1183.8L424.4 1191.8L424.7 1200.8L425 1210.6L425.4 1221.3L425.7 1232.7L426 1244.9L426.4 1257.8L426.7 1271.3L427.1 1285.3L427.4 1299.7L427.7 1314.6L428.1 1329.8L428.4 1345.2L428.8 1360.7L429.1 1376.4L429.4 1363.2L429.8 1350.1L430.1 1337.1L430.4 1324.3L430.8 1311.7L431.1 1299.5L431.5 1287.7L431.8 1276.4L432.1 1265.5L432.5 1255.3L432.8 1245.6L433.1 1236.6L433.5 1228.3L433.8 1220.8L434.2 1214L434.5 1208.1L434.8 1203.1L435.2 1198.9L435.5 1195.6L435.9 1193.3L436.2 1191.9L436.5 1191.4L436.9 1191.9L437.2 1193.3L437.5 1195.6L437.9 1198.9L438.2 1203.1L438.5 1208.1L438.9 1214L439.2 1220.8L439.5 1228.3L439.9 1236.6L440.2 1245.6L440.5 1255.3L440.9 1265.5L441.2 1276.4L441.5 1287.7L441.9 1299.5L442.2 1311.7L442.5 1324.3L442.9 1337.1L443.2 1350.1L443.5 1363.2L443.9 1376.4L444.2 1365.1L444.5 1354L444.9 1342.9L445.2 1332L445.5 1321.3L445.9 1310.9L446.2 1300.8L446.5 1291.1L446.8 1281.9L447.2 1273.1L447.5 1264.9L447.8 1257.2L448.2 1250.2L448.5 1243.7L448.8 1238L449.2 1233L449.5 1228.6L449.8 1225.1L450.2 1222.3L450.5 1220.3L450.8 1219.1L451.2 1218.7L451.5 1219.1L451.8 1220.3L452.1 1222.3L452.5 1225.1L452.8 1228.6L453.1 1233L453.4 1238L453.8 1243.7L454.1 1250.2L454.4 1257.2L454.7 1264.9L455.1 1273.1L455.4 1281.9L455.7 1291.1L456 1300.8L456.4 1310.9L456.7 1321.3L457 1332L457.3 1342.9L457.6 1354L458 1365.1L458.3 1376.4L458.6 1365.9L458.9 1355.4L459.3 1345L459.6 1334.8L459.9 1324.8L460.2 1315L460.6 1305.6L460.9 1296.5L461.2 1287.9L461.5 1279.7L461.9 1272L462.2 1264.8L462.5 1258.2L462.8 1252.1L463.1 1246.8L463.5 1242L463.8 1238L464.1 1234.7L464.4 1232.1L464.8 1230.2L465.1 1229.1L465.4 1228.7L465.7 1229.1L466 1230.2L466.4 1232.1L466.7 1234.7L467 1238L467.3 1242L467.6 1246.8L468 1252.1L468.3 1258.2L468.6 1264.8L468.9 1272L469.2 1279.7L469.5 1287.9L469.9 1296.5L470.2 1305.6L470.5 1315L470.8 1324.8L471.1 1334.8L471.5 1345L471.8 1355.4L472.1 1365.9L472.4 1376.4L472.7 1364.6L473 1352.8L473.4 1341.2L473.7 1329.8L474 1318.6L474.3 1307.6L474.6 1297.1L475 1286.9L475.3 1277.2L475.6 1268L475.9 1259.4L476.2 1251.3L476.5 1243.9L476.9 1237.2L477.2 1231.1L477.5 1225.9L477.8 1221.3L478.1 1217.6L478.5 1214.7L478.8 1212.6L479.1 1211.3L479.4 1210.9L479.7 1211.3L480.1 1212.6L480.4 1214.7L480.8 1217.6L481.1 1221.3L481.4 1225.9L481.8 1231.1L482.1 1237.2L482.4 1243.9L482.8 1251.3L483.1 1259.4L483.5 1268L483.8 1277.2L484.1 1286.9L484.5 1297.1L484.8 1307.6L485.1 1318.6L485.5 1329.8L485.8 1341.2L486.1 1352.8L486.5 1364.6L486.8 1376.4L487.2 1362.5L487.5 1348.6L487.8 1334.9L488.2 1321.5L488.5 1308.3L488.8 1295.4L489.2 1282.9L489.5 1271L489.9 1259.5L490.2 1248.7L490.5 1238.5L490.9 1229L491.2 1220.3L491.5 1212.4L491.9 1205.3L492.2 1199L492.6 1193.7L492.9 1189.3L493.2 1185.9L493.6 1183.4L493.9 1181.9L494.2 1181.4L494.6 1181.9L494.9 1183.4L495.2 1185.9L495.6 1189.3L495.9 1193.7L496.3 1199L496.6 1205.3L496.9 1212.4L497.3 1220.3L497.6 1229L497.9 1238.5L498.3 1248.7L498.6 1259.5L499 1271L499.3 1282.9L499.6 1295.4L500 1308.3L500.3 1321.5L500.6 1334.9L501 1348.6L501.3 1362.5L501.6 1376.4L502 1359.9L502.3 1343.5L502.7 1327.2L503 1311.2L503.3 1295.5L503.7 1280.3L504 1265.5L504.3 1251.3L504.7 1237.7L505 1224.9L505.4 1212.8L505.7 1201.5L506 1191.2L506.4 1181.7L506.7 1173.3L507 1165.9L507.4 1159.6L507.7 1154.4L508 1150.3L508.4 1147.4L508.7 1145.6L509.1 1145L509.4 1145.6L509.7 1147.4L510.1 1150.3L510.4 1154.4L510.8 1159.6L511.1 1165.9L511.5 1173.3L511.8 1181.7L512.1 1191.2L512.5 1201.5L512.8 1212.8L513.2 1224.9L513.5 1237.7L513.9 1251.3L514.2 1265.5L514.5 1280.3L514.9 1295.5L515.2 1311.2L515.6 1327.2L515.9 1343.5L516.2 1359.9L516.6 1376.4L516.9 1357.3L517.3 1338.3L517.6 1319.5L518 1301L518.3 1282.9L518.6 1265.3L519 1248.2L519.3 1231.8L519.7 1216.1L520 1201.2L520.4 1187.2L520.7 1174.2L521 1162.3L521.4 1151.4L521.7 1141.6L522.1 1133.1L522.4 1125.8L522.7 1119.7L523.1 1115L523.4 1111.6L523.8 1109.6L524.1 1108.9L524.5 1109.6L524.8 1111.6L525.2 1115L525.5 1119.7L525.9 1125.8L526.2 1133.1L526.6 1141.6L526.9 1151.4L527.3 1162.3L527.6 1174.2L528 1187.2L528.3 1201.2L528.7 1216.1L529 1231.8L529.4 1248.2L529.7 1265.3L530 1282.9L530.4 1301L530.7 1319.5L531.1 1338.3L531.4 1357.3L531.8 1376.4L532.1 1355L532.5 1333.8L532.8 1312.7L533.2 1292L533.5 1271.7L533.9 1251.9L534.2 1232.8L534.6 1214.4L534.9 1196.9L535.3 1180.2L535.6 1164.6L536 1150L536.3 1136.6L536.7 1124.4L537 1113.4L537.4 1103.9L537.7 1095.7L538.1 1088.9L538.4 1083.6L538.8 1079.8L539.1 1077.6L539.5 1076.8L539.8 1077.6L540.2 1079.8L540.5 1083.6L540.9 1088.9L541.2 1095.7L541.5 1103.9L541.9 1113.4L542.2 1124.4L542.6 1136.6L542.9 1150L543.3 1164.6L543.6 1180.2L544 1196.9L544.3 1214.4L544.6 1232.8L545 1251.9L545.3 1271.7L545.7 1292L546 1312.7L546.4 1333.8L546.7 1355L547.1 1376.4L547.4 1353.3L547.7 1330.4L548.1 1307.7L548.4 1285.3L548.8 1263.4L549.1 1242.1L549.5 1221.4L549.8 1201.6L550.2 1182.6L550.5 1164.6L550.9 1147.7L551.2 1132L551.5 1117.5L551.9 1104.3L552.2 1092.6L552.6 1082.2L552.9 1073.4L553.3 1066.1L553.6 1060.4L554 1056.3L554.3 1053.8L554.6 1053L555 1053.8L555.4 1056.3L555.7 1060.4L556.1 1066.1L556.4 1073.4L556.8 1082.2L557.1 1092.6L557.5 1104.3L557.8 1117.5L558.2 1132L558.5 1147.7L558.9 1164.6L559.2 1182.6L559.6 1201.6L559.9 1221.4L560.3 1242.1L560.6 1263.4L561 1285.3L561.3 1307.7L561.7 1330.4L562 1353.3L562.4 1376.4L562.7 1352.3L563.1 1328.4L563.4 1304.7L563.8 1281.3L564.1 1258.5L564.5 1236.2L564.8 1214.7L565.2 1193.9L565.5 1174.1L565.9 1155.4L566.2 1137.8L566.6 1121.3L567 1106.2L567.3 1092.5L567.7 1080.2L568 1069.4L568.4 1060.2L568.7 1052.6L569.1 1046.6L569.4 1042.3L569.8 1039.8L570.1 1038.9L570.5 1039.8L570.8 1042.3L571.2 1046.6L571.6 1052.6L571.9 1060.2L572.3 1069.4L572.7 1080.2L573 1092.5L573.4 1106.2L573.8 1121.3L574.1 1137.8L574.5 1155.4L574.9 1174.1L575.2 1193.9L575.6 1214.7L576 1236.2L576.3 1258.5L576.7 1281.3L577.1 1304.7L577.4 1328.4L577.8 1352.3L578.1 1376.4L578.5 1352L578.9 1327.7L579.2 1303.7L579.6 1280L580 1256.8L580.3 1234.2L580.7 1212.4L581.1 1191.4L581.4 1171.3L581.8 1152.3L582.2 1134.4L582.5 1117.8L582.9 1102.5L583.3 1088.5L583.6 1076.1L584 1065.1L584.4 1055.8L584.7 1048.1L585.1 1042L585.4 1037.7L585.8 1035.1L586.2 1034.2L586.5 1035.1L586.9 1037.7L587.2 1042L587.6 1048.1L587.9 1055.8L588.3 1065.1L588.6 1076.1L589 1088.5L589.4 1102.5L589.7 1117.8L590.1 1134.4L590.4 1152.3L590.8 1171.3L591.1 1191.4L591.5 1212.4L591.8 1234.2L592.2 1256.8L592.5 1280L592.9 1303.7L593.2 1327.7L593.6 1352L593.9 1376.4L594.3 1352.3L594.6 1328.4L595 1304.7L595.4 1281.3L595.7 1258.5L596.1 1236.2L596.4 1214.7L596.8 1193.9L597.1 1174.1L597.5 1155.4L597.8 1137.8L598.2 1121.3L598.5 1106.2L598.9 1092.5L599.2 1080.2L599.6 1069.4L599.9 1060.2L600.3 1052.6L600.6 1046.6L601 1042.3L601.4 1039.8L601.7 1038.9L602.1 1039.8L602.4 1042.3L602.8 1046.6L603.1 1052.6L603.5 1060.2L603.8 1069.4L604.1 1080.2L604.5 1092.5L604.8 1106.2L605.2 1121.3L605.5 1137.8L605.9 1155.4L606.2 1174.1L606.6 1193.9L606.9 1214.7L607.3 1236.2L607.6 1258.5L608 1281.3L608.3 1304.7L608.7 1328.4L609 1352.3L609.4 1376.4L609.7 1353.4L610.1 1330.6L610.4 1308L610.8 1285.7L611.1 1263.9L611.5 1242.6L611.8 1222.1L612.2 1202.3L612.5 1183.4L612.9 1165.5L613.2 1148.7L613.6 1133L613.9 1118.6L614.3 1105.5L614.6 1093.8L615 1083.5L615.3 1074.7L615.7 1067.4L616 1061.8L616.4 1057.7L616.7 1055.2L617.1 1054.4L617.4 1055.2L617.7 1057.7L618.1 1061.8L618.4 1067.4L618.8 1074.7L619.1 1083.5L619.5 1093.8L619.8 1105.5L620.2 1118.6L620.5 1133L620.9 1148.7L621.2 1165.5L621.5 1183.4L621.9 1202.3L622.2 1222.1L622.6 1242.6L622.9 1263.9L623.3 1285.7L623.6 1308L624 1330.6L624.3 1353.4L624.6 1376.4L625 1355.2L625.3 1334.2L625.7 1313.3L626 1292.8L626.4 1272.7L626.7 1253.1L627.1 1234.2L627.4 1215.9L627.8 1198.5L628.1 1182L628.4 1166.5L628.8 1152.1L629.1 1138.8L629.5 1126.7L629.8 1115.9L630.2 1106.4L630.5 1098.3L630.9 1091.6L631.2 1086.4L631.5 1082.6L631.9 1080.4L632.2 1079.6L632.6 1080.4L632.9 1082.6L633.3 1086.4L633.6 1091.6L634 1098.3L634.3 1106.4L634.7 1115.9L635 1126.7L635.4 1138.8L635.8 1152.1L636.1 1166.5L636.5 1182L636.8 1198.5L637.2 1215.9L637.5 1234.2L637.9 1253.1L638.2 1272.7L638.6 1292.8L638.9 1313.3L639.3 1334.2L639.6 1355.2L640 1376.4L640.3 1357.6L640.7 1338.9L641 1320.3L641.4 1302.1L641.7 1284.2L642.1 1266.8L642.4 1250L642.8 1233.8L643.1 1218.3L643.5 1203.6L643.8 1189.9L644.2 1177L644.5 1165.2L644.9 1154.5L645.2 1144.9L645.6 1136.4L645.9 1129.2L646.3 1123.3L646.7 1118.6L647 1115.3L647.4 1113.3L647.7 1112.6L648.1 1113.3L648.4 1115.3L648.7 1118.6L649.1 1123.3L649.4 1129.2L649.8 1136.4L650.1 1144.9L650.5 1154.5L650.8 1165.2L651.2 1177L651.5 1189.9L651.9 1203.6L652.2 1218.3L652.6 1233.8L652.9 1250L653.2 1266.8L653.6 1284.2L653.9 1302.1L654.3 1320.3L654.6 1338.9L655 1357.6L655.3 1376.4L655.7 1360.2L656 1344.2L656.4 1328.3L656.7 1312.6L657.1 1297.2L657.4 1282.3L657.7 1267.9L658.1 1253.9L658.4 1240.7L658.8 1228.1L659.1 1216.2L659.5 1205.2L659.8 1195.1L660.2 1185.9L660.5 1177.6L660.9 1170.4L661.2 1164.2L661.6 1159.1L661.9 1155.1L662.2 1152.2L662.6 1150.5L662.9 1149.9L663.3 1150.5L663.6 1152.2L663.9 1155.1L664.3 1159.1L664.6 1164.2L664.9 1170.4L665.3 1177.6L665.6 1185.9L665.9 1195.1L666.3 1205.2L666.6 1216.2L666.9 1228.1L667.3 1240.7L667.6 1253.9L667.9 1267.9L668.3 1282.3L668.6 1297.2L668.9 1312.6L669.3 1328.3L669.6 1344.2L669.9 1360.2L670.3 1376.4L670.6 1362.7L670.9 1349.1L671.3 1335.6L671.6 1322.3L671.9 1309.3L672.3 1296.6L672.6 1284.3L672.9 1272.5L673.3 1261.3L673.6 1250.6L673.9 1240.6L674.3 1231.2L674.6 1222.6L674.9 1214.8L675.3 1207.8L675.6 1201.7L675.9 1196.4L676.3 1192.1L676.6 1188.7L676.9 1186.3L677.3 1184.8L677.6 1184.3L677.9 1184.8L678.3 1186.3L678.6 1188.7L679 1192.1L679.3 1196.4L679.6 1201.7L680 1207.8L680.3 1214.8L680.7 1222.6L681 1231.2L681.4 1240.6L681.7 1250.6L682 1261.3L682.4 1272.5L682.7 1284.3L683.1 1296.6L683.4 1309.3L683.7 1322.3L684.1 1335.6L684.4 1349.1L684.8 1362.7L685.1 1376.4L685.5 1364.8L685.8 1353.2L686.1 1341.7L686.5 1330.4L686.8 1319.4L687.2 1308.6L687.5 1298.2L687.9 1288.2L688.2 1278.6L688.5 1269.5L688.9 1261L689.2 1253.1L689.6 1245.8L689.9 1239.1L690.3 1233.2L690.6 1227.9L690.9 1223.5L691.3 1219.8L691.6 1216.9L692 1214.9L692.3 1213.6L692.6 1213.2L693 1213.6L693.3 1214.9L693.6 1216.9L693.9 1219.8L694.3 1223.5L694.6 1227.9L694.9 1233.2L695.2 1239.1L695.6 1245.8L695.9 1253.1L696.2 1261L696.5 1269.5L696.9 1278.6L697.2 1288.2L697.5 1298.2L697.8 1308.6L698.2 1319.4L698.5 1330.4L698.8 1341.7L699.1 1353.2L699.5 1364.8L699.8 1376.4L700.1 1365.8L700.4 1355.3L700.8 1344.8L701.1 1334.5L701.4 1324.5L701.7 1314.7L702.1 1305.2L702.4 1296.1L702.7 1287.3L703 1279.1L703.4 1271.3L703.7 1264.1L704 1257.4L704.3 1251.4L704.7 1246L705 1241.2L705.3 1237.2L705.6 1233.8L706 1231.2L706.3 1229.3L706.6 1228.2L706.9 1227.8L707.3 1228.2L707.6 1229.3L707.9 1231.2L708.2 1233.8L708.5 1237.2L708.8 1241.2L709.1 1246L709.4 1251.4L709.7 1257.4L710 1264.1L710.4 1271.3L710.7 1279.1L711 1287.3L711.3 1296.1L711.6 1305.2L711.9 1314.7L712.2 1324.5L712.5 1334.5L712.8 1344.8L713.1 1355.3L713.5 1365.8L713.8 1376.4L714.1 1365.8L714.4 1355.3L714.7 1344.8L715 1334.5L715.3 1324.5L715.6 1314.7L715.9 1305.2L716.2 1296.1L716.6 1287.3L716.9 1279.1L717.2 1271.3L717.5 1264.1L717.8 1257.4L718.1 1251.4L718.4 1246L718.7 1241.2L719 1237.2L719.3 1233.8L719.7 1231.2L720 1229.3L720.3 1228.2L720.6 1227.8L720.9 1228.2L721.2 1229.3L721.5 1231.2L721.8 1233.8L722.1 1237.2L722.4 1241.2L722.7 1246L723 1251.4L723.3 1257.4L723.6 1264.1L724 1271.3L724.3 1279.1L724.6 1287.3L724.9 1296.1L725.2 1305.2L725.5 1314.7L725.8 1324.5L726.1 1334.5L726.4 1344.8L726.7 1355.3L727 1365.8L727.3 1376.4L727.6 1365.8L727.9 1355.3L728.2 1344.8L728.5 1334.5L728.9 1324.5L729.2 1314.7L729.5 1305.2L729.8 1296.1L730.1 1287.3L730.4 1279.1L730.7 1271.3L731 1264.1L731.3 1257.4L731.6 1251.4L731.9 1246L732.2 1241.2L732.5 1237.2L732.8 1233.8L733.1 1231.2L733.4 1229.3L733.8 1228.2L734.1 1227.8L734.4 1228.2L734.7 1229.3L735 1231.2L735.3 1233.8L735.6 1237.2L735.9 1241.2L736.2 1246L736.6 1251.4L736.9 1257.4L737.2 1264.1L737.5 1271.3L737.8 1279.1L738.1 1287.3L738.4 1296.1L738.8 1305.2L739.1 1314.7L739.4 1324.5L739.7 1334.5L740 1344.8L740.3 1355.3L740.6 1365.8L740.9 1376.4L741.3 1365.8L741.6 1355.3L741.9 1344.8L742.2 1334.5L742.5 1324.5L742.8 1314.7L743.1 1305.2L743.4 1296.1L743.8 1287.3L744.1 1279.1L744.4 1271.3L744.7 1264.1L745 1257.4L745.3 1251.4L745.6 1246L745.9 1241.2L746.3 1237.2L746.6 1233.8L746.9 1231.2L747.2 1229.3L747.5 1228.2L747.8 1227.8L748.1 1228.2L748.4 1229.3L748.7 1231.2L749 1233.8L749.3 1237.2L749.6 1241.2L749.9 1246L750.2 1251.4L750.5 1257.4L750.8 1264.1L751.1 1271.3L751.4 1279.1L751.8 1287.3L752.1 1296.1L752.4 1305.2L752.7 1314.7L753 1324.5L753.3 1334.5L753.6 1344.8L753.9 1355.3L754.2 1365.8L754.5 1376.4L754.8 1365.8L755.1 1355.3L755.4 1344.8L755.7 1334.5L756 1324.5L756.3 1314.7L756.6 1305.2L756.9 1296.1L757.2 1287.3L757.5 1279.1L757.8 1271.3L758.1 1264.1L758.4 1257.4L758.7 1251.4L759 1246L759.3 1241.2L759.6 1237.2L759.9 1233.8L760.2 1231.2L760.5 1229.3L760.8 1228.2L761.1 1227.8L761.4 1228.2L761.7 1229.3L762 1231.2L762.4 1233.8L762.7 1237.2L763 1241.2L763.3 1246L763.6 1251.4L763.9 1257.4L764.2 1264.1L764.5 1271.3L764.8 1279.1L765.1 1287.3L765.4 1296.1L765.8 1305.2L766.1 1314.7L766.4 1324.5L766.7 1334.5L767 1344.8L767.3 1355.3L767.6 1365.8L767.9 1376.4L768.2 1365.8L768.5 1355.3L768.8 1344.8L769.1 1334.5L769.5 1324.5L769.8 1314.7L770.1 1305.2L770.4 1296.1L770.7 1287.3L771 1279.1L771.3 1271.3L771.6 1264.1L771.9 1257.4L772.2 1251.4L772.5 1246L772.9 1241.2L773.2 1237.2L773.5 1233.8L773.8 1231.2L774.1 1229.3L774.4 1228.2L774.7 1227.8L775 1228.2L775.3 1229.3L775.6 1231.2L775.9 1233.8L776.3 1237.2L776.6 1241.2L776.9 1246L777.2 1251.4L777.5 1257.4L777.8 1264.1L778.1 1271.3L778.4 1279.1L778.7 1287.3L779 1296.1L779.4 1305.2L779.7 1314.7L780 1324.5L780.3 1334.5L780.6 1344.8L780.9 1355.3L781.2 1365.8L781.5 1376.4L781.8 1365.8L782.1 1355.3L782.5 1344.8L782.8 1334.5L783.1 1324.5L783.4 1314.7L783.7 1305.2L784 1296.1L784.3 1287.3L784.6 1279.1L784.9 1271.3L785.3 1264.1L785.6 1257.4L785.9 1251.4L786.2 1246L786.5 1241.2L786.8 1237.2L787.1 1233.8L787.4 1231.2L787.7 1229.3L788 1228.2L788.4 1227.8L788.7 1228.2L789 1229.3L789.3 1231.2L789.6 1233.8L789.9 1237.2L790.2 1241.2L790.5 1246L790.8 1251.4L791.1 1257.4L791.4 1264.1L791.7 1271.3L792 1279.1L792.3 1287.3L792.6 1296.1L792.9 1305.2L793.2 1314.7L793.5 1324.5L793.8 1334.5L794.1 1344.8L794.4 1355.3L794.8 1365.8L795.1 1376.4L795.4 1365.8L795.7 1355.3L796 1344.8L796.3 1334.5L796.6 1324.5L796.9 1314.7L797.2 1305.2L797.5 1296.1L797.8 1287.3L798.1 1279.1L798.4 1271.3L798.7 1264.1L799 1257.4L799.3 1251.4L799.6 1246L799.9 1241.2L800.2 1237.2L800.5 1233.8L800.9 1231.2L801.2 1229.3L801.5 1228.2L801.8 1227.8L802.1 1228.2L802.4 1229.3L802.7 1231.2L803 1233.8L803.3 1237.2L803.6 1241.2L803.9 1246L804.2 1251.4L804.5 1257.4L804.8 1264.1L805.1 1271.3L805.5 1279.1L805.8 1287.3L806.1 1296.1L806.4 1305.2L806.7 1314.7L807 1324.5L807.1 1326.7" stroke="#0000ff" stroke-width="4.4" fill="none" stroke-linejoin="round" stroke-linecap="butt"/></g>
<g clip-path="url(#cpc)"><path d="M81.2 1243.1L81.8 1246.2L82.4 1249.6L82.9 1253.1L83.5 1256.8L84.1 1260.7L84.7 1264.7L85.3 1268.8L85.9 1273.1L86.5 1277.6L87.1 1282.1L87.6 1286.8L88.2 1291.6L88.8 1296.5L89.4 1301.5L90 1306.7L90.6 1311.9L91.2 1317.1L91.8 1322.5L92.4 1327.9L92.9 1333.4L93.5 1338.9L94.1 1344.5L94.7 1350.1L95.3 1355.7L95.9 1361.3L96.5 1365.8L97.1 1360.2L97.6 1354.6L98.2 1348.9L98.8 1343.4L99.4 1337.8L100 1332.3L100.6 1326.8L101.2 1321.4L101.8 1316.1L102.4 1310.8L102.9 1305.6L103.5 1300.5L104.1 1295.5L104.7 1290.6L105.3 1285.9L105.9 1281.2L106.5 1276.7L107.1 1272.2L107.6 1268L108.2 1263.9L108.8 1259.9L109.4 1256.1L110 1252.4L110.6 1248.9L111.2 1245.6L111.8 1242.5L112.4 1239.5L112.9 1236.7L113.5 1234.1L114.1 1231.8L114.7 1229.6L115.3 1227.6L115.9 1225.8L116.5 1224.2L117.1 1222.8L117.6 1221.7L118.2 1220.7L118.8 1220L119.4 1219.5L120 1219.2L120.6 1219.1L121.2 1219.2L121.8 1219.6L122.4 1220.1L122.9 1220.9L123.5 1221.9L124.1 1223.1L124.7 1224.5L125.3 1226.1L125.9 1228L126.5 1230L127.1 1232.2L127.6 1234.6L128.2 1237.3L128.8 1240.1L129.4 1243.1L130 1246.2L130.6 1249.6L131.2 1253.1L131.8 1256.8L132.4 1260.7L132.9 1264.7L133.5 1268.8L134.1 1273.1L134.7 1277.6L135.3 1282.1L135.9 1286.8L136.5 1291.6L137.1 1296.5L137.6 1301.5L138.2 1306.7L138.8 1311.9L139.4 1317.1L140 1322.5L140.6 1327.9L141.2 1333.4L141.8 1338.9L142.4 1344.5L142.9 1350.1L143.5 1355.7L144.1 1361.3L144.7 1365.8L145.3 1360.2L145.9 1354.6L146.5 1348.9L147.1 1343.4L147.6 1337.8L148.2 1332.3L148.8 1326.8L149.4 1321.4L150 1316.1L150.6 1310.8L151.2 1305.6L151.8 1300.5L152.4 1295.5L152.9 1290.6L153.5 1285.9L154.1 1281.2L154.7 1276.7L155.3 1272.2L155.9 1268L156.5 1263.9L157.1 1259.9L157.6 1256.1L158.2 1252.4L158.8 1248.9L159.4 1245.6L160 1242.5L160.6 1239.5L161.2 1236.7L161.8 1234.1L162.4 1231.8L162.9 1229.6L163.5 1227.6L164.1 1225.8L164.7 1224.2L165.3 1222.8L165.9 1221.7L166.5 1220.7L167.1 1220L167.6 1219.5L168.2 1219.2L168.8 1219.1L169.4 1219.2L170 1219.6L170.6 1220.1L171.2 1220.9L171.8 1221.9L172.4 1223.1L172.9 1224.5L173.5 1226.1L174.1 1228L174.7 1230L175.3 1232.2L175.9 1234.6L176.5 1237.3L177.1 1240.1L177.6 1243.1L178.2 1246.2L178.8 1249.6L179.4 1253.1L180 1256.8L180.6 1260.7L181.2 1264.7L181.8 1268.8L182.4 1273.1L182.9 1277.6L183.5 1282.1L184.1 1286.8L184.7 1291.6L185.3 1296.5L185.9 1301.5L186.5 1306.7L186.5 1306.7L186.9 1299.7L187.3 1292.8L187.7 1285.9L188.1 1279.2L188.5 1272.6L188.9 1266.1L189.3 1259.9L189.7 1253.9L190.1 1248.2L190.5 1242.8L190.9 1237.7L191.3 1232.9L191.7 1228.6L192.1 1224.6L192.5 1221L192.9 1217.9L193.3 1215.3L193.7 1213.1L194.1 1211.3L194.5 1210.1L194.9 1209.3L195.3 1209.1L195.6 1209.5L195.9 1210.8L196.2 1212.9L196.6 1215.9L196.9 1219.6L197.2 1224.2L197.5 1229.6L197.8 1235.7L198.2 1242.5L198.5 1250L198.8 1258.1L199.1 1266.8L199.4 1276.1L199.7 1286L200.1 1296.2L200.4 1306.9L200.7 1317.9L201 1329.3L201.3 1340.8L201.7 1352.6L202 1364.5L202.3 1376.4L202.6 1365.8L202.9 1355.3L203.2 1344.8L203.6 1334.6L203.9 1324.5L204.2 1314.7L204.5 1305.2L204.8 1296.1L205.2 1287.4L205.5 1279.2L205.8 1271.4L206.1 1264.2L206.4 1257.5L206.7 1251.5L207.1 1246.1L207.4 1241.3L207.7 1237.3L208 1233.9L208.3 1231.3L208.7 1229.4L209 1228.3L209.3 1227.9L209.6 1228.3L210 1229.4L210.3 1231.3L210.6 1233.9L211 1237.3L211.3 1241.3L211.6 1246.1L212 1251.5L212.3 1257.5L212.6 1264.2L213 1271.4L213.3 1279.2L213.7 1287.4L214 1296.1L214.3 1305.2L214.7 1314.7L215 1324.5L215.3 1334.6L215.7 1344.8L216 1355.3L216.3 1365.8L216.7 1376.4L217 1365.6L217.3 1354.9L217.7 1344.3L218 1333.9L218.4 1323.6L218.7 1313.7L219 1304L219.4 1294.8L219.7 1285.9L220 1277.5L220.4 1269.6L220.7 1262.3L221 1255.5L221.4 1249.4L221.7 1243.9L222 1239L222.4 1234.9L222.7 1231.5L223.1 1228.9L223.4 1226.9L223.7 1225.8L224.1 1225.4L224.4 1225.8L224.7 1226.9L225 1228.9L225.3 1231.5L225.7 1234.9L226 1239L226.3 1243.9L226.6 1249.4L227 1255.5L227.3 1262.3L227.6 1269.6L227.9 1277.5L228.2 1285.9L228.6 1294.8L228.9 1304L229.2 1313.7L229.5 1323.6L229.9 1333.9L230.2 1344.3L230.5 1354.9L230.8 1365.6L231.1 1376.4L231.5 1364.1L231.8 1351.9L232.1 1339.7L232.4 1327.8L232.8 1316.1L233.1 1304.7L233.4 1293.7L233.7 1283.1L234 1273L234.4 1263.4L234.7 1254.4L235 1246L235.3 1238.3L235.7 1231.3L236 1225L236.3 1219.5L236.6 1214.8L236.9 1210.9L237.3 1207.8L237.6 1205.7L237.9 1204.3L238.2 1203.9L238.6 1204.3L238.9 1205.7L239.2 1207.8L239.6 1210.9L239.9 1214.8L240.2 1219.5L240.6 1225L240.9 1231.3L241.3 1238.3L241.6 1246L241.9 1254.4L242.3 1263.4L242.6 1273L242.9 1283.1L243.3 1293.7L243.6 1304.7L243.9 1316.1L244.3 1327.8L244.6 1339.7L244.9 1351.9L245.3 1364.1L245.6 1376.4L246 1361.8L246.3 1347.3L246.6 1333L247 1318.8L247.3 1305L247.6 1291.5L248 1278.5L248.3 1265.9L248.6 1254L249 1242.6L249.3 1231.9L249.6 1222L250 1212.8L250.3 1204.5L250.7 1197.1L251 1190.6L251.3 1185L251.7 1180.4L252 1176.8L252.3 1174.2L252.7 1172.6L253 1172.1L253.3 1172.6L253.7 1174.2L254 1176.8L254.3 1180.4L254.7 1185L255 1190.6L255.3 1197.1L255.7 1204.5L256 1212.8L256.3 1222L256.7 1231.9L257 1242.6L257.3 1254L257.7 1265.9L258 1278.5L258.3 1291.5L258.7 1305L259 1318.8L259.4 1333L259.7 1347.3L260 1361.8L260.4 1376.4L260.7 1359.2L261 1342L261.4 1325L261.7 1308.3L262 1292L262.4 1276L262.7 1260.6L263 1245.8L263.4 1231.6L263.7 1218.2L264 1205.6L264.4 1193.8L264.7 1183L265 1173.2L265.4 1164.4L265.7 1156.6L266 1150L266.4 1144.6L266.7 1140.3L267 1137.3L267.4 1135.4L267.7 1134.8L268.1 1135.4L268.4 1137.3L268.7 1140.3L269.1 1144.6L269.4 1150L269.8 1156.6L270.1 1164.4L270.5 1173.2L270.8 1183L271.2 1193.8L271.5 1205.6L271.9 1218.2L272.2 1231.6L272.6 1245.8L272.9 1260.6L273.3 1276L273.6 1292L274 1308.3L274.3 1325L274.7 1342L275 1359.2L275.4 1376.4L275.7 1356.6L276 1336.9L276.4 1317.4L276.7 1298.2L277.1 1279.5L277.4 1261.2L277.8 1243.5L278.1 1226.4L278.5 1210.2L278.8 1194.7L279.2 1180.2L279.5 1166.8L279.9 1154.3L280.2 1143L280.6 1132.9L280.9 1124.1L281.3 1116.5L281.6 1110.2L282 1105.3L282.3 1101.8L282.7 1099.7L283 1099L283.3 1099.7L283.7 1101.8L284 1105.3L284.4 1110.2L284.7 1116.5L285.1 1124.1L285.4 1132.9L285.8 1143L286.1 1154.3L286.5 1166.8L286.8 1180.2L287.2 1194.7L287.5 1210.2L287.8 1226.4L288.2 1243.5L288.5 1261.2L288.9 1279.5L289.2 1298.2L289.6 1317.4L289.9 1336.9L290.3 1356.6L290.6 1376.4L291 1354.5L291.3 1332.6L291.7 1311L292 1289.8L292.3 1268.9L292.7 1248.7L293 1229L293.4 1210.2L293.7 1192.1L294.1 1175L294.4 1159L294.8 1144L295.1 1130.2L295.5 1117.7L295.8 1106.5L296.2 1096.7L296.5 1088.3L296.9 1081.4L297.2 1075.9L297.5 1072L297.9 1069.7L298.2 1068.9L298.6 1069.7L298.9 1072L299.3 1075.9L299.6 1081.4L300 1088.3L300.3 1096.7L300.7 1106.5L301 1117.7L301.4 1130.2L301.8 1144L302.1 1159L302.5 1175L302.8 1192.1L303.2 1210.2L303.5 1229L303.9 1248.7L304.2 1268.9L304.6 1289.8L304.9 1311L305.3 1332.6L305.6 1354.5L306 1376.4L306.3 1352.9L306.7 1329.5L307 1306.3L307.4 1283.5L307.7 1261.2L308.1 1239.5L308.4 1218.4L308.8 1198.2L309.1 1178.9L309.5 1160.6L309.8 1143.3L310.2 1127.3L310.5 1112.5L310.9 1099.1L311.2 1087.1L311.6 1076.6L311.9 1067.6L312.3 1060.2L312.7 1054.3L313 1050.2L313.4 1047.6L313.7 1046.8L314.1 1047.6L314.4 1050.2L314.8 1054.3L315.1 1060.2L315.5 1067.6L315.8 1076.6L316.2 1087.1L316.5 1099.1L316.9 1112.5L317.2 1127.3L317.6 1143.3L317.9 1160.6L318.3 1178.9L318.6 1198.2L319 1218.4L319.4 1239.5L319.7 1261.2L320.1 1283.5L320.4 1306.3L320.8 1329.5L321.1 1352.9L321.5 1376.4L321.8 1352.1L322.2 1327.9L322.5 1303.9L322.9 1280.3L323.2 1257.2L323.6 1234.7L323.9 1212.9L324.3 1192L324.6 1172L325 1153L325.4 1135.2L325.7 1118.6L326.1 1103.3L326.4 1089.4L326.8 1077L327.1 1066.1L327.5 1056.8L327.8 1049.1L328.2 1043.1L328.5 1038.8L328.9 1036.2L329.2 1035.3L329.6 1036.2L329.9 1038.8L330.3 1043.1L330.7 1049.1L331 1056.8L331.4 1066.1L331.7 1077L332.1 1089.4L332.4 1103.3L332.8 1118.6L333.2 1135.2L333.5 1153L333.9 1172L334.2 1192L334.6 1212.9L334.9 1234.7L335.3 1257.2L335.7 1280.3L336 1303.9L336.4 1327.9L336.7 1352.1L337.1 1376.4L337.4 1352L337.8 1327.7L338.2 1303.7L338.5 1280.1L338.9 1256.9L339.2 1234.4L339.6 1212.5L339.9 1191.6L340.3 1171.5L340.7 1152.5L341 1134.6L341.4 1118L341.7 1102.7L342.1 1088.8L342.4 1076.3L342.8 1065.4L343.2 1056.1L343.5 1048.3L343.9 1042.3L344.2 1038L344.6 1035.4L344.9 1034.5L345.3 1035.4L345.6 1038L346 1042.3L346.4 1048.3L346.7 1056.1L347.1 1065.4L347.4 1076.3L347.8 1088.8L348.1 1102.7L348.5 1118L348.8 1134.6L349.2 1152.5L349.5 1171.5L349.9 1191.6L350.2 1212.5L350.6 1234.4L350.9 1256.9L351.3 1280.1L351.6 1303.7L352 1327.7L352.4 1352L352.7 1376.4L353.1 1352.7L353.4 1329.2L353.8 1305.8L354.1 1282.9L354.5 1260.4L354.8 1238.5L355.2 1217.3L355.5 1197L355.9 1177.5L356.2 1159.1L356.6 1141.7L356.9 1125.6L357.3 1110.7L357.6 1097.2L358 1085.1L358.4 1074.5L358.7 1065.4L359.1 1057.9L359.4 1052.1L359.8 1047.9L360.1 1045.3L360.5 1044.5L360.8 1045.3L361.2 1047.9L361.5 1052.1L361.9 1057.9L362.2 1065.4L362.6 1074.5L362.9 1085.1L363.3 1097.2L363.6 1110.7L364 1125.6L364.3 1141.7L364.7 1159.1L365 1177.5L365.4 1197L365.7 1217.3L366.1 1238.5L366.4 1260.4L366.8 1282.9L367.1 1305.8L367.4 1329.2L367.8 1352.7L368.1 1376.4L368.5 1354.3L368.8 1332.2L369.2 1310.4L369.5 1289L369.9 1267.9L370.2 1247.5L370.6 1227.6L370.9 1208.6L371.3 1190.4L371.6 1173.1L372 1156.9L372.3 1141.8L372.7 1127.9L373 1115.3L373.4 1104L373.7 1094.1L374.1 1085.6L374.4 1078.6L374.8 1073.1L375.1 1069.2L375.5 1066.8L375.8 1066L376.2 1066.8L376.5 1069.2L376.9 1073.1L377.2 1078.6L377.6 1085.6L377.9 1094.1L378.3 1104L378.6 1115.3L379 1127.9L379.3 1141.8L379.7 1156.9L380 1173.1L380.4 1190.4L380.7 1208.6L381.1 1227.6L381.4 1247.5L381.8 1267.9L382.2 1289L382.5 1310.4L382.9 1332.2L383.2 1354.3L383.6 1376.4L383.9 1356.4L384.3 1336.5L384.6 1316.8L385 1297.4L385.3 1278.4L385.7 1260L386 1242.1L386.4 1224.9L386.7 1208.4L387.1 1192.8L387.4 1178.2L387.8 1164.6L388.1 1152L388.5 1140.6L388.8 1130.4L389.2 1121.4L389.5 1113.8L389.9 1107.5L390.2 1102.5L390.6 1099L390.9 1096.8L391.3 1096.1L391.6 1096.8L392 1099L392.3 1102.5L392.7 1107.5L393 1113.8L393.4 1121.4L393.7 1130.4L394.1 1140.6L394.4 1152L394.7 1164.6L395.1 1178.2L395.4 1192.8L395.8 1208.4L396.1 1224.9L396.5 1242.1L396.8 1260L397.2 1278.4L397.5 1297.4L397.8 1316.8L398.2 1336.5L398.5 1356.4L398.9 1376.4L399.2 1359L399.6 1341.6L399.9 1324.4L400.3 1307.5L400.6 1291L401 1274.9L401.3 1259.3L401.6 1244.3L402 1229.9L402.3 1216.4L402.7 1203.6L403 1191.7L403.4 1180.7L403.7 1170.8L404.1 1161.9L404.4 1154.1L404.7 1147.4L405.1 1141.9L405.4 1137.6L405.8 1134.5L406.1 1132.6L406.5 1132L406.8 1132.6L407.2 1134.5L407.5 1137.6L407.9 1141.9L408.2 1147.4L408.5 1154.1L408.9 1161.9L409.2 1170.8L409.6 1180.7L409.9 1191.7L410.3 1203.6L410.6 1216.4L411 1229.9L411.3 1244.3L411.6 1259.3L412 1274.9L412.3 1291L412.7 1307.5L413 1324.4L413.4 1341.6L413.7 1359L414.1 1376.4L414.4 1361.6L414.7 1346.9L415.1 1332.4L415.4 1318L415.8 1304L416.1 1290.3L416.5 1277.1L416.8 1264.4L417.2 1252.2L417.5 1240.7L417.9 1229.9L418.2 1219.8L418.5 1210.5L418.9 1202.1L419.2 1194.5L419.6 1187.9L419.9 1182.3L420.3 1177.6L420.6 1173.9L421 1171.3L421.3 1169.7L421.6 1169.2L422 1169.7L422.3 1171.3L422.7 1173.9L423 1177.6L423.3 1182.3L423.7 1187.9L424 1194.5L424.4 1202.1L424.7 1210.5L425 1219.8L425.4 1229.9L425.7 1240.7L426 1252.2L426.4 1264.4L426.7 1277.1L427.1 1290.3L427.4 1304L427.7 1318L428.1 1332.4L428.4 1346.9L428.8 1361.6L429.1 1376.4L429.4 1363.9L429.8 1351.4L430.1 1339.1L430.4 1326.9L430.8 1315L431.1 1303.5L431.5 1292.2L431.8 1281.5L432.1 1271.2L432.5 1261.4L432.8 1252.2L433.1 1243.7L433.5 1235.8L433.8 1228.7L434.2 1222.3L434.5 1216.7L434.8 1211.9L435.2 1207.9L435.5 1204.8L435.9 1202.6L436.2 1201.2L436.5 1200.8L436.9 1201.2L437.2 1202.6L437.5 1204.8L437.9 1207.9L438.2 1211.9L438.5 1216.7L438.9 1222.3L439.2 1228.7L439.5 1235.8L439.9 1243.7L440.2 1252.2L440.5 1261.4L440.9 1271.2L441.2 1281.5L441.5 1292.2L441.9 1303.5L442.2 1315L442.5 1326.9L442.9 1339.1L443.2 1351.4L443.5 1363.9L443.9 1376.4L444.2 1365.6L444.5 1354.9L444.9 1344.3L445.2 1333.8L445.5 1323.6L445.9 1313.6L446.2 1303.9L446.5 1294.7L446.8 1285.8L447.2 1277.4L447.5 1269.5L447.8 1262.1L448.2 1255.4L448.5 1249.2L448.8 1243.7L449.2 1238.9L449.5 1234.7L449.8 1231.3L450.2 1228.7L450.5 1226.7L450.8 1225.6L451.2 1225.2L451.5 1225.6L451.8 1226.7L452.1 1228.7L452.5 1231.3L452.8 1234.7L453.1 1238.9L453.4 1243.7L453.8 1249.2L454.1 1255.4L454.4 1262.1L454.7 1269.5L455.1 1277.4L455.4 1285.8L455.7 1294.7L456 1303.9L456.4 1313.6L456.7 1323.6L457 1333.8L457.3 1344.3L457.6 1354.9L458 1365.6L458.3 1376.4L458.6 1365.8L458.9 1355.3L459.3 1344.9L459.6 1334.6L459.9 1324.5L460.2 1314.8L460.6 1305.3L460.9 1296.2L461.2 1287.5L461.5 1279.2L461.9 1271.5L462.2 1264.2L462.5 1257.6L462.8 1251.6L463.1 1246.2L463.5 1241.4L463.8 1237.4L464.1 1234L464.4 1231.4L464.8 1229.5L465.1 1228.4L465.4 1228L465.7 1228.4L466 1229.5L466.4 1231.4L466.7 1234L467 1237.4L467.3 1241.4L467.6 1246.2L468 1251.6L468.3 1257.6L468.6 1264.2L468.9 1271.5L469.2 1279.2L469.5 1287.5L469.9 1296.2L470.2 1305.3L470.5 1314.8L470.8 1324.5L471.1 1334.6L471.5 1344.9L471.8 1355.3L472.1 1365.8L472.4 1376.4L472.7 1364.5L473 1352.7L473.4 1341.1L473.7 1329.6L474 1318.3L474.3 1307.4L474.6 1296.7L475 1286.5L475.3 1276.8L475.6 1267.6L475.9 1258.9L476.2 1250.8L476.5 1243.4L476.9 1236.6L477.2 1230.5L477.5 1225.2L477.8 1220.7L478.1 1216.9L478.5 1214L478.8 1211.9L479.1 1210.6L479.4 1210.2L479.7 1210.6L480.1 1211.9L480.4 1214L480.8 1216.9L481.1 1220.7L481.4 1225.2L481.8 1230.5L482.1 1236.6L482.4 1243.4L482.8 1250.8L483.1 1258.9L483.5 1267.6L483.8 1276.8L484.1 1286.5L484.5 1296.7L484.8 1307.4L485.1 1318.3L485.5 1329.6L485.8 1341.1L486.1 1352.7L486.5 1364.5L486.8 1376.4L487.2 1362.4L487.5 1348.5L487.8 1334.8L488.2 1321.3L488.5 1308L488.8 1295.1L489.2 1282.6L489.5 1270.6L489.9 1259.1L490.2 1248.2L490.5 1238L490.9 1228.5L491.2 1219.7L491.5 1211.8L491.9 1204.6L492.2 1198.4L492.6 1193L492.9 1188.6L493.2 1185.2L493.6 1182.7L493.9 1181.2L494.2 1180.7L494.6 1181.2L494.9 1182.7L495.2 1185.2L495.6 1188.6L495.9 1193L496.3 1198.4L496.6 1204.6L496.9 1211.8L497.3 1219.7L497.6 1228.5L497.9 1238L498.3 1248.2L498.6 1259.1L499 1270.6L499.3 1282.6L499.6 1295.1L500 1308L500.3 1321.3L500.6 1334.8L501 1348.5L501.3 1362.4L501.6 1376.4L502 1359.8L502.3 1343.4L502.7 1327.1L503 1311L503.3 1295.3L503.7 1280L504 1265.2L504.3 1250.9L504.7 1237.3L505 1224.4L505.4 1212.3L505.7 1201L506 1190.6L506.4 1181.1L506.7 1172.7L507 1165.3L507.4 1158.9L507.7 1153.7L508 1149.6L508.4 1146.7L508.7 1144.9L509.1 1144.3L509.4 1144.9L509.7 1146.7L510.1 1149.6L510.4 1153.7L510.8 1158.9L511.1 1165.3L511.5 1172.7L511.8 1181.1L512.1 1190.6L512.5 1201L512.8 1212.3L513.2 1224.4L513.5 1237.3L513.9 1250.9L514.2 1265.2L514.5 1280L514.9 1295.3L515.2 1311L515.6 1327.1L515.9 1343.4L516.2 1359.8L516.6 1376.4L516.9 1357.3L517.3 1338.2L517.6 1319.4L518 1300.8L518.3 1282.7L518.6 1265L519 1247.9L519.3 1231.4L519.7 1215.7L520 1200.8L520.4 1186.8L520.7 1173.7L521 1161.7L521.4 1150.8L521.7 1141L522.1 1132.4L522.4 1125.1L522.7 1119.1L523.1 1114.3L523.4 1110.9L523.8 1108.9L524.1 1108.2L524.5 1108.9L524.8 1110.9L525.2 1114.3L525.5 1119.1L525.9 1125.1L526.2 1132.4L526.6 1141L526.9 1150.8L527.3 1161.7L527.6 1173.7L528 1186.8L528.3 1200.8L528.7 1215.7L529 1231.4L529.4 1247.9L529.7 1265L530 1282.7L530.4 1300.8L530.7 1319.4L531.1 1338.2L531.4 1357.3L531.8 1376.4L532.1 1355L532.5 1333.7L532.8 1312.6L533.2 1291.8L533.5 1271.5L533.9 1251.7L534.2 1232.5L534.6 1214L534.9 1196.4L535.3 1179.7L535.6 1164.1L536 1149.4L536.3 1136L536.7 1123.8L537 1112.8L537.4 1103.2L537.7 1095L538.1 1088.3L538.4 1083L538.8 1079.2L539.1 1076.9L539.5 1076.1L539.8 1076.9L540.2 1079.2L540.5 1083L540.9 1088.3L541.2 1095L541.5 1103.2L541.9 1112.8L542.2 1123.8L542.6 1136L542.9 1149.4L543.3 1164.1L543.6 1179.7L544 1196.4L544.3 1214L544.6 1232.5L545 1251.7L545.3 1271.5L545.7 1291.8L546 1312.6L546.4 1333.7L546.7 1355L547.1 1376.4L547.4 1353.3L547.7 1330.3L548.1 1307.5L548.4 1285.1L548.8 1263.1L549.1 1241.8L549.5 1221.1L549.8 1201.2L550.2 1182.2L550.5 1164.2L550.9 1147.2L551.2 1131.5L551.5 1116.9L551.9 1103.7L552.2 1091.9L552.6 1081.6L552.9 1072.7L553.3 1065.4L553.6 1059.7L554 1055.6L554.3 1053.1L554.6 1052.3L555 1053.1L555.4 1055.6L555.7 1059.7L556.1 1065.4L556.4 1072.7L556.8 1081.6L557.1 1091.9L557.5 1103.7L557.8 1116.9L558.2 1131.5L558.5 1147.2L558.9 1164.2L559.2 1182.2L559.6 1201.2L559.9 1221.1L560.3 1241.8L560.6 1263.1L561 1285.1L561.3 1307.5L561.7 1330.3L562 1353.3L562.4 1376.4L562.7 1352.3L563.1 1328.3L563.4 1304.5L563.8 1281.1L564.1 1258.2L564.5 1235.9L564.8 1214.3L565.2 1193.6L565.5 1173.7L565.9 1154.9L566.2 1137.3L566.6 1120.8L567 1105.7L567.3 1091.9L567.7 1079.6L568 1068.8L568.4 1059.5L568.7 1051.9L569.1 1045.9L569.4 1041.6L569.8 1039.1L570.1 1038.2L570.5 1039.1L570.8 1041.6L571.2 1045.9L571.6 1051.9L571.9 1059.5L572.3 1068.8L572.7 1079.6L573 1091.9L573.4 1105.7L573.8 1120.8L574.1 1137.3L574.5 1154.9L574.9 1173.7L575.2 1193.6L575.6 1214.3L576 1235.9L576.3 1258.2L576.7 1281.1L577.1 1304.5L577.4 1328.3L577.8 1352.3L578.1 1376.4L578.5 1352L578.9 1327.7L579.2 1303.7L579.6 1280.1L580 1256.9L580.3 1234.4L580.7 1212.5L581.1 1191.6L581.4 1171.5L581.8 1152.5L582.2 1134.6L582.5 1118L582.9 1102.7L583.3 1088.8L583.6 1076.3L584 1065.4L584.4 1056.1L584.7 1048.3L585.1 1042.3L585.4 1038L585.8 1035.4L586.2 1034.5L586.5 1035.4L586.9 1038L587.2 1042.3L587.6 1048.3L587.9 1056.1L588.3 1065.4L588.6 1076.3L589 1088.8L589.4 1102.7L589.7 1118L590.1 1134.6L590.4 1152.5L590.8 1171.5L591.1 1191.6L591.5 1212.5L591.8 1234.4L592.2 1256.9L592.5 1280.1L592.9 1303.7L593.2 1327.7L593.6 1352L593.9 1376.4L594.3 1352.5L594.6 1328.8L595 1305.2L595.4 1282.1L595.7 1259.4L596.1 1237.3L596.4 1215.9L596.8 1195.4L597.1 1175.8L597.5 1157.2L597.8 1139.7L598.2 1123.4L598.5 1108.4L598.9 1094.7L599.2 1082.6L599.6 1071.9L599.9 1062.7L600.3 1055.2L600.6 1049.3L601 1045L601.4 1042.5L601.7 1041.6L602.1 1042.5L602.4 1045L602.8 1049.3L603.1 1055.2L603.5 1062.7L603.8 1071.9L604.1 1082.6L604.5 1094.7L604.8 1108.4L605.2 1123.4L605.5 1139.7L605.9 1157.2L606.2 1175.8L606.6 1195.4L606.9 1215.9L607.3 1237.3L607.6 1259.4L608 1282.1L608.3 1305.2L608.7 1328.8L609 1352.5L609.4 1376.4L609.7 1353.6L610.1 1331L610.4 1308.6L610.8 1286.5L611.1 1264.9L611.5 1243.9L611.8 1223.5L612.2 1203.9L612.5 1185.2L612.9 1167.5L613.2 1150.8L613.6 1135.3L613.9 1121L614.3 1108L614.6 1096.4L615 1086.2L615.3 1077.5L615.7 1070.3L616 1064.7L616.4 1060.6L616.7 1058.2L617.1 1057.4L617.4 1058.2L617.7 1060.6L618.1 1064.7L618.4 1070.3L618.8 1077.5L619.1 1086.2L619.5 1096.4L619.8 1108L620.2 1121L620.5 1135.3L620.9 1150.8L621.2 1167.5L621.5 1185.2L621.9 1203.9L622.2 1223.5L622.6 1243.9L622.9 1264.9L623.3 1286.5L623.6 1308.6L624 1331L624.3 1353.6L624.6 1376.4L625 1355.8L625.3 1335.3L625.7 1315L626 1295L626.4 1275.4L626.7 1256.4L627.1 1237.9L627.4 1220.2L627.8 1203.3L628.1 1187.2L628.4 1172.1L628.8 1158.1L629.1 1145.1L629.5 1133.4L629.8 1122.8L630.2 1113.6L630.5 1105.7L630.9 1099.2L631.2 1094.1L631.5 1090.4L631.9 1088.2L632.2 1087.5L632.6 1088.2L632.9 1090.4L633.3 1094.1L633.6 1099.2L634 1105.7L634.3 1113.6L634.7 1122.8L635 1133.4L635.4 1145.1L635.8 1158.1L636.1 1172.1L636.5 1187.2L636.8 1203.3L637.2 1220.2L637.5 1237.9L637.9 1256.4L638.2 1275.4L638.6 1295L638.9 1315L639.3 1335.3L639.6 1355.8L640 1376.4L640.3 1358.2L640.7 1340.2L641 1322.3L641.4 1304.7L641.7 1287.5L642.1 1270.7L642.4 1254.4L642.8 1238.8L643.1 1223.9L643.5 1209.7L643.8 1196.4L644.2 1184.1L644.5 1172.7L644.9 1162.3L645.2 1153L645.6 1144.9L645.9 1137.9L646.3 1132.2L646.7 1127.7L647 1124.5L647.4 1122.5L647.7 1121.9L648.1 1122.5L648.4 1124.5L648.7 1127.7L649.1 1132.2L649.4 1137.9L649.8 1144.9L650.1 1153L650.5 1162.3L650.8 1172.7L651.2 1184.1L651.5 1196.4L651.9 1209.7L652.2 1223.9L652.6 1238.8L652.9 1254.4L653.2 1270.7L653.6 1287.5L653.9 1304.7L654.3 1322.3L654.6 1340.2L655 1358.2L655.3 1376.4L655.7 1361L656 1345.7L656.4 1330.5L656.7 1315.6L657.1 1301L657.4 1286.8L657.7 1273L658.1 1259.7L658.4 1247.1L658.8 1235.1L659.1 1223.8L659.5 1213.3L659.8 1203.6L660.2 1194.9L660.5 1187L660.9 1180.1L661.2 1174.2L661.6 1169.3L661.9 1165.5L662.2 1162.8L662.6 1161.1L662.9 1160.6L663.3 1161.1L663.6 1162.8L663.9 1165.5L664.3 1169.3L664.6 1174.2L664.9 1180.1L665.3 1187L665.6 1194.9L665.9 1203.6L666.3 1213.3L666.6 1223.8L666.9 1235.1L667.3 1247.1L667.6 1259.7L667.9 1273L668.3 1286.8L668.6 1301L668.9 1315.6L669.3 1330.5L669.6 1345.7L669.9 1361L670.3 1376.4L670.6 1363.5L670.9 1350.6L671.3 1337.9L671.6 1325.3L671.9 1313L672.3 1301.1L672.6 1289.5L672.9 1278.4L673.3 1267.8L673.6 1257.7L673.9 1248.2L674.3 1239.4L674.6 1231.3L674.9 1223.9L675.3 1217.3L675.6 1211.5L675.9 1206.5L676.3 1202.4L676.6 1199.2L676.9 1196.9L677.3 1195.6L677.6 1195.1L677.9 1195.6L678.3 1196.9L678.6 1199.2L679 1202.4L679.3 1206.5L679.6 1211.5L680 1217.3L680.3 1223.9L680.7 1231.3L681 1239.4L681.4 1248.2L681.7 1257.7L682 1267.8L682.4 1278.4L682.7 1289.5L683.1 1301.1L683.4 1313L683.7 1325.3L684.1 1337.9L684.4 1350.6L684.8 1363.5L685.1 1376.4L685.5 1365.2L685.8 1354L686.1 1343L686.5 1332.1L686.8 1321.4L687.2 1311.1L687.5 1301L687.9 1291.4L688.2 1282.1L688.5 1273.4L688.9 1265.2L689.2 1257.5L689.6 1250.5L689.9 1244.1L690.3 1238.3L690.6 1233.3L690.9 1229L691.3 1225.5L691.6 1222.7L692 1220.7L692.3 1219.5L692.6 1219.1L693 1219.5L693.3 1220.7L693.6 1222.7L693.9 1225.5L694.3 1229L694.6 1233.3L694.9 1238.3L695.2 1244.1L695.6 1250.5L695.9 1257.5L696.2 1265.2L696.5 1273.4L696.9 1282.1L697.2 1291.4L697.5 1301L697.8 1311.1L698.2 1321.4L698.5 1332.1L698.8 1343L699.1 1354L699.5 1365.2L699.8 1376.4L700.1 1365.7L700.4 1355.2L700.8 1344.7L701.1 1334.3L701.4 1324.2L701.7 1314.4L702.1 1304.8L702.4 1295.7L702.7 1286.9L703 1278.6L703.4 1270.8L703.7 1263.6L704 1256.9L704.3 1250.8L704.7 1245.4L705 1240.6L705.3 1236.5L705.6 1233.1L706 1230.5L706.3 1228.6L706.6 1227.5L706.9 1227.1L707.3 1227.5L707.6 1228.6L707.9 1230.5L708.2 1233.1L708.5 1236.5L708.8 1240.6L709.1 1245.4L709.4 1250.8L709.7 1256.9L710 1263.6L710.4 1270.8L710.7 1278.6L711 1286.9L711.3 1295.7L711.6 1304.8L711.9 1314.4L712.2 1324.2L712.5 1334.3L712.8 1344.7L713.1 1355.2L713.5 1365.7L713.8 1376.4L714.1 1365.7L714.4 1355.2L714.7 1344.7L715 1334.3L715.3 1324.2L715.6 1314.4L715.9 1304.8L716.2 1295.7L716.6 1286.9L716.9 1278.6L717.2 1270.8L717.5 1263.6L717.8 1256.9L718.1 1250.8L718.4 1245.4L718.7 1240.6L719 1236.5L719.3 1233.1L719.7 1230.5L720 1228.6L720.3 1227.5L720.6 1227.1L720.9 1227.5L721.2 1228.6L721.5 1230.5L721.8 1233.1L722.1 1236.5L722.4 1240.6L722.7 1245.4L723 1250.8L723.3 1256.9L723.6 1263.6L724 1270.8L724.3 1278.6L724.6 1286.9L724.9 1295.7L725.2 1304.8L725.5 1314.4L725.8 1324.2L726.1 1334.3L726.4 1344.7L726.7 1355.2L727 1365.7L727.3 1376.4L727.6 1365.7L727.9 1355.2L728.2 1344.7L728.5 1334.3L728.9 1324.2L729.2 1314.4L729.5 1304.8L729.8 1295.7L730.1 1286.9L730.4 1278.6L730.7 1270.8L731 1263.6L731.3 1256.9L731.6 1250.8L731.9 1245.4L732.2 1240.6L732.5 1236.5L732.8 1233.1L733.1 1230.5L733.4 1228.6L733.8 1227.5L734.1 1227.1L734.4 1227.5L734.7 1228.6L735 1230.5L735.3 1233.1L735.6 1236.5L735.9 1240.6L736.2 1245.4L736.6 1250.8L736.9 1256.9L737.2 1263.6L737.5 1270.8L737.8 1278.6L738.1 1286.9L738.4 1295.7L738.8 1304.8L739.1 1314.4L739.4 1324.2L739.7 1334.3L740 1344.7L740.3 1355.2L740.6 1365.7L740.9 1376.4L741.3 1365.7L741.6 1355.2L741.9 1344.7L742.2 1334.3L742.5 1324.2L742.8 1314.4L743.1 1304.8L743.4 1295.7L743.8 1286.9L744.1 1278.6L744.4 1270.8L744.7 1263.6L745 1256.9L745.3 1250.8L745.6 1245.4L745.9 1240.6L746.3 1236.5L746.6 1233.1L746.9 1230.5L747.2 1228.6L747.5 1227.5L747.8 1227.1L748.1 1227.5L748.4 1228.6L748.7 1230.5L749 1233.1L749.3 1236.5L749.6 1240.6L749.9 1245.4L750.2 1250.8L750.5 1256.9L750.8 1263.6L751.1 1270.8L751.4 1278.6L751.8 1286.9L752.1 1295.7L752.4 1304.8L752.7 1314.4L753 1324.2L753.3 1334.3L753.6 1344.7L753.9 1355.2L754.2 1365.7L754.5 1376.4L754.8 1365.7L755.1 1355.2L755.4 1344.7L755.7 1334.3L756 1324.2L756.3 1314.4L756.6 1304.8L756.9 1295.7L757.2 1286.9L757.5 1278.6L757.8 1270.8L758.1 1263.6L758.4 1256.9L758.7 1250.8L759 1245.4L759.3 1240.6L759.6 1236.5L759.9 1233.1L760.2 1230.5L760.5 1228.6L760.8 1227.5L761.1 1227.1L761.4 1227.5L761.7 1228.6L762 1230.5L762.4 1233.1L762.7 1236.5L763 1240.6L763.3 1245.4L763.6 1250.8L763.9 1256.9L764.2 1263.6L764.5 1270.8L764.8 1278.6L765.1 1286.9L765.4 1295.7L765.8 1304.8L766.1 1314.4L766.4 1324.2L766.7 1334.3L767 1344.7L767.3 1355.2L767.6 1365.7L767.9 1376.4L768.2 1365.7L768.5 1355.2L768.8 1344.7L769.1 1334.3L769.5 1324.2L769.8 1314.4L770.1 1304.8L770.4 1295.7L770.7 1286.9L771 1278.6L771.3 1270.8L771.6 1263.6L771.9 1256.9L772.2 1250.8L772.5 1245.4L772.9 1240.6L773.2 1236.5L773.5 1233.1L773.8 1230.5L774.1 1228.6L774.4 1227.5L774.7 1227.1L775 1227.5L775.3 1228.6L775.6 1230.5L775.9 1233.1L776.3 1236.5L776.6 1240.6L776.9 1245.4L777.2 1250.8L777.5 1256.9L777.8 1263.6L778.1 1270.8L778.4 1278.6L778.7 1286.9L779 1295.7L779.4 1304.8L779.7 1314.4L780 1324.2L780.3 1334.3L780.6 1344.7L780.9 1355.2L781.2 1365.7L781.5 1376.4L781.8 1365.7L782.1 1355.2L782.5 1344.7L782.8 1334.3L783.1 1324.2L783.4 1314.4L783.7 1304.8L784 1295.7L784.3 1286.9L784.6 1278.6L784.9 1270.8L785.3 1263.6L785.6 1256.9L785.9 1250.8L786.2 1245.4L786.5 1240.6L786.8 1236.5L787.1 1233.1L787.4 1230.5L787.7 1228.6L788 1227.5L788.4 1227.1L788.7 1227.5L789 1228.6L789.3 1230.5L789.6 1233.1L789.9 1236.5L790.2 1240.6L790.5 1245.4L790.8 1250.8L791.1 1256.9L791.4 1263.6L791.7 1270.8L792 1278.6L792.3 1286.9L792.6 1295.7L792.9 1304.8L793.2 1314.4L793.5 1324.2L793.8 1334.3L794.1 1344.7L794.4 1355.2L794.8 1365.7L795.1 1376.4L795.4 1365.7L795.7 1355.2L796 1344.7L796.3 1334.3L796.6 1324.2L796.9 1314.4L797.2 1304.8L797.5 1295.7L797.8 1286.9L798.1 1278.6L798.4 1270.8L798.7 1263.6L799 1256.9L799.3 1250.8L799.6 1245.4L799.9 1240.6L800.2 1236.5L800.5 1233.1L800.9 1230.5L801.2 1228.6L801.5 1227.5L801.8 1227.1L802.1 1227.5L802.4 1228.6L802.7 1230.5L803 1233.1L803.3 1236.5L803.6 1240.6L803.9 1245.4L804.2 1250.8L804.5 1256.9L804.8 1263.6L805.1 1270.8L805.5 1278.6L805.8 1286.9L806.1 1295.7L806.4 1304.8L806.7 1314.4L807 1324.2L807.1 1326.4" stroke="#ff0000" stroke-width="3.0" fill="none" stroke-linejoin="round" stroke-linecap="butt"/></g>
<path d="M186.4 1405.3V1822.3M204.9 1405.3V1822.3M209.9 1405.3V1822.3M212.4 1405.3V1822.3M221 1405.3V1822.3M237.1 1405.3V1822.3M253.1 1405.3V1822.3M269.2 1405.3V1822.3M285.2 1405.3V1822.3M301.3 1405.3V1822.3M317.4 1405.3V1822.3M333.4 1405.3V1822.3M349.5 1405.3V1822.3M365.5 1405.3V1822.3M381.6 1405.3V1822.3M397.6 1405.3V1822.3M413.7 1405.3V1822.3M429.8 1405.3V1822.3M445.8 1405.3V1822.3M461.9 1405.3V1822.3M477.9 1405.3V1822.3M494 1405.3V1822.3M510.1 1405.3V1822.3M526.1 1405.3V1822.3M542.2 1405.3V1822.3M558.2 1405.3V1822.3M574.3 1405.3V1822.3M590.4 1405.3V1822.3M606.4 1405.3V1822.3M622.5 1405.3V1822.3M638.5 1405.3V1822.3M654.6 1405.3V1822.3M670.6 1405.3V1822.3M686.7 1405.3V1822.3M702.8 1405.3V1822.3M228.5 1405.3V1822.3M244.6 1405.3V1822.3M260.6 1405.3V1822.3M276.7 1405.3V1822.3M292.8 1405.3V1822.3M308.8 1405.3V1822.3M324.9 1405.3V1822.3M340.9 1405.3V1822.3M357 1405.3V1822.3M373.1 1405.3V1822.3M389.1 1405.3V1822.3M405.2 1405.3V1822.3M421.2 1405.3V1822.3M437.3 1405.3V1822.3M453.4 1405.3V1822.3M469.4 1405.3V1822.3M485.5 1405.3V1822.3M501.5 1405.3V1822.3M517.6 1405.3V1822.3M533.6 1405.3V1822.3M549.7 1405.3V1822.3M565.8 1405.3V1822.3M581.8 1405.3V1822.3M597.9 1405.3V1822.3M613.9 1405.3V1822.3M630 1405.3V1822.3M646.1 1405.3V1822.3M662.1 1405.3V1822.3M678.2 1405.3V1822.3M694.2 1405.3V1822.3" stroke="#66661c" stroke-width="1.412" fill="none"/>
<rect x="189.8" y="1405.3" width="6.47" height="417" fill="#7d7d08"/>
<g clip-path="url(#cpd)"><path d="M81.2 1678.2L81.2 1690.2L82.2 1692.4L82.2 1719.4L84.1 1721.7L84.1 1749.9L85.9 1752.3L85.9 1781.3L87.7 1783.8L87.7 1813.3L89.5 1815.8L89.5 1822.1L89.5 1799.2L91.4 1796.7L91.4 1767.4L93.2 1765L93.2 1736.3L95 1734L95 1706.4L96.8 1704.1L96.8 1678L98.6 1675.9L98.6 1651.5L100.5 1649.5L100.5 1627.2L102.3 1625.4L102.3 1605.5L104.1 1603.9L104.1 1586.7L105.9 1585.3L105.9 1570.9L107.8 1569.9L107.8 1558.5L109.6 1557.7L109.6 1549.6L111.4 1549L111.4 1544.2L113.2 1544L113.2 1542.5L113.2 1542.5L115.1 1542.6L115.1 1544.5L116.9 1544.8L116.9 1550.2L118.7 1550.8L118.7 1559.4L120.5 1560.3L120.5 1572.1L122.4 1573.3L122.4 1588.1L124.2 1589.5L124.2 1607.2L126 1608.8L126 1629.1L127.8 1631L127.8 1653.6L129.6 1655.6L129.6 1680.3L131.5 1682.4L131.5 1708.9L133.3 1711.1L133.3 1738.9L135.1 1741.3L135.1 1770.1L136.9 1772.5L136.9 1801.9L138.8 1804.4L138.8 1822.1L138.8 1810.6L140.6 1808.1L140.6 1778.6L142.4 1776.2L142.4 1747.3L144.2 1744.9L144.2 1716.9L146.1 1714.6L146.1 1687.9L147.9 1685.7L147.9 1660.6L149.7 1658.6L149.7 1635.5L151.5 1633.7L151.5 1612.9L153.4 1611.3L153.4 1593L155.2 1591.6L155.2 1576.2L157 1575L157 1562.5L158.8 1561.6L158.8 1552.3L160.6 1551.7L160.6 1545.7L162.5 1545.3L162.5 1542.7L164.3 1542.6L164.3 1542.5L164.3 1543.4L166.1 1543.6L166.1 1547.8L167.9 1548.3L167.9 1555.7L169.8 1556.5L169.8 1567.2L171.6 1568.3L171.6 1582.1L173.4 1583.4L173.4 1600.1L175.2 1601.6L175.2 1621.1L177.1 1622.8L177.1 1644.7L178.9 1646.6L178.9 1670.6L180.7 1672.7L180.7 1698.5L182.5 1700.8L182.5 1728.1L184.4 1730.4L184.4 1758.9L186.2 1761.3L186.2 1788.1" stroke="#0000ff" stroke-width="3.3" fill="none" stroke-linejoin="round" stroke-linecap="butt"/><path d="M186.2 1761.3L186.2 1788.1L187.8 1790.2L187.8 1815.5L189.6 1817.6L189.6 1822.2L189.6 1809L191.5 1807.7L191.5 1793.2L193.3 1792.2L193.3 1781.7L195.1 1781L195.1 1776L196.9 1775.8L196.9 1775.6L196.9 1777.1L198.8 1777.4L198.8 1784.8L200.6 1785.6L200.6 1797.9L202.4 1799.1L202.4 1814.7L204.2 1816.1L204.2 1822.2L204.2 1813.7L206.1 1812.6L206.1 1800L207.9 1799L207.9 1789.5L209.7 1788.9L209.7 1783.8L211.5 1783.6L211.5 1783.1L211.5 1783.8L213.4 1784L213.4 1789L215.2 1789.6L215.2 1798.8L217 1799.7L217 1811.8L218.8 1812.9L218.8 1822.2L218.8 1819L220.6 1818.1L220.6 1807.4L222.5 1806.5L222.5 1797.7L224.3 1797.1L224.3 1791.5L226.1 1791.1L226.1 1789.4L226.1 1789.4L227.9 1789.4L227.9 1792.1L229.8 1792.5L229.8 1799.3L231.6 1800L231.6 1809.9L233.4 1810.8L233.4 1822.2L233.4 1822.2L235.2 1821.4L235.2 1811.6L237.1 1810.8L237.1 1802.6L238.9 1802L238.9 1796.6L240.7 1796.3L240.7 1794.4L242.5 1794.4L242.5 1796.3L244.4 1796.6L244.4 1801.8L246.2 1802.4L246.2 1810.2L248 1811L248 1820.4L249.8 1821.2L249.8 1822.2L249.8 1815.6L251.6 1815L251.6 1808.3L253.5 1807.8L253.5 1803L255.3 1802.7L255.3 1800.4L257.1 1800.3L257.1 1800.2L257.1 1801.3L258.9 1801.6L258.9 1807L260.8 1807.6L260.8 1816.2L262.6 1817L262.6 1822.2L262.6 1818.3L264.4 1817.6L264.4 1810.1L266.2 1809.5L266.2 1804.6L268.1 1804.4L268.1 1803.2L268.1 1803.3L269.9 1803.3L269.9 1805.5L271.7 1805.8L271.7 1810.6L273.5 1811.1L273.5 1817.7L275.4 1818.3L275.4 1822.2L275.4 1818.2L277.2 1817.5L277.2 1809.1L279 1808.5L279 1802.3L280.8 1801.9L280.8 1798.8L282.6 1798.7L282.6 1798.5L282.6 1799.1L284.5 1799.2L284.5 1802.4L286.3 1802.7L286.3 1808.2L288.1 1808.7L288.1 1815.8L289.9 1816.4L289.9 1822.2L289.9 1820.2L291.8 1819.5L291.8 1811L293.6 1810.4L293.6 1803.3L295.4 1802.8L295.4 1797.9L297.2 1797.7L297.2 1795.7L299.1 1795.6L299.1 1795.6L299.1 1796.8L300.9 1797L300.9 1801.3L302.7 1801.8L302.7 1808.6L304.5 1809.2L304.5 1817.7L306.4 1818.4L306.4 1822.2L306.4 1816.1L308.2 1815.2L308.2 1805.1L310 1804.4L310 1796.4L311.8 1795.9L311.8 1791.2L313.6 1790.9L313.6 1789.9L313.6 1790L315.5 1790.1L315.5 1793.1L317.3 1793.5L317.3 1799.9L319.1 1800.5L319.1 1809.6L320.9 1810.4L320.9 1820.9L322.8 1821.8L322.8 1822.2L322.8 1809.9L324.6 1808.9L324.6 1797.5L326.4 1796.6L326.4 1788.2L328.2 1787.6L328.2 1783.3L330.1 1783.1L330.1 1782.7L330.1 1783.4L331.9 1783.7L331.9 1788.7L333.7 1789.3L333.7 1798.4L335.5 1799.3L335.5 1811.2L337.4 1812.3L337.4 1822.2L337.4 1818.6L339.2 1817.3L339.2 1802.2L341 1801L341 1788.5L342.8 1787.6L342.8 1779.2L344.6 1778.7L344.6 1775.6L346.5 1775.6L346.5 1775.6L346.5 1778.2L348.3 1778.6L348.3 1786.6L350.1 1787.5L350.1 1799.7L351.9 1800.9L351.9 1815.9L353.8 1817.2L353.8 1822.2L353.8 1810.1L355.6 1808.6L355.6 1792.1L357.4 1790.9L357.4 1778.1L359.2 1777.3L359.2 1770L361.1 1769.7L361.1 1768.4L361.1 1768.8L362.9 1769L362.9 1774.5L364.7 1775.2L364.7 1786.4L366.5 1787.5L366.5 1802.9L368.4 1804.3L368.4 1821.9L370.2 1821.1L370.2 1800.7L372 1799.1L372 1781.4L373.8 1780.1L373.8 1767.4L375.6 1766.5L375.6 1760.4L377.5 1760.2L377.5 1759.8L377.5 1761.3L379.3 1761.7L379.3 1769.8L381.1 1770.8L381.1 1784.9L382.9 1786.3L382.9 1804.6L384.8 1806.2L384.8 1822.1L384.8 1817.6L386.6 1815.6L386.6 1793.3L388.4 1791.5L388.4 1772.6L390.2 1771.2L390.2 1758L392.1 1757.2L392.1 1751.5L393.9 1751.3L393.9 1751.2L393.9 1753.7L395.7 1754.2L395.7 1764.2L397.5 1765.3L397.5 1781.8L399.4 1783.4L399.4 1804.3L401.2 1806.1L401.2 1822.1L401.2 1814.8L403 1812.7L403 1788.1L404.8 1786.1L404.8 1765.4L406.6 1763.9L406.6 1749.7L408.5 1748.9L408.5 1742.8L410.3 1742.7L410.3 1742.6L410.3 1745.8L412.1 1746.5L412.1 1758.9L413.9 1760.3L413.9 1780.3L415.8 1782.2L415.8 1807.2L417.6 1809.4L417.6 1822.1L417.6 1807L419.4 1804.6L419.4 1777L421.2 1774.9L421.2 1752.9L423.1 1751.4L423.1 1738L424.9 1737.3L424.9 1734L424.9 1734.2L426.7 1734.4L426.7 1741.8L428.5 1742.9L428.5 1759.9L430.4 1761.7L430.4 1786.1L432.2 1788.3L432.2 1816.9L434 1819.4L434 1822.1L434 1793.1L435.8 1790.5L435.8 1761.8L437.6 1759.6L437.6 1738.3L439.5 1736.9L439.5 1725.6L441.3 1725.2L441.3 1724L441.3 1725.5L443.1 1726L443.1 1737.3L444.9 1738.7L444.9 1759.7L446.8 1761.8L446.8 1789.7L448.6 1792.2L448.6 1822.1L448.6 1820.7L450.4 1817.8L450.4 1783.8L452.2 1781.1L452.2 1751.6L454.1 1749.5L454.1 1728.2L455.9 1726.8L455.9 1716.3L457.7 1715.9L457.7 1715.2L457.7 1717.6L459.5 1718.3L459.5 1732.5L461.4 1734.1L461.4 1758.9L463.2 1761.4L463.2 1793.6L465 1796.5L465 1822L465 1811.6L466.8 1808.4L466.8 1771L468.6 1768.1L468.6 1737.1L470.5 1734.9L470.5 1714.2L472.3 1712.9L472.3 1705.3L474.1 1705.2L474.1 1705.2L474.1 1711L475.9 1712L475.9 1730L477.8 1732L477.8 1760L479.6 1762.7L479.6 1797.4L481.4 1800.4L481.4 1822L481.4 1805.4L483.2 1802L483.2 1763.1L485.1 1760.1L485.1 1727.9L486.9 1725.6L486.9 1703.9L488.7 1702.6L488.7 1694L490.5 1693.8L490.5 1693.8L490.5 1699.9L492.4 1701L492.4 1721.7L494.2 1724L494.2 1756.7L496 1759.8L496 1800.3L497.8 1803.8L497.8 1821.9L497.8 1796.4L499.6 1792.6L499.6 1750.4L501.5 1747.1L501.5 1713.8L503.3 1711.5L503.3 1691.4L505.1 1690.3L505.1 1685.7L505.1 1686.1L506.9 1686.4L506.9 1699L508.8 1700.8L508.8 1728.7L510.6 1731.6L510.6 1771L512.4 1774.7L512.4 1820.3L514.2 1820.2L514.2 1771.7L516.1 1767.9L516.1 1725.9L517.9 1722.9L517.9 1693.2L519.7 1691.4L519.7 1678L521.5 1677.6L521.5 1677.2L521.5 1681.7L523.4 1682.7L523.4 1702.2L525.2 1704.4L525.2 1737L527 1740.2L527 1782L528.8 1785.7L528.8 1821.9L528.8 1812L530.6 1807.7L530.6 1758.5L532.5 1754.6L532.5 1712.6L534.3 1709.6L534.3 1679.8L536.1 1677.9L536.1 1663.9L537.9 1663.5L537.9 1662.8L537.9 1667.1L539.8 1668.2L539.8 1689.8L541.6 1692.3L541.6 1729.1L543.4 1732.8L543.4 1780.2L545.2 1784.5L545.2 1821.9L545.2 1807.5L547.1 1802.9L547.1 1750.9L548.9 1746.8L548.9 1703.3L550.7 1700.2L550.7 1670.8L552.5 1669L552.5 1657.2L554.4 1657.1L554.4 1657L554.4 1664.6L556.2 1666L556.2 1691.9L558 1694.8L558 1735.8L559.8 1739.7L559.8 1790.6L561.6 1795.1L561.6 1821.8L561.6 1794L563.5 1789.3L563.5 1736.2L565.3 1732.1L565.3 1689.3L567.1 1686.3L567.1 1659.3L568.9 1657.8L568.9 1649.9L568.9 1650L570.8 1650.2L570.8 1662.4L572.6 1664.2L572.6 1695L574.4 1698.2L574.4 1743.6L576.2 1747.9L576.2 1802.1L578.1 1806.8L578.1 1821.8L578.1 1777L579.9 1771.9L579.9 1715L581.7 1710.7L581.7 1666.5L583.5 1663.5L583.5 1637.7L585.4 1636.4L585.4 1631.2L585.4 1632L587.2 1632.6L587.2 1649.7L589 1652L589 1688.4L590.8 1692.1L590.8 1743.3L592.6 1748.1L592.6 1807.8L594.5 1813L594.5 1821.8L594.5 1768.9L596.3 1763.8L596.3 1707.2L598.1 1702.9L598.1 1659.4L599.9 1656.4L599.9 1631.4L601.8 1630.2L601.8 1625.5L601.8 1626.7L603.6 1627.4L603.6 1647.7L605.4 1650.4L605.4 1692.2L607.2 1696.5L607.2 1754.2L609.1 1759.5L609.1 1821.8L609.1 1819.2L610.9 1813.4L610.9 1746.4L612.7 1741L612.7 1683.8L614.5 1679.6L614.5 1639.8L616.4 1637.4L616.4 1620.4L618.2 1620.1L618.2 1619.8L618.2 1627.6L620 1629.1L620 1658.9L621.8 1662.2L621.8 1710.5L623.6 1715.2L623.6 1776L625.5 1781.4L625.5 1821.7L625.5 1794.9L627.3 1788.9L627.3 1720L629.1 1714.6L629.1 1657.8L630.9 1653.7L630.9 1616L632.8 1613.8L632.8 1599.8L634.6 1599.7L634.6 1599.7L634.6 1611.5L636.4 1613.5L636.4 1649.9L638.2 1653.9L638.2 1710.2L640.1 1715.6L640.1 1784.7L641.9 1790.8L641.9 1821.6L641.9 1779L643.7 1772.8L643.7 1702.2L645.5 1696.8L645.5 1640.6L647.4 1636.7L647.4 1602L649.2 1600.1L649.2 1591.1L649.2 1591.4L651 1591.8L651 1609.1L652.8 1611.6L652.8 1652.6L654.6 1656.9L654.6 1716.5L656.5 1722.1L656.5 1793.2L658.3 1799.4L658.3 1821.7L658.3 1769.9L660.1 1763.6L660.1 1694L661.9 1688.6L661.9 1633.5L663.8 1629.7L663.8 1595.8L665.6 1594L665.6 1585.2L665.6 1585.5L667.4 1585.9L667.4 1604.6L669.2 1607.3L669.2 1651.4L671.1 1656L671.1 1719.8L672.9 1725.8L672.9 1801.2L674.7 1807.8L674.7 1821.7L674.7 1754.3L676.5 1747.5L676.5 1672.3L678.4 1666.6L678.4 1609.3L680.2 1605.5L680.2 1573.3L682 1571.8L682 1566.7L682 1568.9L683.8 1569.9L683.8 1596.6L685.6 1600L685.6 1653L687.5 1658.3L687.5 1730.8L689.3 1737.4L689.3 1820.2L691.1 1816.9L691.1 1727.3L692.9 1720.1L692.9 1642.1L694.8 1636.3L694.8 1579.8L696.6 1576.1L696.6 1548.2L698.4 1547.2L698.4 1545.2L698.4 1552.5L700.2 1554.5L700.2 1596.7L702.1 1601.7L702.1 1674.7L703.9 1681.8L703.9 1774.8L705.7 1783.1L705.7 1821.5L705.7 1762.6L707.5 1754.5L707.5 1664.5L709.4 1657.7L709.4 1590L711.2 1585.6L711.2 1550.3L713 1548.9L713 1545.6L713 1551.6L714.8 1553.5L714.8 1595L716.6 1599.9L716.6 1673.7L718.5 1681L718.5 1775.7L720.3 1784.1L720.3 1821.5L720.3 1759.7L722.1 1751.4L722.1 1660.2L723.9 1653.4L723.9 1586.1L725.8 1581.7L725.8 1548.7L727.6 1547.6L727.6 1545.6L727.6 1554.7L729.4 1557.1L729.4 1605.3L731.2 1610.9L731.2 1692.4L733.1 1700.3L733.1 1801.3L734.9 1810.1L734.9 1821.5L734.9 1730.9L736.7 1722.6L736.7 1633.8L738.5 1627.4L738.5 1568.4L740.4 1565L740.4 1545.6L740.4 1545.6L742.2 1545.8L742.2 1569.5L744 1573.2L744 1636.1L745.8 1642.8L745.8 1734.3L747.6 1742.8L747.6 1821.5L747.6 1797.2L749.5 1788.4L749.5 1688.4L751.3 1680.7L751.3 1602.2L753.1 1596.9L753.1 1553.3L754.9 1551.4L754.9 1545.6L754.9 1549.9L756.8 1551.6L756.8 1592.3L758.6 1597.4L758.6 1673.4L760.4 1680.9L760.4 1779.4L762.2 1788.1L762.2 1821.4L762.2 1752L764.1 1743.5L764.1 1650.6L765.9 1643.7L765.9 1578L767.7 1573.9L767.7 1546.4L769.5 1545.9L769.5 1545.6L769.5 1560.2L771.4 1563L771.4 1615.2L773.2 1620.9L773.2 1702.7L775 1710.5L775 1809.1L776.8 1817.7L776.8 1821.6L776.8 1727L778.6 1719.1L778.6 1633.6L780.5 1627.4L780.5 1569.8L782.3 1566.4L782.3 1545.7L784.1 1545.6L784.1 1566.4L785.9 1569.9L785.9 1630.1L787.8 1636.5L787.8 1726L789.6 1734.3L789.6 1821.5L789.6 1806.5L791.4 1797.7L791.4 1697L793.2 1689.2L793.2 1608.6L795.1 1603.1L795.1 1556L796.9 1553.8L796.9 1545.6L796.9 1548.1L798.7 1549.4L798.7 1585.4L800.5 1590L800.5 1661.4L802.4 1668.6L802.4 1763.8L804.2 1772.4L804.2 1821.4L804.2 1768.8L806 1760.3L806 1701.1" stroke="#0000ff" stroke-width="3.6" fill="none" stroke-linejoin="round" stroke-linecap="butt"/></g>
<g clip-path="url(#cpd)"><path d="M81.2 1679.7L81.2 1691.5L82.9 1693.7L82.9 1720.4L84.8 1722.7L84.8 1750.6L86.6 1753L86.6 1781.7L88.4 1784.1L88.4 1813.4L90.2 1815.8L90.2 1822.1L90.2 1799.4L92.1 1797L92.1 1768L93.9 1765.5L93.9 1737.2L95.7 1734.9L95.7 1707.5L97.5 1705.3L97.5 1679.4L99.4 1677.3L99.4 1653.2L101.2 1651.2L101.2 1629.1L103 1627.4L103 1607.7L104.8 1606.1L104.8 1589L106.6 1587.7L106.6 1573.4L108.5 1572.4L108.5 1561.1L110.3 1560.3L110.3 1552.3L112.1 1551.7L112.1 1547L113.9 1546.7L113.9 1545.3L113.9 1545.3L115.8 1545.3L115.8 1547.3L117.6 1547.6L117.6 1552.9L119.4 1553.5L119.4 1562L121.2 1562.9L121.2 1574.6L123.1 1575.7L123.1 1590.5L124.9 1591.8L124.9 1609.4L126.7 1610.9L126.7 1631.1L128.5 1632.8L128.5 1655.3L130.4 1657.3L130.4 1681.7L132.2 1683.8L132.2 1710L134 1712.2L134 1739.7L135.8 1742.1L135.8 1770.6L137.6 1773L137.6 1802.1L139.5 1804.6L139.5 1822.1L139.5 1810.7L141.3 1808.2L141.3 1779.1L143.1 1776.6L143.1 1748L144.9 1745.6L144.9 1717.9L146.8 1715.6L146.8 1689.2L148.6 1687L148.6 1662.2L150.4 1660.2L150.4 1637.4L152.2 1635.6L152.2 1615L154.1 1613.3L154.1 1595.3L155.9 1593.9L155.9 1578.6L157.7 1577.4L157.7 1565.1L159.5 1564.2L159.5 1555L161.4 1554.4L161.4 1548.4L163.2 1548.1L163.2 1545.5L165 1545.4L165 1545.3L165 1546.2L166.8 1546.4L166.8 1550.5L168.6 1551L168.6 1558.4L170.5 1559.1L170.5 1569.8L172.3 1570.8L172.3 1584.5L174.1 1585.7L174.1 1602.3L175.9 1603.8L175.9 1623.1L177.8 1624.8L177.8 1646.4L179.6 1648.3L179.6 1672.1L181.4 1674.2L181.4 1699.8L183.2 1702L183.2 1729L185.1 1731.4L185.1 1759.5L186.9 1761.9L186.9 1775.5" stroke="#ff0000" stroke-width="3.3" fill="none" stroke-linejoin="round" stroke-linecap="butt"/><path d="M186.9 1761.9L186.9 1775.5L188.7 1776.2L188.7 1784.5L190.5 1785.2L190.5 1793.6L192.4 1794.3L192.4 1802.7L194.2 1803.4L194.2 1811.7L196 1812.4L196 1820.8L197.8 1821.5L197.8 1822.2L197.8 1815.5L199.6 1814.9L199.6 1808.2L201.5 1807.7L201.5 1802.9L203.3 1802.6L203.3 1800.2L205.1 1800.1L205.1 1799.9L205.1 1800.4L206.9 1800.6L206.9 1803.7L208.8 1804L208.8 1809.4L210.6 1810L210.6 1816.9L212.4 1817.6L212.4 1822.2L212.4 1818.9L214.2 1818.2L214.2 1809.8L216.1 1809.2L216.1 1802.4L217.9 1801.9L217.9 1797.6L219.7 1797.4L219.7 1796.2L219.7 1796.2L221.5 1796.3L221.5 1798.3L223.4 1798.6L223.4 1803.7L225.2 1804.2L225.2 1811.5L227 1812.2L227 1820.8L228.8 1821.6L228.8 1822.2L228.8 1812.7L230.6 1811.9L230.6 1802.7L232.5 1802L232.5 1795.3L234.3 1794.9L234.3 1791.6L236.1 1791.4L236.1 1791.2L236.1 1791.9L237.9 1792.1L237.9 1796.4L239.8 1796.9L239.8 1804.4L241.6 1805.2L241.6 1814.9L243.4 1815.7L243.4 1822.2L243.4 1817.6L245.2 1816.6L245.2 1805L247.1 1804.1L247.1 1794.6L248.9 1794L248.9 1788.1L250.7 1787.7L250.7 1786.1L250.7 1786.1L252.5 1786.2L252.5 1788.8L254.4 1789.2L254.4 1795.6L256.2 1796.3L256.2 1805.6L258 1806.5L258 1817.7L259.8 1818.7L259.8 1822.2L259.8 1813.1L261.6 1812L261.6 1799.7L263.5 1798.8L263.5 1789.1L265.3 1788.4L265.3 1782.6L267.1 1782.2L267.1 1780.8L267.1 1780.9L268.9 1781L268.9 1784.6L270.8 1785.1L270.8 1793.3L272.6 1794.2L272.6 1805.9L274.4 1807L274.4 1820.7L276.2 1821.9L276.2 1822.2L276.2 1807L278.1 1805.7L278.1 1791.9L279.9 1790.8L279.9 1780.8L281.7 1780.2L281.7 1775.4L283.5 1775.2L283.5 1774.9L283.5 1776.1L285.4 1776.4L285.4 1782.6L287.2 1783.4L287.2 1794.2L289 1795.2L289 1809.3L290.8 1810.5L290.8 1822.2L290.8 1818.1L292.6 1816.7L292.6 1799.9L294.5 1798.6L294.5 1784.4L296.3 1783.4L296.3 1773.8L298.1 1773.2L298.1 1769.2L299.9 1769.1L299.9 1769.1L299.9 1771.5L301.8 1771.9L301.8 1780.4L303.6 1781.4L303.6 1795L305.4 1796.3L305.4 1813.1L307.2 1814.6L307.2 1822.1L307.2 1810.8L309.1 1809.1L309.1 1790.3L310.9 1788.9L310.9 1774.2L312.7 1773.1L312.7 1764.3L314.5 1763.9L314.5 1762L314.5 1762.2L316.4 1762.4L316.4 1767.9L318.2 1768.6L318.2 1780.6L320 1781.8L320 1798.6L321.8 1800.2L321.8 1819.7L323.6 1821.4L323.6 1822.1L323.6 1801.2L325.5 1799.4L325.5 1779.9L327.3 1778.5L327.3 1764.1L329.1 1763.2L329.1 1755.8L330.9 1755.5L330.9 1754.8L330.9 1756L332.8 1756.4L332.8 1765L334.6 1766L334.6 1781.5L336.4 1783L336.4 1803.3L338.2 1805.2L338.2 1822.1L338.2 1816.3L340.1 1814.2L340.1 1790.2L341.9 1788.3L341.9 1768.2L343.7 1766.8L343.7 1753.4L345.5 1752.6L345.5 1747.6L347.4 1747.6L347.4 1747.6L347.4 1751.7L349.2 1752.5L349.2 1765.2L351 1766.6L351 1786.2L352.8 1788.1L352.8 1812L354.6 1814.1L354.6 1822.1L354.6 1804.1L356.5 1801.9L356.5 1777.3L358.3 1775.4L358.3 1756.4L360.1 1755.1L360.1 1744.3L361.9 1743.8L361.9 1741.9L361.9 1742.5L363.8 1742.8L363.8 1751L365.6 1752.1L365.6 1768.7L367.4 1770.4L367.4 1793.3L369.2 1795.4L369.2 1821.6L371.1 1820.5L371.1 1791.6L372.9 1789.2L372.9 1764.1L374.7 1762.2L374.7 1744.1L376.5 1742.9L376.5 1734.1L378.4 1733.8L378.4 1733.3L378.4 1735.5L380.2 1736L380.2 1747.6L382 1748.9L382 1769L383.8 1771L383.8 1797L385.6 1799.4L385.6 1822.1L385.6 1815.9L387.5 1813.3L387.5 1783L389.3 1780.6L389.3 1755L391.1 1753.2L391.1 1735.3L392.9 1734.3L392.9 1726.5L394.8 1726.3L394.8 1726.1L394.8 1729.4L396.6 1730.1L396.6 1743.7L398.4 1745.2L398.4 1767.4L400.2 1769.6L400.2 1797.9L402.1 1800.4L402.1 1822.1L402.1 1812.6L403.9 1809.8L403.9 1777.9L405.7 1775.4L405.7 1748.6L407.5 1746.7L407.5 1728.2L409.4 1727.1L409.4 1719.3L411.2 1719.1L411.2 1719L411.2 1723.2L413 1724.1L413 1740.1L414.8 1741.9L414.8 1767.8L416.6 1770.3L416.6 1802.7L418.5 1805.6L418.5 1822L418.5 1802.9L420.3 1799.8L420.3 1764.9L422.1 1762.2L422.1 1734.4L423.9 1732.5L423.9 1715.5L425.8 1714.6L425.8 1710.4L425.8 1710.6L427.6 1710.9L427.6 1720.3L429.4 1721.6L429.4 1743.2L431.2 1745.5L431.2 1776.4L433.1 1779.3L433.1 1815.5L434.9 1818.6L434.9 1822L434.9 1786.5L436.7 1783.3L436.7 1748.1L438.5 1745.5L438.5 1719.3L440.4 1717.6L440.4 1703.8L442.2 1703.3L442.2 1701.8L442.2 1703.6L444 1704.2L444 1718.2L445.8 1719.8L445.8 1745.5L447.6 1748.1L447.6 1782.3L449.5 1785.5L449.5 1822L449.5 1820.4L451.3 1816.9L451.3 1775.9L453.1 1772.6L453.1 1737.1L454.9 1734.4L454.9 1708.8L456.8 1707.1L456.8 1694.4L458.6 1694L458.6 1693.1L458.6 1696L460.4 1696.9L460.4 1713.9L462.2 1715.9L462.2 1745.9L464.1 1748.8L464.1 1787.7L465.9 1791.2L465.9 1822L465.9 1809.8L467.7 1805.9L467.7 1762L469.5 1758.5L469.5 1722L471.4 1719.4L471.4 1695L473.2 1693.6L473.2 1684.6L475 1684.5L475 1684.5L475 1691.3L476.8 1692.5L476.8 1713.7L478.6 1716L478.6 1749L480.5 1752.1L480.5 1792.9L482.3 1796.6L482.3 1821.9L482.3 1803.1L484.1 1799.2L484.1 1755L485.9 1751.5L485.9 1714.9L487.8 1712.3L487.8 1687.6L489.6 1686.1L489.6 1676.3L491.4 1676.1L491.4 1676.1L491.4 1683L493.2 1684.3L493.2 1707.9L495.1 1710.5L495.1 1747.7L496.9 1751.2L496.9 1797.2L498.7 1801.3L498.7 1821.9L498.7 1793L500.5 1788.7L500.5 1741L502.4 1737.3L502.4 1699.6L504.2 1697L504.2 1674.2L506 1673L506 1667.8L506 1668.2L507.8 1668.6L507.8 1682.9L509.6 1684.8L509.6 1716.4L511.5 1719.7L511.5 1764.3L513.3 1768.5L513.3 1820.1L515.1 1819.9L515.1 1765L516.9 1760.6L516.9 1713.1L518.8 1709.6L518.8 1676L520.6 1673.9L520.6 1658.7L522.4 1658.3L522.4 1657.8L522.4 1662.9L524.2 1664L524.2 1686.2L526.1 1688.7L526.1 1725.6L527.9 1729.2L527.9 1776.6L529.7 1780.8L529.7 1821.9L529.7 1811L531.5 1806.3L531.5 1752.5L533.4 1748.2L533.4 1702.3L535.2 1698.9L535.2 1666.3L537 1664.3L537 1648.9L538.8 1648.5L538.8 1647.7L538.8 1652.4L540.6 1653.6L540.6 1677.3L542.5 1680L542.5 1720.3L544.3 1724.3L544.3 1776.2L546.1 1780.9L546.1 1821.8L546.1 1805.8L547.9 1800.7L547.9 1742.6L549.8 1738L549.8 1689.5L551.6 1686L551.6 1653.1L553.4 1651.1L553.4 1638L555.2 1637.8L555.2 1637.7L555.2 1646.2L557.1 1647.7L557.1 1676.7L558.9 1679.9L558.9 1725.7L560.7 1730.1L560.7 1786.9L562.5 1791.9L562.5 1821.8L562.5 1790.2L564.4 1784.9L564.4 1724.8L566.2 1720.1L566.2 1671.7L568 1668.3L568 1637.7L569.8 1636L569.8 1627.1L569.8 1627.2L571.6 1627.4L571.6 1641.3L573.5 1643.3L573.5 1678.1L575.3 1681.8L575.3 1733.2L577.1 1738L577.1 1799.4L578.9 1804.8L578.9 1821.8L578.9 1773.7L580.8 1768.2L580.8 1707.1L582.6 1702.5L582.6 1655L584.4 1651.8L584.4 1624.1L586.2 1622.7L586.2 1617.1L586.2 1618L588.1 1618.6L588.1 1637L589.9 1639.5L589.9 1678.5L591.7 1682.5L591.7 1737.5L593.5 1742.6L593.5 1806.8L595.4 1812.3L595.4 1821.8L595.4 1763.5L597.2 1757.8L597.2 1695.3L599 1690.6L599 1642.7L600.8 1639.4L600.8 1611.8L602.6 1610.4L602.6 1605.3L602.6 1606.6L604.5 1607.4L604.5 1629.8L606.3 1632.7L606.3 1678.8L608.1 1683.5L608.1 1747.2L609.9 1753L609.9 1821.8L609.9 1818.8L611.8 1812.2L611.8 1736.6L613.6 1730.6L613.6 1666L615.4 1661.3L615.4 1616.4L617.2 1613.7L617.2 1594.5L619.1 1594.1L619.1 1593.8L619.1 1602.5L620.9 1604.3L620.9 1637.9L622.7 1641.7L622.7 1696.1L624.5 1701.4L624.5 1770L626.4 1776.2L626.4 1821.7L626.4 1792.8L628.2 1786.3L628.2 1712L630 1706.2L630 1645L631.8 1640.6L631.8 1600L633.6 1597.6L633.6 1582.5L635.5 1582.4L635.5 1582.4L635.5 1595.1L637.3 1597.3L637.3 1636.5L639.1 1640.8L639.1 1701.5L640.9 1707.3L640.9 1781.8L642.8 1788.3L642.8 1821.6L642.8 1775L644.6 1768.1L644.6 1691L646.4 1685L646.4 1623.6L648.2 1619.3L648.2 1581.4L650.1 1579.4L650.1 1569.5L650.1 1569.8L651.9 1570.2L651.9 1589.2L653.7 1591.9L653.7 1636.7L655.5 1641.4L655.5 1706.6L657.4 1712.8L657.4 1790.5L659.2 1797.3L659.2 1821.6L659.2 1763.4L661 1756.4L661 1678.1L662.8 1672.1L662.8 1610.3L664.6 1606L664.6 1567.9L666.5 1565.9L666.5 1556L666.5 1556.3L668.3 1556.8L668.3 1577.8L670.1 1580.8L670.1 1630.3L671.9 1635.5L671.9 1707.2L673.8 1713.9L673.8 1798.6L675.6 1806L675.6 1821.6L675.6 1748.1L677.4 1740.6L677.4 1658.5L679.2 1652.2L679.2 1589.6L681.1 1585.4L681.1 1550.3L682.9 1548.7L682.9 1543.1L682.9 1545.5L684.7 1546.6L684.7 1575.8L686.5 1579.5L686.5 1637.3L688.4 1643.2L688.4 1722.3L690.2 1729.6L690.2 1820L692 1816.5L692 1721.6L693.8 1714L693.8 1631.4L695.6 1625.3L695.6 1565.3L697.5 1561.5L697.5 1531.9L699.3 1530.8L699.3 1528.7L699.3 1536.4L701.1 1538.6L701.1 1583.3L702.9 1588.5L702.9 1665.9L704.8 1673.5L704.8 1772L706.6 1780.7L706.6 1821.5L706.6 1762.5L708.4 1754.3L708.4 1664.1L710.2 1657.3L710.2 1589.4L712.1 1585L712.1 1549.6L713.9 1548.2L713.9 1544.9L713.9 1550.9L715.7 1552.8L715.7 1594.4L717.5 1599.4L717.5 1673.4L719.4 1680.6L719.4 1775.6L721.2 1784L721.2 1821.5L721.2 1759.5L723 1751.2L723 1659.8L724.8 1653L724.8 1585.5L726.6 1581.1L726.6 1548L728.5 1546.9L728.5 1544.9L728.5 1554L730.3 1556.4L730.3 1604.8L732.1 1610.4L732.1 1692.1L733.9 1700L733.9 1801.3L735.8 1810.1L735.8 1821.5L735.8 1730.6L737.6 1722.3L737.6 1633.3L739.4 1626.9L739.4 1567.7L741.2 1564.4L741.2 1544.9L741.2 1544.9L743.1 1545.1L743.1 1568.8L744.9 1572.6L744.9 1635.7L746.7 1642.4L746.7 1734.1L748.5 1742.6L748.5 1821.5L748.5 1797.1L750.4 1788.3L750.4 1688L752.2 1680.3L752.2 1601.6L754 1596.4L754 1552.6L755.8 1550.7L755.8 1544.9L755.8 1549.2L757.6 1550.9L757.6 1591.8L759.5 1596.8L759.5 1673L761.3 1680.5L761.3 1779.3L763.1 1788L763.1 1821.4L763.1 1751.8L764.9 1743.3L764.9 1650.1L766.8 1643.3L766.8 1577.4L768.6 1573.3L768.6 1545.7L770.4 1545.2L770.4 1544.9L770.4 1559.5L772.2 1562.4L772.2 1614.6L774.1 1620.4L774.1 1702.4L775.9 1710.2L775.9 1809.1L777.7 1817.7L777.7 1821.6L777.7 1726.8L779.5 1718.8L779.5 1633.1L781.4 1626.9L781.4 1569.1L783.2 1565.7L783.2 1545L785 1544.9L785 1565.7L786.8 1569.2L786.8 1629.6L788.6 1636L788.6 1725.8L790.5 1734.1L790.5 1821.5L790.5 1806.4L792.3 1797.6L792.3 1696.7L794.1 1688.9L794.1 1608L795.9 1602.5L795.9 1555.4L797.8 1553.1L797.8 1544.9L797.8 1547.4L799.6 1548.8L799.6 1584.8L801.4 1589.4L801.4 1661L803.2 1668.2L803.2 1763.7L805.1 1772.3L805.1 1821.4L805.1 1768.7L806.9 1760.1L806.9 1700.8" stroke="#ff0000" stroke-width="3.7" fill="none" stroke-linejoin="round" stroke-linecap="butt"/></g>
<rect x="81.2" y="77.7" width="725.88" height="417" fill="none" stroke="#000" stroke-width="2.0"/>
<path d="M70.8 494.7H817.6" stroke="#000" stroke-width="2.0" fill="none"/>
<path d="M81.2 494.7V503M186.4 494.7V503M291.6 494.7V503M396.6 494.7V503M501.8 494.7V503M607.1 494.7V503M712.1 494.7V503" stroke="#000" stroke-width="2.0" fill="none"/>
<rect x="81.2" y="523.8" width="725.88" height="401.2" fill="none" stroke="#000" stroke-width="2.0"/>
<path d="M81.2 925H807.1" stroke="#000" stroke-width="2.0" fill="none"/>
<path d="M81.2 925V933.3M186.4 925V933.3M291.6 925V933.3M396.6 925V933.3M501.8 925V933.3M607.1 925V933.3M712.1 925V933.3" stroke="#000" stroke-width="2.0" fill="none"/>
<rect x="81.2" y="959.1" width="725.88" height="417.3" fill="none" stroke="#000" stroke-width="2.0"/>
<path d="M70.8 1376.4H817.4" stroke="#000" stroke-width="2.0" fill="none"/>
<path d="M81.2 1376.4V1384.7M186.4 1376.4V1384.7M291.6 1376.4V1384.7M396.6 1376.4V1384.7M501.8 1376.4V1384.7M607.1 1376.4V1384.7M712.1 1376.4V1384.7" stroke="#000" stroke-width="2.0" fill="none"/>
<rect x="81.2" y="1405.3" width="725.88" height="417" fill="none" stroke="#000" stroke-width="2.0"/>
<path d="M69.9 1822.3H817.6" stroke="#000" stroke-width="2.0" fill="none"/>
<path d="M81.2 1822.3V1830.6M186.4 1822.3V1830.6M291.6 1822.3V1830.6M396.6 1822.3V1830.6M501.8 1822.3V1830.6M607.1 1822.3V1830.6M712.1 1822.3V1830.6" stroke="#000" stroke-width="2.0" fill="none"/>
</g>
<text x="130.82" y="42.40" font-size="48.2" font-family="Liberation Sans, sans-serif" textLength="114.75" lengthAdjust="spacingAndGlyphs" >Silver</text>
<text x="376.95" y="47.70" font-size="46.5" font-family="Liberation Sans, sans-serif" textLength="86.41" lengthAdjust="spacingAndGlyphs" >QDs</text>
<path d="M272.5 24.7 L277.5 20 L298.7 40.1 L297.3 29 L315.2 61.6 L281.8 44 L293 45.5 Z" fill="#000"/>
<path d="M347.4 25.8 L353 29.3 L344.9 44 L355.2 39.7 L328.1 64.8 L336.3 29 L338.1 40.1 Z" fill="#000"/>
<text x="189.48" y="154.80" font-size="49.4" font-family="Liberation Sans, sans-serif" textLength="55.54" lengthAdjust="spacingAndGlyphs" >(a)</text>
<text x="187.45" y="601.50" font-size="47.9" font-family="Liberation Sans, sans-serif" textLength="58.10" lengthAdjust="spacingAndGlyphs" >(b)</text>
<text x="185.16" y="1048.90" font-size="48.4" font-family="Liberation Sans, sans-serif" textLength="53.49" lengthAdjust="spacingAndGlyphs" >(c)</text>
<text x="187.85" y="1494.70" font-size="48.9" font-family="Liberation Sans, sans-serif" textLength="60.10" lengthAdjust="spacingAndGlyphs" >(d)</text>
<text x="86.41" y="488.40" font-size="47.5" font-family="Liberation Sans, sans-serif" textLength="26.88" lengthAdjust="spacingAndGlyphs" >0</text>
<text x="86.41" y="912.30" font-size="47.5" font-family="Liberation Sans, sans-serif" textLength="26.88" lengthAdjust="spacingAndGlyphs" >0</text>
<text x="85.86" y="1358.90" font-size="48.7" font-family="Liberation Sans, sans-serif" textLength="27.57" lengthAdjust="spacingAndGlyphs" >0</text>
<text x="85.86" y="1804.40" font-size="47.3" font-family="Liberation Sans, sans-serif" textLength="27.57" lengthAdjust="spacingAndGlyphs" >0</text>
<text x="131.10" y="1872.00" font-size="48.0" font-family="Liberation Sans, sans-serif" textLength="27.11" lengthAdjust="spacingAndGlyphs" >0</text>
<text x="1245.97" y="1871.80" font-size="47.2" font-family="Liberation Sans, sans-serif" textLength="105.38" lengthAdjust="spacingAndGlyphs" >7000</text>
<text x="599.05" y="1916.20" font-size="48.4" font-family="Liberation Sans, sans-serif" textLength="292.37" lengthAdjust="spacingAndGlyphs" >Distance (nm)</text>
<g transform="translate(259,358) rotate(-90)"><text x="-0.10" y="0.00" font-size="48" font-family="Liberation Sans, sans-serif" textLength="63.77" lengthAdjust="spacingAndGlyphs" >Air</text></g>
<g transform="translate(1308.2,341.9) rotate(-90)"><text x="-2.13" y="0.00" font-size="49.4" font-family="Liberation Sans, sans-serif" textLength="201.22" lengthAdjust="spacingAndGlyphs" >Substrate</text></g>
<g transform="translate(61.5,456.3) rotate(-90) scale(1.0)"><path d="M23.60 -27.00 C16.30 -28.20 9.30 -28.00 3.80 -23.00 C0.80 -19.50 0.30 -13.50 1.80 -8.50 C3.30 -3.50 9.30 -1.50 18.50 -2.50" stroke="#000" stroke-width="3.6" fill="none" stroke-linecap="butt"/><path d="M19.70 -14.90 L1.50 -14.90" stroke="#000" stroke-width="3.0" fill="none"/><path d="M26.30 -40.00 C24.80 -34.50 21.30 -34.00 17.80 -36.50 C14.30 -39.00 10.30 -38.50 9.30 -34.00" stroke="#000" stroke-width="2.6" fill="none"/><text x="29.6" y="-24" font-size="43.6" font-family="Liberation Sans, sans-serif" text-anchor="start" textLength="60" lengthAdjust="spacingAndGlyphs" >(1)</text><text x="92.5" y="0" font-size="56" font-family="Liberation Sans, sans-serif" text-anchor="start" >,</text><path d="M142.00 -27.00 C134.70 -28.20 127.70 -28.00 122.20 -23.00 C119.20 -19.50 118.70 -13.50 120.20 -8.50 C121.70 -3.50 127.70 -1.50 136.90 -2.50" stroke="#000" stroke-width="3.6" fill="none" stroke-linecap="butt"/><path d="M138.10 -14.90 L119.90 -14.90" stroke="#000" stroke-width="3.0" fill="none"/><path d="M144.70 -40.00 C143.20 -34.50 139.70 -34.00 136.20 -36.50 C132.70 -39.00 128.70 -38.50 127.70 -34.00" stroke="#000" stroke-width="2.6" fill="none"/><text x="148.7" y="-24" font-size="43.6" font-family="Liberation Sans, sans-serif" text-anchor="start" textLength="60" lengthAdjust="spacingAndGlyphs" >(2)</text><text x="226.5" y="0" font-size="54.7" font-family="Liberation Sans, sans-serif" text-anchor="start" textLength="144.5" lengthAdjust="spacingAndGlyphs" >(a. u.)</text></g>
<g transform="translate(64.5,910.8) rotate(-90) scale(1.003)"><path d="M23.60 -27.00 C16.30 -28.20 9.30 -28.00 3.80 -23.00 C0.80 -19.50 0.30 -13.50 1.80 -8.50 C3.30 -3.50 9.30 -1.50 18.50 -2.50" stroke="#000" stroke-width="3.6" fill="none" stroke-linecap="butt"/><path d="M19.70 -14.90 L1.50 -14.90" stroke="#000" stroke-width="3.0" fill="none"/><path d="M26.30 -40.00 C24.80 -34.50 21.30 -34.00 17.80 -36.50 C14.30 -39.00 10.30 -38.50 9.30 -34.00" stroke="#000" stroke-width="2.6" fill="none"/><text x="29.6" y="-24" font-size="43.6" font-family="Liberation Sans, sans-serif" text-anchor="start" textLength="60" lengthAdjust="spacingAndGlyphs" >(1)</text><text x="92.5" y="0" font-size="56" font-family="Liberation Sans, sans-serif" text-anchor="start" >,</text><path d="M142.00 -27.00 C134.70 -28.20 127.70 -28.00 122.20 -23.00 C119.20 -19.50 118.70 -13.50 120.20 -8.50 C121.70 -3.50 127.70 -1.50 136.90 -2.50" stroke="#000" stroke-width="3.6" fill="none" stroke-linecap="butt"/><path d="M138.10 -14.90 L119.90 -14.90" stroke="#000" stroke-width="3.0" fill="none"/><path d="M144.70 -40.00 C143.20 -34.50 139.70 -34.00 136.20 -36.50 C132.70 -39.00 128.70 -38.50 127.70 -34.00" stroke="#000" stroke-width="2.6" fill="none"/><text x="148.7" y="-24" font-size="43.6" font-family="Liberation Sans, sans-serif" text-anchor="start" textLength="60" lengthAdjust="spacingAndGlyphs" >(2)</text><text x="226.5" y="0" font-size="54.7" font-family="Liberation Sans, sans-serif" text-anchor="start" textLength="144.5" lengthAdjust="spacingAndGlyphs" >(a. u.)</text></g>
<g transform="translate(62.2,1357.6) rotate(-90) scale(1.0)"><path d="M23.60 -27.00 C16.30 -28.20 9.30 -28.00 3.80 -23.00 C0.80 -19.50 0.30 -13.50 1.80 -8.50 C3.30 -3.50 9.30 -1.50 18.50 -2.50" stroke="#000" stroke-width="3.6" fill="none" stroke-linecap="butt"/><path d="M19.70 -14.90 L1.50 -14.90" stroke="#000" stroke-width="3.0" fill="none"/><path d="M26.30 -40.00 C24.80 -34.50 21.30 -34.00 17.80 -36.50 C14.30 -39.00 10.30 -38.50 9.30 -34.00" stroke="#000" stroke-width="2.6" fill="none"/><text x="29.6" y="-24" font-size="43.6" font-family="Liberation Sans, sans-serif" text-anchor="start" textLength="60" lengthAdjust="spacingAndGlyphs" >(1)</text><text x="92.5" y="0" font-size="56" font-family="Liberation Sans, sans-serif" text-anchor="start" >,</text><path d="M142.00 -27.00 C134.70 -28.20 127.70 -28.00 122.20 -23.00 C119.20 -19.50 118.70 -13.50 120.20 -8.50 C121.70 -3.50 127.70 -1.50 136.90 -2.50" stroke="#000" stroke-width="3.6" fill="none" stroke-linecap="butt"/><path d="M138.10 -14.90 L119.90 -14.90" stroke="#000" stroke-width="3.0" fill="none"/><path d="M144.70 -40.00 C143.20 -34.50 139.70 -34.00 136.20 -36.50 C132.70 -39.00 128.70 -38.50 127.70 -34.00" stroke="#000" stroke-width="2.6" fill="none"/><text x="148.7" y="-24" font-size="43.6" font-family="Liberation Sans, sans-serif" text-anchor="start" textLength="60" lengthAdjust="spacingAndGlyphs" >(2)</text><text x="226.5" y="0" font-size="54.7" font-family="Liberation Sans, sans-serif" text-anchor="start" textLength="144.5" lengthAdjust="spacingAndGlyphs" >(a. u.)</text></g>
<g transform="translate(65.0,1801.0) rotate(-90) scale(1.028)"><path d="M23.60 -27.00 C16.30 -28.20 9.30 -28.00 3.80 -23.00 C0.80 -19.50 0.30 -13.50 1.80 -8.50 C3.30 -3.50 9.30 -1.50 18.50 -2.50" stroke="#000" stroke-width="3.6" fill="none" stroke-linecap="butt"/><path d="M19.70 -14.90 L1.50 -14.90" stroke="#000" stroke-width="3.0" fill="none"/><path d="M26.30 -40.00 C24.80 -34.50 21.30 -34.00 17.80 -36.50 C14.30 -39.00 10.30 -38.50 9.30 -34.00" stroke="#000" stroke-width="2.6" fill="none"/><text x="29.6" y="-24" font-size="43.6" font-family="Liberation Sans, sans-serif" text-anchor="start" textLength="60" lengthAdjust="spacingAndGlyphs" >(1)</text><text x="92.5" y="0" font-size="56" font-family="Liberation Sans, sans-serif" text-anchor="start" >,</text><path d="M142.00 -27.00 C134.70 -28.20 127.70 -28.00 122.20 -23.00 C119.20 -19.50 118.70 -13.50 120.20 -8.50 C121.70 -3.50 127.70 -1.50 136.90 -2.50" stroke="#000" stroke-width="3.6" fill="none" stroke-linecap="butt"/><path d="M138.10 -14.90 L119.90 -14.90" stroke="#000" stroke-width="3.0" fill="none"/><path d="M144.70 -40.00 C143.20 -34.50 139.70 -34.00 136.20 -36.50 C132.70 -39.00 128.70 -38.50 127.70 -34.00" stroke="#000" stroke-width="2.6" fill="none"/><text x="148.7" y="-24" font-size="43.6" font-family="Liberation Sans, sans-serif" text-anchor="start" textLength="60" lengthAdjust="spacingAndGlyphs" >(2)</text><text x="226.5" y="0" font-size="54.7" font-family="Liberation Sans, sans-serif" text-anchor="start" textLength="144.5" lengthAdjust="spacingAndGlyphs" >(a. u.)</text></g>
</svg></body></html>
